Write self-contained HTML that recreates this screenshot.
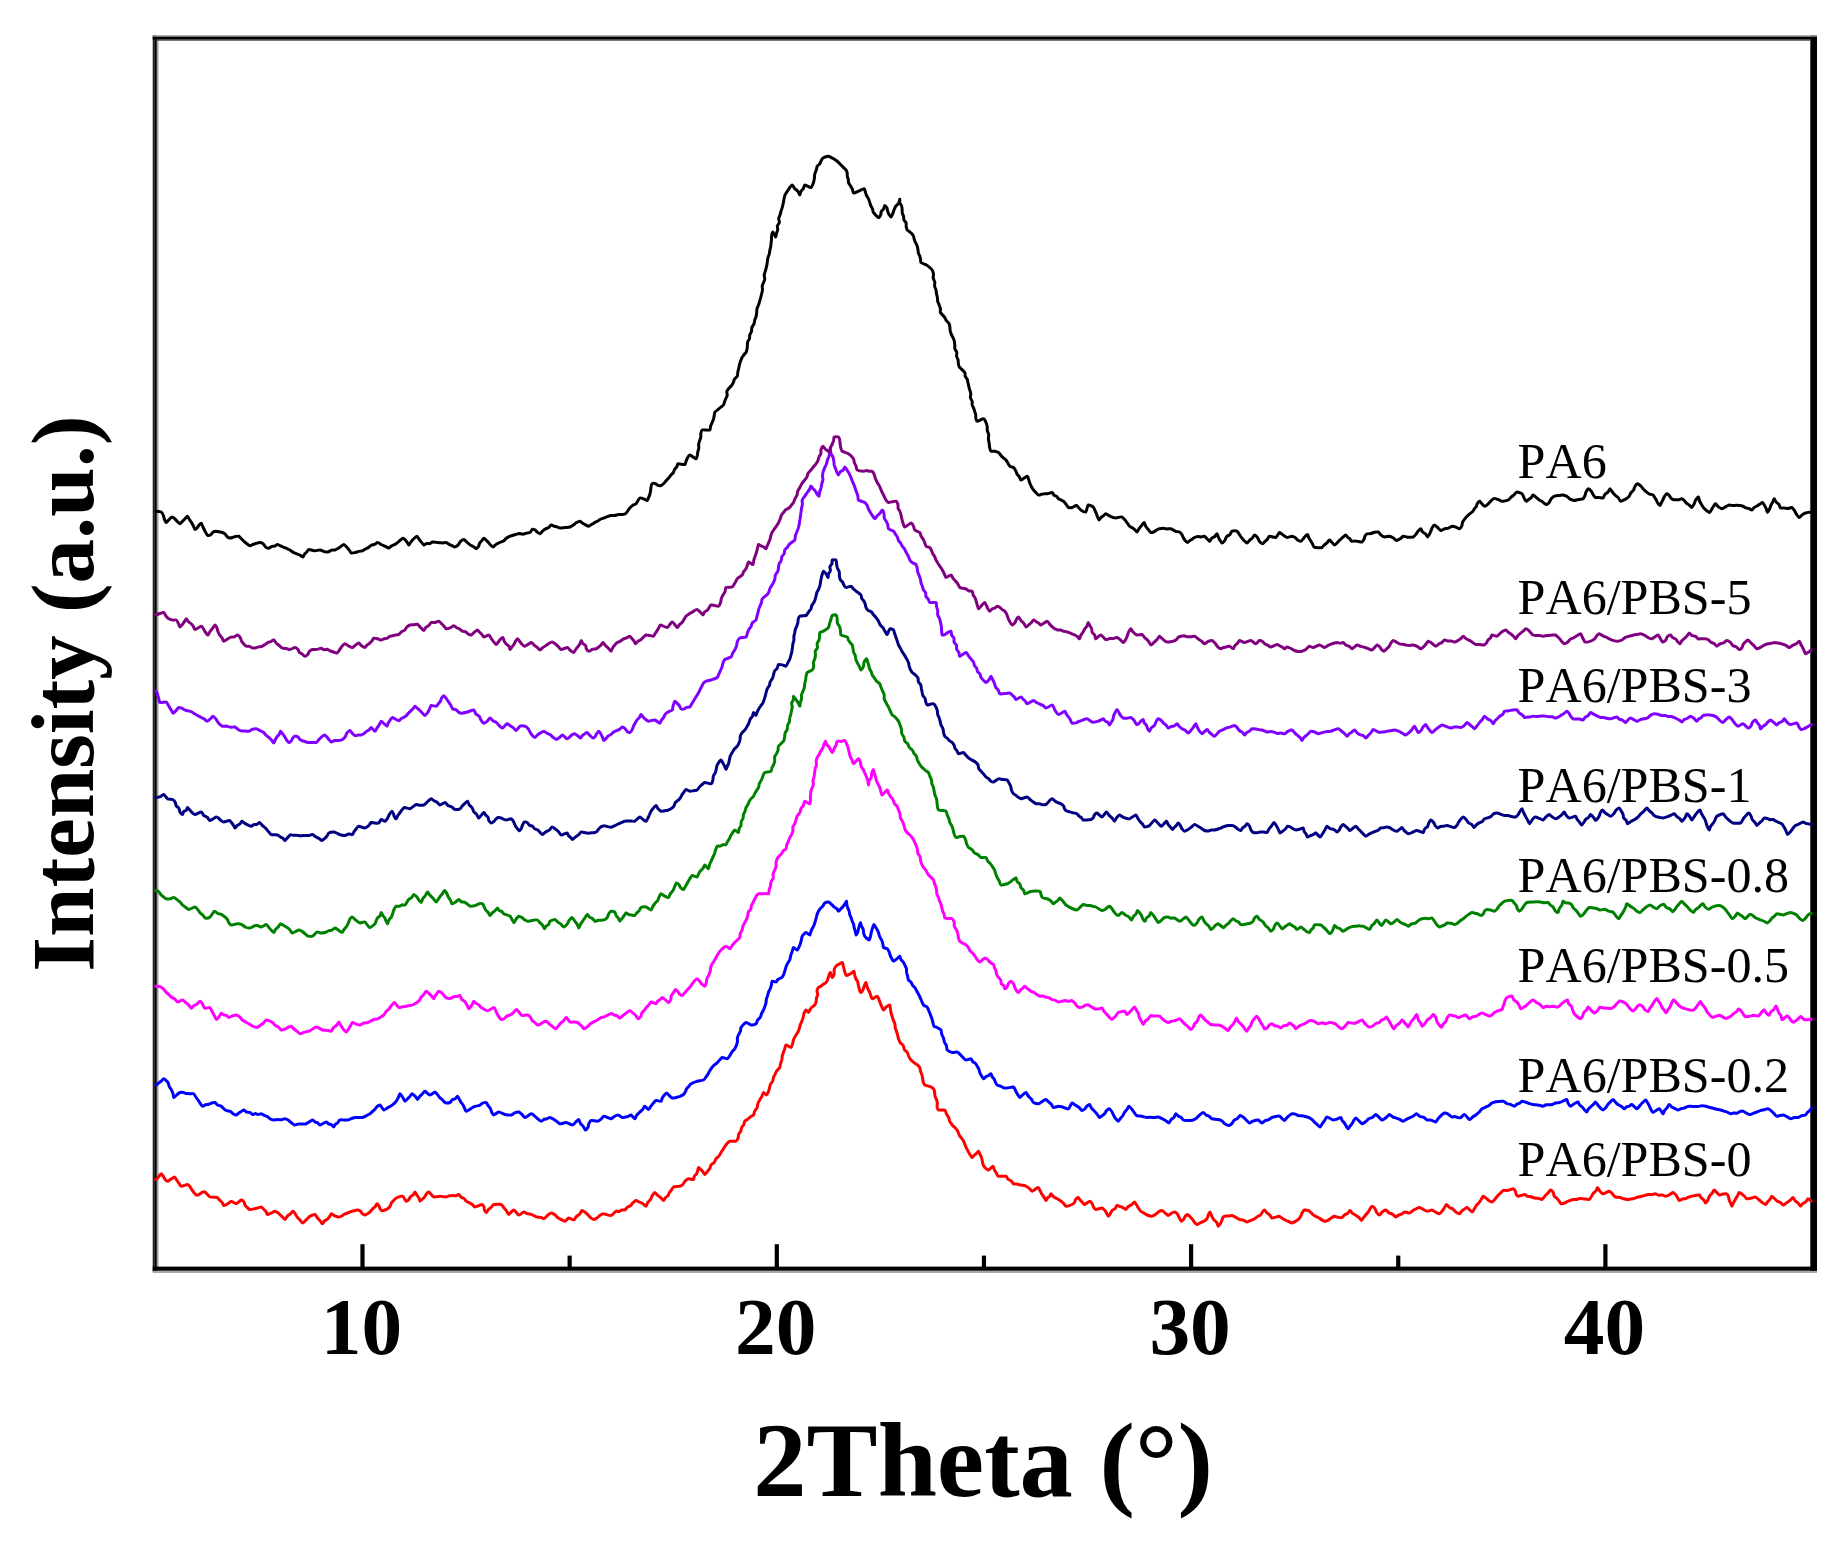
<!DOCTYPE html>
<html lang="en"><head><meta charset="utf-8"><title>XRD patterns</title>
<style>
html,body{margin:0;padding:0;background:#fff;}
body{width:1844px;height:1550px;overflow:hidden;}
svg{display:block;}
.c{fill:none;stroke-width:3;stroke-linejoin:round;stroke-linecap:butt;}
.lab{font-family:"Liberation Serif",serif;font-size:50.1px;fill:#000;font-kerning:none;font-feature-settings:"kern" 0;}
.tick{font-family:"Liberation Serif",serif;font-weight:bold;font-size:81.4px;fill:#000;text-anchor:middle;}
.xt{font-family:"Liberation Serif",serif;font-weight:bold;font-size:106.5px;fill:#000;text-anchor:middle;}
.yt{font-family:"Liberation Serif",serif;font-weight:bold;font-size:89px;fill:#000;text-anchor:middle;}
</style></head><body>
<svg width="1844" height="1550" viewBox="0 0 1844 1550">
<rect width="1844" height="1550" fill="#fff"/>

<defs><clipPath id="cp"><rect x="154.6" y="30" width="1657.6" height="1250"/></clipPath><clipPath id="cq"><rect x="1812.2" y="30" width="4.6" height="1250"/></clipPath></defs>
<g fill="#000">
<rect x="157.6" y="36.9" width="1.2" height="1233" fill="#c0c0c0"/>
<rect x="156.7" y="36.9" width="0.9" height="1233" fill="#6a6a6a"/>
<rect x="152.7" y="35.6" width="1.7" height="1236.4" fill="#222"/>
<rect x="154.3" y="35.6" width="2.4" height="1236.4"/>
<rect x="1810.3" y="35.6" width="6.7" height="1236.4"/>
<rect x="152.7" y="35.4" width="1664.3" height="1.6" fill="#808080"/>
<rect x="157" y="39.4" width="1653.3" height="1.4" fill="#5a5a5a"/>
<rect x="152.7" y="36.9" width="1664.3" height="2.6"/>
<rect x="152.7" y="1270.6" width="1664.3" height="2.4" fill="#a8a8a8"/>
<rect x="152.7" y="1266.6" width="1664.3" height="4.1"/>
<rect x="360.40" y="1244.2" width="4.2" height="24" />
<rect x="774.70" y="1244.2" width="4.2" height="24" />
<rect x="1189.00" y="1244.2" width="4.2" height="24" />
<rect x="1603.30" y="1244.2" width="4.2" height="24" />
<rect x="567.55" y="1255.6" width="4.2" height="12" />
<rect x="981.85" y="1255.6" width="4.2" height="12" />
<rect x="1396.15" y="1255.6" width="4.2" height="12" />
</g>
<g clip-path="url(#cp)"><g id="cv">
<path class="c" stroke="#ff0000" d="M153.0 1179.5C153.4 1179.5 155.6 1179.8 156.2 1179.5C156.9 1179.2 158.1 1177.2 158.7 1176.6C159.2 1175.9 160.7 1173.8 161.2 1173.8C161.8 1173.7 162.9 1175.7 163.3 1176.3C163.7 1176.9 164.5 1178.6 164.9 1179.2C165.4 1179.7 166.8 1181.3 167.5 1181.2C168.2 1181.2 170.2 1179.5 171.0 1179.1C171.7 1178.6 173.9 1176.9 174.5 1177.0C175.1 1177.1 176.3 1179.4 176.7 1180.1C177.2 1180.8 178.4 1182.6 178.9 1183.2C179.4 1183.9 180.3 1186.1 181.2 1186.2C182.2 1186.4 186.5 1184.4 187.5 1184.5C188.5 1184.6 189.6 1186.2 190.1 1186.8C190.5 1187.4 191.4 1189.1 191.9 1189.8C192.3 1190.4 193.4 1191.9 193.9 1192.5C194.4 1193.1 195.7 1194.8 196.2 1195.0C196.8 1195.2 198.7 1194.7 199.3 1194.4C199.9 1194.1 201.3 1192.7 201.9 1192.4C202.5 1192.2 204.1 1191.5 205.0 1192.0C205.9 1192.5 208.7 1196.4 210.0 1197.0C211.3 1197.6 216.0 1197.2 217.0 1197.5C218.0 1197.8 218.9 1199.4 219.5 1200.0C220.0 1200.5 221.5 1201.8 222.0 1202.4C222.4 1203.0 223.3 1205.3 223.8 1205.5C224.2 1205.7 225.9 1204.8 226.5 1204.5C227.0 1204.2 228.4 1203.3 228.9 1202.9C229.4 1202.6 230.4 1201.2 231.2 1201.2C232.1 1201.3 235.2 1203.9 236.2 1203.8C237.3 1203.6 240.4 1200.2 241.2 1200.0C242.1 1199.8 243.5 1201.3 243.9 1201.9C244.4 1202.5 244.7 1204.6 245.1 1205.2C245.5 1205.9 246.8 1207.1 247.3 1207.6C247.8 1208.1 249.3 1209.4 250.0 1209.5C250.7 1209.6 253.0 1209.1 253.8 1208.9C254.6 1208.7 256.7 1208.2 257.5 1208.0C258.4 1207.8 260.6 1206.9 261.2 1207.0C261.9 1207.1 263.2 1208.7 263.7 1209.2C264.2 1209.7 265.6 1210.9 266.0 1211.5C266.4 1212.1 266.9 1214.3 267.5 1214.5C268.1 1214.7 270.4 1213.3 271.3 1212.9C272.1 1212.6 274.3 1211.3 275.0 1211.2C275.7 1211.2 277.3 1212.4 277.9 1212.8C278.5 1213.2 279.8 1214.5 280.3 1215.0C280.8 1215.5 282.2 1216.6 282.7 1217.1C283.3 1217.6 284.5 1219.6 285.0 1219.5C285.5 1219.4 286.6 1216.9 287.2 1216.3C287.7 1215.7 289.7 1214.5 290.3 1214.0C290.9 1213.4 292.4 1211.2 293.0 1211.2C293.6 1211.3 295.0 1213.4 295.4 1214.1C295.9 1214.8 296.8 1216.8 297.4 1217.4C297.9 1218.1 299.5 1219.5 300.1 1220.1C300.7 1220.7 301.9 1222.9 302.5 1223.0C303.1 1223.1 304.6 1221.4 305.1 1220.9C305.7 1220.4 307.0 1219.0 307.5 1218.5C308.0 1218.0 309.2 1216.7 310.0 1216.2C310.8 1215.8 314.2 1214.3 315.0 1214.5C315.8 1214.7 316.8 1217.1 317.3 1217.7C317.9 1218.4 319.5 1220.0 320.0 1220.6C320.6 1221.3 322.0 1223.7 322.5 1223.8C323.0 1223.8 323.9 1221.5 324.4 1221.0C325.0 1220.5 326.9 1219.7 327.4 1219.2C328.0 1218.8 329.2 1217.3 329.6 1216.7C330.0 1216.1 330.7 1213.8 331.2 1213.8C331.8 1213.7 334.0 1215.5 334.8 1215.8C335.6 1216.2 338.0 1217.0 338.8 1217.0C339.5 1217.0 341.2 1216.3 341.8 1216.0C342.4 1215.6 343.8 1214.4 344.5 1214.1C345.1 1213.8 346.8 1213.3 347.5 1213.0C348.2 1212.7 350.0 1211.9 350.7 1211.6C351.4 1211.4 353.3 1210.9 354.1 1210.7C354.8 1210.5 356.8 1210.0 357.5 1210.0C358.2 1210.0 359.8 1210.7 360.4 1211.1C360.9 1211.5 361.8 1213.2 362.3 1213.7C362.8 1214.1 364.2 1215.2 365.0 1215.0C365.8 1214.8 369.2 1212.6 370.0 1212.0C370.8 1211.4 371.7 1209.7 372.2 1209.2C372.8 1208.6 374.5 1207.4 375.1 1206.8C375.6 1206.2 376.6 1203.8 377.0 1203.8C377.4 1203.7 378.6 1205.4 379.0 1206.0C379.3 1206.5 379.7 1208.3 380.1 1208.8C380.5 1209.4 381.7 1210.8 382.5 1210.8C383.3 1210.7 386.7 1209.2 387.5 1208.8C388.3 1208.3 389.7 1207.0 390.1 1206.4C390.5 1205.7 390.9 1203.6 391.3 1202.9C391.7 1202.2 393.2 1201.0 393.7 1200.4C394.3 1199.9 395.3 1198.5 396.2 1198.0C397.2 1197.5 401.4 1195.9 402.5 1196.2C403.6 1196.6 405.5 1200.9 406.2 1201.2C407.0 1201.6 408.4 1199.9 408.9 1199.4C409.4 1198.8 410.1 1197.1 410.6 1196.6C411.1 1196.1 412.9 1195.3 413.3 1194.8C413.8 1194.3 414.6 1192.0 415.0 1192.0C415.4 1192.0 416.4 1194.4 416.8 1195.0C417.2 1195.7 418.5 1197.2 418.9 1197.9C419.2 1198.5 419.6 1201.1 420.0 1201.2C420.4 1201.4 421.8 1199.5 422.3 1199.1C422.8 1198.6 424.2 1197.5 424.7 1196.9C425.1 1196.4 425.9 1194.6 426.3 1194.1C426.8 1193.5 427.9 1191.7 428.8 1192.0C429.6 1192.3 432.5 1196.5 433.8 1197.0C435.0 1197.5 438.6 1196.2 440.0 1196.2C441.4 1196.2 445.2 1197.1 446.2 1197.0C447.3 1196.9 448.6 1195.9 449.3 1195.8C449.9 1195.6 451.7 1195.5 452.5 1195.5C453.2 1195.5 455.1 1195.9 455.8 1195.8C456.5 1195.7 458.2 1194.4 458.8 1194.5C459.3 1194.6 460.4 1196.6 461.0 1197.0C461.6 1197.5 463.6 1198.1 464.1 1198.6C464.7 1199.0 465.7 1200.8 466.2 1201.2C466.8 1201.7 468.7 1202.5 469.4 1202.8C470.1 1203.2 471.8 1204.1 472.4 1204.6C473.0 1205.0 473.9 1207.0 475.0 1207.0C476.1 1207.0 481.0 1204.5 482.0 1204.5C483.0 1204.5 483.7 1206.2 484.0 1206.9C484.3 1207.5 484.2 1209.4 484.4 1210.0C484.7 1210.7 485.8 1212.6 486.2 1212.5C486.7 1212.4 487.8 1210.1 488.4 1209.5C489.0 1208.9 490.7 1207.8 491.3 1207.2C491.9 1206.7 492.7 1204.8 493.8 1204.5C494.8 1204.2 500.1 1204.1 501.2 1204.5C502.4 1204.9 503.2 1207.1 503.8 1207.8C504.4 1208.5 506.1 1210.1 506.6 1210.9C507.2 1211.6 508.0 1214.6 508.8 1214.5C509.5 1214.4 512.6 1209.9 513.8 1210.0C514.9 1210.1 517.6 1214.8 518.8 1215.0C519.9 1215.2 522.8 1212.1 523.8 1212.0C524.7 1211.9 526.5 1213.5 527.4 1213.7C528.2 1214.0 530.6 1214.0 531.4 1214.3C532.3 1214.6 534.3 1215.9 535.0 1216.2C535.7 1216.6 537.2 1217.2 537.9 1217.3C538.5 1217.4 540.3 1217.2 541.0 1217.4C541.6 1217.5 543.2 1218.8 543.8 1218.8C544.3 1218.7 545.7 1217.2 546.2 1216.7C546.7 1216.3 547.9 1215.0 548.5 1214.6C549.0 1214.2 550.5 1213.0 551.2 1213.0C552.0 1213.0 554.1 1214.2 554.9 1214.8C555.6 1215.3 557.1 1217.2 557.8 1217.7C558.5 1218.3 560.5 1219.2 561.3 1219.6C562.1 1220.0 564.2 1221.4 565.0 1221.2C565.8 1221.1 567.8 1218.1 568.8 1218.0C569.7 1217.9 572.9 1220.1 573.8 1220.0C574.6 1219.9 575.6 1217.3 576.3 1216.6C576.9 1216.0 579.1 1214.7 579.7 1214.0C580.3 1213.4 581.4 1210.7 582.0 1210.5C582.6 1210.3 584.5 1211.9 585.2 1212.4C585.9 1212.9 587.4 1214.3 588.0 1214.9C588.6 1215.5 589.9 1217.2 590.5 1217.7C591.1 1218.2 593.0 1219.5 593.8 1219.5C594.5 1219.5 596.5 1218.2 597.2 1217.8C597.9 1217.3 599.4 1215.6 600.1 1215.1C600.8 1214.7 602.6 1213.7 603.8 1213.8C604.9 1213.8 609.7 1215.9 611.0 1215.6C612.3 1215.3 615.1 1211.7 616.0 1211.2C616.9 1210.8 618.4 1211.7 619.0 1211.6C619.7 1211.4 621.1 1210.2 621.8 1210.0C622.4 1209.8 624.1 1210.3 624.8 1210.0C625.4 1209.7 626.7 1207.8 627.3 1207.3C628.0 1206.9 630.0 1206.1 630.6 1205.6C631.3 1205.0 632.4 1203.2 633.0 1202.7C633.6 1202.1 635.3 1200.6 636.0 1200.5C636.7 1200.4 638.7 1201.8 639.5 1202.2C640.3 1202.5 642.3 1203.3 643.0 1203.8C643.7 1204.2 645.5 1206.4 646.0 1206.2C646.5 1206.1 647.2 1203.2 647.7 1202.5C648.2 1201.7 650.0 1200.2 650.5 1199.4C651.0 1198.7 651.8 1196.5 652.2 1195.7C652.7 1195.0 654.2 1192.5 654.8 1192.5C655.3 1192.5 656.9 1194.7 657.6 1195.3C658.2 1195.8 660.1 1197.1 660.7 1197.7C661.4 1198.3 663.0 1200.5 663.5 1200.5C664.0 1200.5 664.9 1198.3 665.4 1197.8C665.9 1197.2 667.6 1196.1 668.1 1195.5C668.5 1194.9 669.1 1193.0 669.5 1192.4C669.9 1191.8 671.1 1190.4 671.6 1189.8C672.0 1189.2 672.6 1187.4 673.5 1187.0C674.4 1186.6 678.7 1186.6 679.8 1186.2C680.8 1185.9 682.4 1184.8 683.0 1184.2C683.6 1183.6 684.7 1181.5 685.3 1180.9C685.9 1180.3 687.6 1178.9 688.5 1178.8C689.4 1178.6 692.9 1179.8 693.5 1179.5C694.1 1179.2 693.9 1176.9 694.3 1176.3C694.6 1175.7 696.2 1174.4 696.6 1173.7C696.9 1173.1 697.5 1171.4 697.7 1170.7C697.9 1170.0 698.2 1167.6 698.5 1167.5C698.8 1167.4 700.4 1169.1 700.9 1169.6C701.4 1170.1 702.6 1171.3 703.0 1171.9C703.4 1172.4 704.3 1174.5 704.8 1174.5C705.2 1174.5 706.7 1172.2 707.3 1171.6C707.8 1170.9 709.4 1169.3 709.8 1168.6C710.2 1167.8 710.6 1165.5 711.1 1164.8C711.6 1164.1 713.8 1163.0 714.3 1162.3C714.8 1161.6 715.5 1159.4 716.0 1158.8C716.5 1158.1 718.2 1156.8 718.7 1156.2C719.3 1155.6 720.3 1153.7 720.7 1153.0C721.1 1152.3 722.3 1150.6 722.8 1149.9C723.2 1149.2 724.2 1147.4 724.7 1146.7C725.2 1146.0 726.4 1144.3 726.9 1143.7C727.5 1143.1 728.8 1141.5 729.8 1141.2C730.7 1141.0 735.1 1141.6 736.0 1141.2C736.9 1140.9 737.8 1138.9 738.1 1138.2C738.4 1137.4 738.3 1135.2 738.6 1134.4C738.8 1133.7 740.3 1132.1 740.7 1131.4C741.0 1130.6 741.2 1128.5 741.5 1127.8C741.8 1127.0 743.4 1125.5 743.7 1124.8C744.1 1124.1 744.3 1121.9 744.8 1121.2C745.2 1120.6 747.1 1119.8 747.8 1119.3C748.4 1118.8 749.8 1117.3 750.4 1116.8C751.0 1116.4 753.0 1115.6 753.5 1115.0C754.0 1114.4 754.3 1111.9 754.7 1111.1C755.1 1110.2 756.8 1108.5 757.1 1107.6C757.5 1106.8 757.6 1104.3 757.9 1103.5C758.2 1102.6 759.4 1100.6 759.8 1099.8C760.2 1099.0 761.5 1097.1 761.9 1096.3C762.3 1095.5 763.0 1092.6 763.5 1092.5C764.0 1092.4 766.0 1095.1 766.5 1095.0C767.0 1094.9 768.1 1092.5 768.4 1091.7C768.7 1090.9 769.2 1088.9 769.5 1088.1C769.7 1087.3 770.0 1085.1 770.4 1084.4C770.7 1083.6 772.3 1082.0 772.7 1081.2C773.0 1080.5 773.2 1078.3 773.5 1077.5C773.8 1076.7 774.8 1074.7 775.2 1073.9C775.6 1073.2 776.6 1071.2 777.1 1070.4C777.6 1069.7 779.4 1068.2 779.8 1067.5C780.1 1066.8 780.2 1064.5 780.5 1063.7C780.7 1062.8 781.6 1060.8 781.8 1060.0C782.0 1059.1 782.1 1056.9 782.2 1056.1C782.4 1055.2 783.2 1053.2 783.4 1052.4C783.7 1051.6 784.5 1049.5 784.8 1048.7C785.0 1047.9 785.3 1045.1 786.0 1045.0C786.7 1044.9 790.3 1047.6 791.0 1047.5C791.7 1047.4 792.3 1044.6 792.6 1043.8C792.9 1042.9 793.2 1040.6 793.5 1039.8C793.8 1039.0 794.9 1037.0 795.3 1036.2C795.8 1035.4 797.1 1033.5 797.5 1032.7C798.0 1031.9 798.9 1029.9 799.2 1029.0C799.5 1028.2 799.9 1025.9 800.2 1025.1C800.5 1024.2 801.4 1022.2 801.8 1021.4C802.1 1020.5 802.9 1018.4 803.1 1017.5C803.4 1016.7 803.7 1014.4 804.0 1013.5C804.3 1012.7 805.5 1010.1 806.0 1010.0C806.5 1009.9 808.1 1012.5 808.5 1012.5C808.9 1012.5 809.7 1010.2 810.0 1009.6C810.4 1009.0 811.6 1007.5 812.1 1007.0C812.6 1006.5 814.3 1005.6 814.8 1005.0C815.2 1004.4 815.9 1002.4 816.1 1001.6C816.3 1000.9 816.4 998.8 816.5 998.1C816.7 997.3 817.6 995.4 817.7 994.6C817.7 993.9 817.0 991.6 817.0 990.8C817.1 990.1 818.1 988.0 818.5 987.5C818.9 987.0 820.6 986.4 821.1 986.0C821.7 985.6 822.9 984.5 823.5 984.1C824.0 983.8 825.5 983.0 826.0 982.5C826.5 982.0 827.5 980.1 827.8 979.3C828.1 978.6 828.5 976.5 828.8 975.7C829.0 975.0 830.1 972.3 830.5 972.5C830.9 972.7 831.8 977.3 832.2 977.5C832.7 977.7 834.0 974.8 834.2 974.0C834.4 973.1 833.9 970.6 834.1 969.8C834.3 968.9 835.1 967.1 836.0 966.2C836.9 965.4 841.5 962.6 842.2 962.5C843.0 962.4 843.1 965.0 843.2 965.8C843.4 966.5 843.9 968.4 844.0 969.1C844.2 969.8 844.6 971.7 844.9 972.4C845.1 973.1 846.0 975.3 846.5 975.5C847.0 975.7 848.6 974.7 849.2 974.4C849.7 974.1 851.1 973.3 851.7 972.9C852.2 972.6 853.7 971.0 854.0 971.2C854.3 971.5 854.6 974.1 854.7 974.9C854.9 975.7 855.4 977.8 855.7 978.5C856.1 979.3 857.4 981.0 857.7 981.8C858.0 982.6 858.2 984.7 858.4 985.5C858.6 986.3 859.0 988.4 859.3 989.1C859.5 989.9 860.6 992.5 861.0 992.5C861.4 992.5 862.8 990.2 863.2 989.4C863.5 988.7 863.9 986.5 864.2 985.8C864.5 985.0 865.7 982.5 866.0 982.5C866.3 982.5 866.6 985.2 866.8 985.9C867.1 986.6 867.7 988.5 868.0 989.2C868.3 989.9 869.3 991.6 869.6 992.3C870.0 993.0 870.5 994.9 870.8 995.6C871.1 996.3 871.5 998.7 872.2 998.8C873.0 998.8 876.5 996.2 877.2 996.2C878.0 996.3 878.6 998.9 879.0 999.6C879.3 1000.4 880.0 1002.4 880.3 1003.2C880.6 1003.9 881.4 1005.9 881.8 1006.6C882.1 1007.4 883.0 1010.0 883.5 1010.0C884.0 1010.0 885.5 1007.6 886.2 1007.0C886.9 1006.5 889.3 1004.8 889.8 1005.0C890.2 1005.2 890.4 1008.0 890.5 1008.8C890.7 1009.6 890.8 1011.9 891.0 1012.7C891.2 1013.5 891.9 1015.6 892.1 1016.4C892.4 1017.2 893.0 1019.3 893.3 1020.1C893.6 1020.9 894.6 1022.9 894.8 1023.7C895.0 1024.5 895.1 1026.8 895.2 1027.6C895.4 1028.4 896.2 1030.5 896.4 1031.3C896.7 1032.1 897.4 1034.2 897.6 1035.0C897.8 1035.8 898.2 1037.9 898.5 1038.8C898.8 1039.6 899.6 1041.8 900.1 1042.5C900.7 1043.3 902.7 1044.7 903.2 1045.5C903.7 1046.3 904.0 1048.8 904.4 1049.6C904.9 1050.3 907.0 1051.8 907.4 1052.6C907.9 1053.3 908.4 1055.7 908.8 1056.5C909.2 1057.4 910.4 1059.3 911.0 1060.0C911.6 1060.7 913.3 1062.0 913.9 1062.5C914.6 1063.0 916.5 1064.1 917.1 1064.7C917.7 1065.2 919.4 1066.8 919.8 1067.5C920.1 1068.2 920.2 1070.3 920.5 1071.1C920.7 1071.9 921.5 1073.7 921.8 1074.5C922.0 1075.3 922.4 1077.3 922.6 1078.0C922.7 1078.8 922.9 1080.9 923.1 1081.7C923.4 1082.4 924.2 1084.5 924.8 1085.0C925.3 1085.5 927.1 1085.7 927.8 1085.9C928.5 1086.1 930.2 1086.5 930.9 1086.8C931.5 1087.1 933.1 1088.2 933.5 1088.8C933.9 1089.3 934.5 1091.4 934.6 1092.2C934.8 1093.0 934.7 1095.1 934.9 1095.9C935.1 1096.7 936.2 1098.5 936.4 1099.3C936.7 1100.0 937.2 1102.0 937.3 1102.8C937.4 1103.6 936.9 1105.8 937.1 1106.6C937.2 1107.4 937.7 1109.6 938.5 1110.0C939.3 1110.4 943.9 1109.6 944.8 1110.0C945.6 1110.4 946.0 1113.0 946.4 1113.9C946.8 1114.7 948.2 1116.6 948.6 1117.5C949.0 1118.3 949.4 1120.7 949.8 1121.5C950.3 1122.3 951.6 1124.2 952.2 1125.0C952.9 1125.8 955.4 1128.0 956.0 1128.8C956.6 1129.5 957.5 1130.9 957.9 1131.5C958.2 1132.2 958.8 1134.1 959.1 1134.7C959.5 1135.4 960.5 1136.9 961.0 1137.5C961.5 1138.1 962.8 1139.9 963.3 1140.6C963.7 1141.3 964.5 1143.3 964.8 1144.1C965.2 1144.9 965.9 1147.0 966.2 1147.7C966.6 1148.5 967.6 1150.4 968.0 1151.1C968.4 1151.9 969.4 1153.7 969.9 1154.4C970.3 1155.1 971.8 1157.4 972.2 1157.5C972.7 1157.6 973.7 1155.7 974.2 1155.3C974.7 1154.8 976.0 1153.9 976.5 1153.4C977.0 1153.0 978.1 1151.1 978.5 1151.2C978.9 1151.4 979.7 1153.7 980.0 1154.4C980.3 1155.1 981.3 1156.8 981.5 1157.6C981.8 1158.3 982.1 1160.2 982.3 1161.0C982.4 1161.8 982.8 1163.7 983.0 1164.4C983.3 1165.1 984.1 1166.9 984.8 1167.5C985.4 1168.1 987.6 1170.1 988.5 1170.0C989.4 1169.9 992.4 1166.3 993.0 1166.2C993.6 1166.2 994.0 1169.1 994.4 1169.8C994.7 1170.6 995.9 1172.4 996.4 1173.1C996.8 1173.8 997.4 1175.9 998.5 1176.2C999.6 1176.6 1005.0 1175.9 1006.0 1176.2C1007.0 1176.6 1007.4 1178.7 1008.0 1179.2C1008.6 1179.8 1010.6 1180.5 1011.2 1181.0C1011.8 1181.5 1012.9 1183.4 1013.5 1183.8C1014.1 1184.1 1016.0 1183.8 1016.7 1183.9C1017.4 1184.0 1019.1 1184.8 1019.8 1184.9C1020.4 1185.1 1022.3 1185.1 1022.9 1185.3C1023.6 1185.4 1025.3 1185.9 1026.0 1186.2C1026.7 1186.6 1028.7 1187.9 1029.4 1188.4C1030.1 1189.0 1031.3 1191.4 1032.2 1191.2C1033.2 1191.1 1037.1 1187.6 1038.0 1187.5C1038.9 1187.4 1039.7 1190.0 1040.1 1190.7C1040.5 1191.4 1041.4 1193.4 1041.8 1194.1C1042.3 1194.8 1043.6 1196.5 1044.0 1197.2C1044.5 1197.9 1045.6 1200.4 1046.0 1200.5C1046.4 1200.6 1047.0 1198.5 1047.4 1198.1C1047.9 1197.6 1049.4 1196.8 1049.7 1196.3C1050.1 1195.8 1050.6 1193.7 1051.0 1193.8C1051.4 1193.8 1052.9 1196.3 1053.5 1196.8C1054.2 1197.3 1056.3 1198.3 1057.0 1198.7C1057.8 1199.1 1059.7 1200.3 1060.4 1200.8C1061.1 1201.3 1062.8 1202.6 1063.4 1203.2C1064.1 1203.8 1065.1 1206.1 1066.0 1206.2C1066.9 1206.4 1071.1 1204.9 1072.0 1204.5C1072.9 1204.1 1074.1 1203.1 1074.5 1202.5C1074.9 1202.0 1075.2 1199.9 1075.7 1199.4C1076.1 1198.8 1077.8 1197.4 1078.2 1197.5C1078.7 1197.6 1079.7 1199.5 1080.1 1200.0C1080.5 1200.6 1081.9 1201.7 1082.3 1202.2C1082.8 1202.7 1083.7 1204.6 1084.5 1204.5C1085.3 1204.4 1089.2 1201.3 1090.0 1201.2C1090.8 1201.2 1091.8 1203.2 1092.2 1203.8C1092.5 1204.5 1093.1 1206.4 1093.5 1207.0C1093.9 1207.6 1094.8 1209.4 1095.8 1209.5C1096.7 1209.6 1101.0 1207.9 1102.0 1208.0C1103.0 1208.1 1104.2 1209.7 1104.7 1210.3C1105.2 1210.9 1106.2 1212.5 1106.6 1213.2C1107.0 1213.8 1107.8 1216.2 1108.2 1216.2C1108.7 1216.3 1110.0 1214.2 1110.4 1213.5C1110.8 1212.9 1111.5 1211.0 1112.1 1210.4C1112.6 1209.9 1114.7 1209.0 1115.2 1208.5C1115.7 1208.0 1116.5 1205.7 1117.0 1205.5C1117.5 1205.3 1119.4 1206.2 1120.1 1206.5C1120.7 1206.7 1122.4 1207.3 1123.1 1207.7C1123.7 1208.0 1125.2 1209.6 1125.8 1209.5C1126.3 1209.4 1127.6 1207.0 1128.2 1206.5C1128.9 1206.0 1131.0 1205.1 1131.7 1204.6C1132.4 1204.2 1134.0 1202.0 1134.5 1202.0C1135.0 1202.0 1136.2 1204.3 1136.6 1205.0C1137.1 1205.7 1138.1 1207.6 1138.5 1208.3C1139.0 1209.0 1140.1 1210.7 1140.8 1211.2C1141.4 1211.8 1143.3 1212.7 1144.0 1213.1C1144.7 1213.5 1146.5 1214.7 1147.2 1215.0C1148.0 1215.3 1150.0 1216.2 1150.8 1216.2C1151.5 1216.3 1153.2 1215.7 1153.9 1215.4C1154.5 1215.1 1155.9 1214.0 1156.5 1213.6C1157.1 1213.2 1158.4 1211.9 1159.0 1211.5C1159.6 1211.2 1161.3 1210.3 1162.0 1210.5C1162.7 1210.7 1164.5 1212.4 1165.1 1213.0C1165.8 1213.5 1167.6 1215.5 1168.2 1215.5C1168.9 1215.5 1170.7 1213.7 1171.4 1213.3C1172.1 1212.9 1174.3 1211.9 1175.0 1212.0C1175.7 1212.1 1177.3 1214.0 1177.8 1214.7C1178.2 1215.3 1179.0 1217.4 1179.4 1218.1C1179.8 1218.9 1181.0 1221.1 1181.5 1221.2C1182.0 1221.4 1183.3 1219.7 1183.7 1219.2C1184.1 1218.7 1184.7 1216.9 1185.1 1216.4C1185.6 1215.9 1187.0 1214.5 1187.5 1214.5C1188.0 1214.5 1189.6 1216.2 1190.1 1216.8C1190.7 1217.3 1191.9 1218.7 1192.4 1219.3C1192.9 1219.9 1193.9 1221.6 1194.4 1222.2C1194.9 1222.8 1196.4 1224.4 1197.0 1224.5C1197.6 1224.6 1199.3 1223.3 1199.9 1223.0C1200.6 1222.7 1202.3 1222.0 1202.9 1221.7C1203.6 1221.3 1205.2 1220.5 1205.8 1220.0C1206.3 1219.5 1207.2 1218.1 1207.5 1217.5C1207.8 1216.9 1208.2 1215.2 1208.4 1214.6C1208.7 1214.0 1209.6 1211.9 1210.0 1212.0C1210.4 1212.1 1211.3 1215.0 1211.7 1215.8C1212.1 1216.6 1213.0 1218.7 1213.6 1219.4C1214.2 1220.2 1216.2 1221.6 1216.7 1222.4C1217.2 1223.1 1217.8 1226.1 1218.2 1226.2C1218.7 1226.4 1220.1 1224.1 1220.5 1223.5C1220.9 1222.8 1221.6 1221.0 1221.9 1220.2C1222.2 1219.5 1222.8 1217.5 1223.2 1217.0C1223.7 1216.5 1225.4 1216.1 1226.1 1216.0C1226.7 1215.8 1228.4 1216.0 1229.1 1215.9C1229.7 1215.9 1231.3 1215.3 1232.0 1215.5C1232.7 1215.7 1234.9 1216.9 1235.7 1217.3C1236.5 1217.7 1238.4 1219.0 1239.3 1219.3C1240.1 1219.6 1242.5 1219.9 1243.3 1220.2C1244.2 1220.5 1246.3 1222.0 1247.0 1222.0C1247.7 1222.0 1249.2 1220.9 1249.9 1220.7C1250.5 1220.4 1252.2 1219.9 1252.9 1219.6C1253.5 1219.3 1255.0 1218.5 1255.6 1218.1C1256.2 1217.7 1257.7 1216.6 1258.2 1216.2C1258.8 1215.9 1260.4 1215.1 1260.8 1214.6C1261.3 1214.2 1262.0 1212.6 1262.4 1212.0C1262.8 1211.5 1264.0 1209.9 1264.5 1210.0C1265.0 1210.1 1266.2 1212.3 1266.8 1212.8C1267.4 1213.4 1269.3 1214.5 1269.8 1215.0C1270.4 1215.6 1271.0 1217.9 1272.0 1218.0C1273.0 1218.1 1277.9 1216.2 1279.0 1216.2C1280.1 1216.3 1281.4 1217.8 1282.1 1218.2C1282.8 1218.7 1284.6 1219.7 1285.3 1220.0C1286.0 1220.4 1287.9 1221.2 1288.7 1221.5C1289.4 1221.8 1290.9 1223.2 1292.0 1223.0C1293.1 1222.8 1297.3 1220.2 1298.2 1219.5C1299.2 1218.8 1300.2 1217.2 1300.6 1216.5C1301.0 1215.8 1301.6 1213.6 1302.1 1212.9C1302.5 1212.2 1303.7 1210.2 1304.5 1210.0C1305.3 1209.8 1308.7 1210.8 1309.5 1211.2C1310.3 1211.7 1311.5 1213.3 1312.1 1213.8C1312.7 1214.3 1314.2 1215.6 1314.9 1216.0C1315.6 1216.4 1317.2 1216.9 1318.2 1217.5C1319.3 1218.1 1323.4 1221.0 1324.5 1221.2C1325.6 1221.5 1327.4 1220.6 1328.2 1220.2C1328.9 1219.9 1330.5 1218.4 1331.2 1218.0C1331.9 1217.5 1333.7 1216.3 1334.5 1216.2C1335.3 1216.2 1337.4 1217.2 1338.2 1217.3C1339.0 1217.4 1341.3 1217.8 1342.0 1217.5C1342.7 1217.2 1343.9 1215.4 1344.5 1215.0C1345.1 1214.5 1347.1 1213.8 1347.7 1213.3C1348.3 1212.8 1349.5 1210.5 1350.0 1210.5C1350.5 1210.5 1351.9 1212.9 1352.5 1213.4C1353.2 1213.9 1355.2 1214.9 1355.9 1215.3C1356.6 1215.8 1358.4 1217.0 1359.0 1217.5C1359.7 1218.1 1361.0 1220.5 1361.5 1220.5C1362.0 1220.5 1363.1 1218.2 1363.5 1217.6C1364.0 1217.0 1365.3 1215.4 1365.8 1214.8C1366.3 1214.2 1367.7 1212.8 1368.1 1212.2C1368.6 1211.6 1369.5 1209.7 1369.9 1209.1C1370.3 1208.4 1371.4 1206.3 1372.0 1206.2C1372.6 1206.2 1374.5 1208.0 1375.0 1208.7C1375.5 1209.4 1376.2 1211.7 1376.6 1212.4C1377.1 1213.1 1378.9 1215.0 1379.5 1215.0C1380.1 1215.0 1381.5 1212.5 1382.2 1212.0C1382.9 1211.4 1385.0 1209.9 1385.8 1210.0C1386.5 1210.1 1388.1 1212.2 1388.8 1212.7C1389.6 1213.2 1391.9 1213.8 1392.7 1214.3C1393.5 1214.7 1395.1 1216.9 1395.8 1217.0C1396.4 1217.1 1397.9 1215.4 1398.5 1215.1C1399.2 1214.8 1401.1 1214.4 1401.8 1214.0C1402.5 1213.7 1403.7 1212.1 1404.5 1212.0C1405.3 1211.9 1408.6 1213.1 1409.5 1213.0C1410.4 1212.9 1411.9 1211.1 1412.6 1210.7C1413.3 1210.2 1415.2 1209.2 1415.9 1208.9C1416.7 1208.5 1418.7 1207.4 1419.5 1207.5C1420.3 1207.6 1422.4 1209.0 1423.2 1209.4C1424.1 1209.8 1426.0 1211.2 1427.0 1211.2C1428.0 1211.3 1431.1 1209.9 1432.0 1210.0C1432.9 1210.1 1434.8 1211.8 1435.6 1212.2C1436.4 1212.6 1438.8 1213.9 1439.5 1213.8C1440.2 1213.6 1441.7 1211.6 1442.2 1211.0C1442.8 1210.3 1443.9 1208.5 1444.4 1207.8C1444.9 1207.0 1446.0 1204.5 1446.5 1204.5C1447.0 1204.5 1448.6 1206.8 1449.4 1207.4C1450.1 1207.9 1452.3 1208.6 1453.0 1209.1C1453.7 1209.6 1455.1 1211.5 1455.9 1212.0C1456.6 1212.5 1458.9 1213.8 1459.5 1213.8C1460.1 1213.7 1461.1 1211.7 1461.6 1211.2C1462.1 1210.7 1463.6 1209.7 1464.2 1209.3C1464.8 1208.9 1466.1 1207.2 1467.0 1207.5C1467.9 1207.8 1471.2 1211.8 1472.0 1212.0C1472.8 1212.2 1473.8 1209.6 1474.3 1208.9C1474.7 1208.2 1475.7 1206.2 1476.2 1205.5C1476.8 1204.8 1478.5 1203.4 1479.0 1202.7C1479.6 1202.1 1480.7 1200.2 1481.2 1199.5C1481.6 1198.8 1482.7 1196.4 1483.2 1196.2C1483.8 1196.1 1485.5 1197.7 1486.1 1198.2C1486.8 1198.7 1488.2 1200.1 1488.8 1200.5C1489.4 1200.9 1491.3 1202.1 1492.0 1202.0C1492.7 1201.9 1494.3 1199.8 1494.9 1199.2C1495.5 1198.5 1496.8 1196.7 1497.4 1196.1C1498.0 1195.4 1499.7 1193.9 1500.3 1193.3C1501.0 1192.6 1502.6 1190.8 1503.2 1190.5C1503.9 1190.2 1505.9 1190.5 1506.7 1190.4C1507.4 1190.4 1509.3 1190.1 1510.0 1189.9C1510.7 1189.7 1512.7 1188.6 1513.2 1188.8C1513.8 1188.9 1515.0 1190.4 1515.3 1191.0C1515.6 1191.6 1515.8 1193.5 1516.1 1194.0C1516.5 1194.6 1517.3 1196.2 1518.2 1196.2C1519.2 1196.3 1523.5 1194.5 1524.5 1194.5C1525.5 1194.5 1526.5 1195.9 1527.1 1196.2C1527.7 1196.4 1529.5 1196.4 1530.2 1196.5C1530.8 1196.7 1532.4 1197.3 1533.0 1197.5C1533.6 1197.7 1535.2 1198.2 1535.9 1198.3C1536.5 1198.4 1538.3 1198.3 1538.9 1198.4C1539.6 1198.5 1541.2 1199.6 1541.8 1199.5C1542.3 1199.4 1543.5 1197.7 1544.0 1197.2C1544.5 1196.6 1545.6 1195.3 1546.1 1194.8C1546.6 1194.2 1547.9 1193.0 1548.4 1192.5C1548.9 1192.0 1550.0 1190.0 1550.5 1190.0C1551.0 1190.0 1552.8 1191.7 1553.2 1192.3C1553.6 1193.0 1553.7 1195.3 1554.1 1195.9C1554.5 1196.6 1556.2 1197.7 1556.8 1198.3C1557.3 1198.8 1558.6 1200.3 1559.0 1200.9C1559.5 1201.5 1560.4 1203.5 1561.0 1203.8C1561.6 1204.0 1563.5 1203.3 1564.2 1203.1C1564.8 1202.9 1566.4 1202.0 1567.0 1201.7C1567.7 1201.4 1569.3 1200.8 1570.0 1200.5C1570.7 1200.3 1572.3 1199.6 1573.0 1199.5C1573.7 1199.4 1575.6 1199.7 1576.4 1199.5C1577.1 1199.4 1578.9 1198.4 1579.6 1198.4C1580.3 1198.3 1581.9 1198.6 1583.0 1198.8C1584.1 1198.9 1588.3 1199.7 1589.2 1199.5C1590.2 1199.3 1590.9 1197.2 1591.4 1196.5C1591.8 1195.9 1592.8 1194.0 1593.3 1193.4C1593.8 1192.8 1595.5 1191.5 1596.0 1190.9C1596.5 1190.2 1597.1 1187.5 1597.5 1187.5C1597.9 1187.5 1599.2 1190.4 1599.8 1191.0C1600.4 1191.7 1602.0 1193.7 1603.0 1193.8C1604.0 1193.8 1608.3 1191.3 1609.2 1191.2C1610.2 1191.2 1611.1 1192.5 1611.6 1192.9C1612.0 1193.3 1613.0 1194.6 1613.4 1195.1C1613.9 1195.5 1614.8 1196.8 1615.5 1197.0C1616.2 1197.2 1618.5 1197.1 1619.4 1197.3C1620.2 1197.5 1622.2 1198.3 1623.0 1198.6C1623.8 1198.8 1625.9 1199.4 1626.8 1199.5C1627.6 1199.6 1629.8 1199.2 1630.6 1199.1C1631.4 1199.0 1633.6 1198.7 1634.4 1198.4C1635.2 1198.2 1637.2 1197.2 1638.0 1197.0C1638.8 1196.8 1640.7 1196.5 1641.5 1196.3C1642.3 1196.1 1644.2 1195.6 1644.9 1195.4C1645.7 1195.2 1647.6 1194.7 1648.4 1194.6C1649.2 1194.5 1651.3 1194.7 1652.0 1194.6C1652.8 1194.5 1654.8 1193.7 1655.5 1193.8C1656.2 1193.8 1657.9 1195.1 1658.7 1195.2C1659.4 1195.3 1661.6 1194.8 1662.3 1194.9C1663.1 1195.0 1664.7 1196.3 1665.5 1196.2C1666.3 1196.2 1668.6 1195.2 1669.4 1194.7C1670.3 1194.3 1672.3 1192.5 1673.0 1192.5C1673.7 1192.5 1675.1 1194.2 1675.6 1194.7C1676.1 1195.3 1677.1 1196.9 1677.5 1197.6C1677.9 1198.2 1678.7 1200.3 1679.2 1200.5C1679.8 1200.7 1681.5 1199.3 1682.2 1199.1C1682.9 1198.8 1684.9 1198.9 1685.6 1198.6C1686.3 1198.4 1687.9 1197.3 1688.5 1197.1C1689.2 1196.8 1691.0 1196.4 1691.8 1196.2C1692.5 1196.1 1694.6 1195.5 1695.5 1195.4C1696.3 1195.3 1698.6 1194.7 1699.2 1195.0C1699.9 1195.3 1700.7 1197.2 1701.2 1197.8C1701.7 1198.3 1703.4 1199.4 1703.9 1200.0C1704.4 1200.5 1705.0 1203.0 1705.5 1203.0C1706.0 1203.0 1707.5 1200.7 1708.0 1199.9C1708.4 1199.2 1709.0 1196.9 1709.4 1196.2C1709.9 1195.4 1711.5 1193.9 1712.1 1193.3C1712.6 1192.6 1713.5 1189.8 1714.2 1190.0C1715.0 1190.2 1718.3 1194.6 1719.2 1195.0C1720.2 1195.4 1722.1 1194.1 1722.9 1194.0C1723.8 1193.9 1726.1 1193.5 1726.8 1193.8C1727.4 1194.0 1728.2 1196.0 1728.4 1196.7C1728.7 1197.4 1729.0 1199.3 1729.2 1200.0C1729.4 1200.7 1730.3 1202.4 1730.6 1203.1C1730.9 1203.8 1731.4 1206.3 1731.8 1206.2C1732.1 1206.2 1733.1 1203.5 1733.5 1202.7C1733.9 1202.0 1735.0 1200.1 1735.4 1199.3C1735.8 1198.6 1737.0 1196.7 1737.4 1196.0C1737.8 1195.2 1738.7 1192.7 1739.2 1192.5C1739.8 1192.3 1741.5 1193.8 1742.1 1194.2C1742.7 1194.6 1744.0 1195.8 1744.5 1196.3C1745.0 1196.8 1746.2 1198.5 1746.8 1198.8C1747.3 1199.0 1749.1 1198.5 1749.7 1198.4C1750.4 1198.3 1752.0 1197.9 1752.6 1197.8C1753.3 1197.6 1754.6 1196.6 1755.5 1197.0C1756.4 1197.4 1759.4 1200.4 1760.5 1201.2C1761.6 1202.1 1764.7 1204.4 1765.5 1204.5C1766.3 1204.6 1767.1 1202.3 1767.6 1201.8C1768.1 1201.2 1769.6 1199.9 1770.1 1199.3C1770.5 1198.7 1771.3 1196.3 1771.8 1196.2C1772.2 1196.2 1773.9 1198.0 1774.5 1198.6C1775.0 1199.1 1776.4 1200.6 1777.0 1201.0C1777.7 1201.5 1779.8 1202.1 1780.4 1202.5C1781.1 1202.9 1782.3 1205.0 1783.0 1205.0C1783.7 1205.0 1785.8 1203.3 1786.6 1202.8C1787.3 1202.3 1789.2 1201.0 1789.9 1200.4C1790.7 1199.8 1792.4 1197.5 1793.0 1197.5C1793.6 1197.5 1794.5 1200.2 1795.0 1200.8C1795.6 1201.4 1797.6 1202.6 1798.2 1203.2C1798.8 1203.8 1800.0 1206.2 1800.5 1206.2C1801.0 1206.3 1802.2 1204.1 1802.8 1203.6C1803.4 1203.1 1805.4 1202.2 1805.9 1201.7C1806.5 1201.2 1807.4 1198.8 1808.0 1198.8C1808.6 1198.7 1810.7 1201.0 1811.8 1201.2C1812.8 1201.5 1817.3 1201.2 1818.0 1201.2"/>
<path class="c" stroke="#0000ff" d="M153.0 1085.0C153.4 1085.0 155.6 1085.2 156.2 1085.0C156.9 1084.8 158.2 1083.3 158.7 1082.9C159.3 1082.4 160.8 1081.5 161.4 1081.0C162.0 1080.6 163.0 1078.6 163.8 1078.8C164.5 1078.9 167.4 1081.7 168.0 1082.5C168.6 1083.3 168.8 1085.5 169.2 1086.3C169.6 1087.1 171.0 1089.0 171.4 1089.8C171.8 1090.6 172.7 1092.6 173.0 1093.5C173.3 1094.3 173.3 1097.3 173.8 1097.5C174.2 1097.7 176.1 1095.4 176.8 1094.9C177.4 1094.3 179.3 1092.8 180.0 1092.5C180.7 1092.2 182.7 1092.4 183.5 1092.5C184.2 1092.6 186.1 1093.5 186.8 1093.6C187.6 1093.7 189.5 1093.7 190.3 1093.7C191.0 1093.7 193.1 1093.4 193.8 1093.8C194.4 1094.1 195.3 1096.3 195.8 1097.0C196.3 1097.7 197.6 1099.4 198.1 1100.1C198.5 1100.7 199.6 1102.6 200.1 1103.3C200.6 1103.9 201.9 1106.1 202.5 1106.2C203.1 1106.4 204.8 1105.0 205.5 1104.8C206.2 1104.6 208.0 1104.5 208.7 1104.3C209.4 1104.1 211.0 1103.1 211.7 1103.0C212.4 1102.8 214.4 1102.3 215.0 1102.5C215.6 1102.7 216.9 1104.7 217.6 1105.1C218.2 1105.5 220.5 1105.7 221.2 1106.1C221.9 1106.5 223.2 1108.2 223.8 1108.8C224.3 1109.3 225.9 1110.5 226.7 1110.7C227.4 1111.0 229.6 1111.0 230.3 1111.3C231.0 1111.6 232.3 1113.3 233.0 1113.7C233.7 1114.1 235.6 1115.1 236.2 1115.0C236.9 1114.9 238.1 1113.5 238.6 1113.1C239.2 1112.8 240.6 1111.9 241.2 1111.5C241.7 1111.2 243.2 1110.0 243.8 1110.0C244.3 1110.0 245.8 1111.7 246.4 1112.0C247.1 1112.2 249.2 1112.1 249.9 1112.4C250.6 1112.6 251.9 1114.4 252.5 1114.5C253.1 1114.6 254.7 1113.6 255.4 1113.6C256.0 1113.6 257.7 1114.6 258.4 1114.6C259.0 1114.6 260.6 1113.7 261.2 1113.8C261.9 1113.8 263.5 1115.1 264.2 1115.4C264.8 1115.7 266.7 1116.2 267.4 1116.6C268.0 1116.9 269.3 1118.4 270.0 1118.8C270.7 1119.1 272.9 1119.8 273.7 1119.9C274.5 1119.9 276.7 1119.5 277.5 1119.5C278.3 1119.5 280.5 1119.9 281.3 1119.8C282.1 1119.7 284.2 1118.7 285.0 1118.8C285.8 1118.8 287.8 1119.9 288.5 1120.3C289.2 1120.8 290.7 1122.3 291.4 1122.8C292.1 1123.3 293.7 1124.9 294.5 1125.0C295.3 1125.1 297.5 1124.2 298.4 1124.0C299.2 1123.9 301.4 1123.9 302.3 1123.9C303.2 1123.9 305.1 1124.2 306.2 1123.8C307.4 1123.3 311.5 1120.2 312.5 1120.0C313.5 1119.8 314.3 1121.5 314.9 1121.8C315.5 1122.1 317.2 1122.6 317.8 1122.9C318.3 1123.3 319.1 1125.1 320.0 1125.0C320.9 1124.9 325.3 1122.1 326.2 1122.0C327.2 1121.9 328.0 1123.6 328.6 1123.9C329.2 1124.2 331.1 1124.4 331.6 1124.8C332.2 1125.1 333.3 1127.0 333.8 1127.0C334.2 1127.0 334.8 1124.8 335.3 1124.4C335.7 1123.9 337.5 1123.1 337.9 1122.6C338.4 1122.2 338.9 1120.3 339.5 1120.0C340.1 1119.7 342.6 1119.9 343.5 1119.9C344.4 1119.9 346.7 1120.1 347.5 1120.0C348.3 1119.9 350.4 1118.9 351.2 1118.6C352.0 1118.4 353.8 1117.6 355.0 1117.5C356.2 1117.4 361.3 1117.7 362.5 1117.5C363.7 1117.3 365.5 1116.2 366.3 1115.8C367.1 1115.3 369.3 1114.2 370.0 1113.8C370.7 1113.3 371.9 1112.0 372.5 1111.5C373.0 1111.0 374.4 1109.8 374.9 1109.2C375.4 1108.7 376.5 1107.1 377.0 1106.7C377.6 1106.2 379.3 1104.6 380.0 1105.0C380.7 1105.4 383.0 1109.7 383.8 1110.0C384.5 1110.3 386.3 1108.5 387.1 1108.1C387.8 1107.7 389.7 1106.6 390.4 1106.2C391.1 1105.8 392.9 1104.6 393.5 1104.0C394.2 1103.5 395.7 1102.0 396.2 1101.2C396.8 1100.5 397.9 1098.4 398.3 1097.6C398.8 1096.8 399.6 1093.9 400.0 1093.8C400.4 1093.6 401.5 1095.6 401.8 1096.1C402.2 1096.7 403.2 1098.1 403.5 1098.6C403.9 1099.2 404.6 1101.2 405.0 1101.2C405.4 1101.3 407.0 1099.5 407.5 1098.9C408.1 1098.4 409.4 1097.0 409.9 1096.4C410.3 1095.9 411.4 1093.8 412.0 1093.8C412.6 1093.7 414.6 1095.6 415.2 1096.2C415.8 1096.9 417.0 1099.5 417.5 1099.5C418.0 1099.5 419.2 1097.1 419.7 1096.5C420.2 1095.9 421.8 1094.4 422.3 1093.9C422.9 1093.3 424.2 1091.1 425.0 1091.2C425.8 1091.4 428.9 1094.9 430.0 1095.0C431.1 1095.1 434.2 1092.0 435.0 1092.0C435.8 1092.0 437.0 1094.0 437.5 1094.6C438.0 1095.2 439.1 1097.0 439.7 1097.6C440.2 1098.1 441.9 1099.3 442.5 1099.9C443.1 1100.4 444.2 1102.2 445.0 1102.5C445.8 1102.8 449.2 1102.8 450.0 1102.5C450.8 1102.2 451.5 1100.3 452.0 1099.9C452.6 1099.5 454.7 1099.1 455.3 1098.7C455.9 1098.3 457.1 1096.2 457.5 1096.2C457.9 1096.3 459.0 1098.5 459.3 1099.2C459.7 1099.9 460.6 1101.6 461.0 1102.3C461.4 1102.9 462.7 1104.4 463.1 1105.0C463.5 1105.7 464.2 1107.5 464.6 1108.2C464.9 1108.9 465.4 1111.3 466.2 1111.2C467.1 1111.2 471.4 1108.1 472.5 1107.5C473.6 1106.9 475.1 1106.3 475.9 1106.1C476.7 1105.9 478.8 1105.7 479.5 1105.4C480.3 1105.1 481.9 1103.5 482.6 1103.2C483.3 1102.9 485.7 1102.2 486.2 1102.5C486.8 1102.8 487.6 1105.0 488.1 1105.7C488.5 1106.3 490.0 1107.8 490.4 1108.5C490.8 1109.2 491.3 1111.3 491.6 1112.0C492.0 1112.7 493.0 1115.0 493.8 1115.0C494.5 1115.0 497.5 1112.1 498.8 1112.0C500.0 1111.9 503.6 1114.2 505.0 1114.5C506.4 1114.8 510.2 1115.2 511.2 1115.0C512.3 1114.8 513.9 1113.2 514.7 1112.9C515.6 1112.5 517.9 1111.8 518.8 1112.0C519.6 1112.2 521.4 1113.9 522.1 1114.5C522.8 1115.1 524.0 1117.6 525.0 1117.5C526.0 1117.4 530.2 1113.9 531.2 1113.8C532.3 1113.6 534.0 1115.5 534.7 1116.1C535.4 1116.6 537.1 1118.3 537.8 1118.9C538.5 1119.5 540.6 1121.2 541.2 1121.2C541.9 1121.3 543.3 1119.7 543.9 1119.4C544.5 1119.1 546.4 1118.9 547.1 1118.7C547.7 1118.5 549.3 1117.4 550.0 1117.5C550.7 1117.6 552.8 1118.8 553.6 1119.2C554.3 1119.6 556.1 1120.9 556.8 1121.4C557.5 1121.9 559.0 1123.6 560.0 1123.8C561.0 1123.9 564.9 1122.4 566.2 1122.5C567.6 1122.6 571.5 1125.0 572.5 1125.0C573.5 1125.0 574.9 1122.8 575.6 1122.2C576.3 1121.6 578.2 1119.4 578.8 1119.5C579.3 1119.6 579.9 1122.6 580.4 1123.4C580.9 1124.1 582.7 1125.8 583.3 1126.5C583.8 1127.2 585.0 1129.9 585.5 1130.0C586.0 1130.1 587.6 1127.9 588.0 1127.2C588.4 1126.5 588.5 1124.1 588.9 1123.4C589.3 1122.7 590.3 1120.7 591.2 1120.5C592.2 1120.3 596.4 1121.4 597.5 1121.2C598.6 1121.1 600.3 1119.8 601.0 1119.2C601.7 1118.7 603.0 1116.5 603.8 1116.2C604.5 1116.0 606.6 1117.0 607.4 1117.3C608.2 1117.6 610.2 1118.8 611.0 1118.8C611.8 1118.7 613.5 1116.9 614.3 1116.5C615.0 1116.1 617.1 1114.9 618.0 1115.0C618.9 1115.1 621.5 1117.3 622.2 1117.5C623.0 1117.7 624.6 1117.1 625.3 1117.0C625.9 1116.9 627.6 1116.7 628.3 1116.4C628.9 1116.2 630.3 1114.7 631.0 1115.0C631.7 1115.3 634.1 1118.7 634.8 1118.8C635.4 1118.8 636.2 1115.9 636.7 1115.2C637.2 1114.5 638.8 1112.9 639.5 1112.3C640.1 1111.7 642.0 1110.3 642.6 1109.6C643.1 1109.0 644.1 1106.3 644.8 1106.2C645.4 1106.2 647.8 1109.5 648.5 1109.5C649.2 1109.5 650.3 1107.0 650.8 1106.3C651.3 1105.7 652.6 1103.9 653.2 1103.3C653.8 1102.6 655.1 1100.7 656.0 1100.5C656.9 1100.3 660.3 1101.5 661.0 1101.2C661.7 1101.0 661.9 1098.7 662.2 1098.1C662.6 1097.4 663.6 1095.9 664.1 1095.4C664.6 1094.8 665.9 1093.0 666.5 1093.0C667.1 1093.0 668.6 1095.1 669.3 1095.6C669.9 1096.2 671.5 1097.8 672.2 1098.0C673.0 1098.2 675.4 1097.7 676.2 1097.5C677.1 1097.3 679.2 1096.7 680.0 1096.4C680.8 1096.0 682.9 1095.0 683.5 1094.5C684.1 1094.0 685.0 1092.5 685.4 1091.8C685.7 1091.2 686.3 1089.3 686.7 1088.7C687.1 1088.1 688.4 1086.8 688.9 1086.3C689.4 1085.7 690.1 1084.3 691.0 1083.8C691.9 1083.2 695.9 1081.7 697.2 1081.2C698.6 1080.8 702.6 1080.4 703.5 1080.0C704.4 1079.6 705.3 1078.0 705.7 1077.4C706.2 1076.8 707.3 1075.3 707.7 1074.7C708.1 1074.0 708.9 1072.3 709.3 1071.7C709.7 1071.0 710.5 1069.4 711.0 1068.8C711.5 1068.1 712.9 1066.3 713.5 1065.7C714.1 1065.0 716.0 1063.7 716.7 1063.2C717.3 1062.6 718.8 1060.9 719.4 1060.3C720.0 1059.7 721.4 1057.7 722.2 1057.5C723.1 1057.3 726.4 1059.0 727.2 1058.8C728.1 1058.5 729.4 1056.3 729.9 1055.5C730.4 1054.8 731.4 1052.6 732.0 1051.9C732.5 1051.1 734.3 1049.5 734.8 1048.8C735.2 1048.0 736.1 1046.2 736.4 1045.4C736.7 1044.6 737.3 1042.6 737.4 1041.8C737.5 1041.0 737.3 1038.8 737.4 1038.0C737.5 1037.2 738.3 1035.2 738.6 1034.5C739.0 1033.7 740.2 1032.0 740.5 1031.2C740.8 1030.4 740.4 1028.5 741.0 1027.5C741.6 1026.5 744.9 1022.8 746.0 1022.5C747.1 1022.2 749.9 1024.9 751.0 1025.0C752.1 1025.1 755.3 1024.3 756.0 1023.8C756.7 1023.2 757.1 1020.9 757.6 1020.2C758.1 1019.4 759.9 1017.9 760.3 1017.2C760.8 1016.5 761.3 1014.2 761.6 1013.4C762.0 1012.7 763.1 1010.8 763.5 1010.0C763.9 1009.2 764.6 1007.3 764.9 1006.5C765.1 1005.7 765.8 1003.7 766.0 1002.9C766.1 1002.1 766.2 999.9 766.4 999.1C766.5 998.3 767.3 996.3 767.6 995.5C767.8 994.7 768.3 992.7 768.6 991.9C768.9 991.2 770.0 989.3 770.3 988.5C770.6 987.7 771.2 985.7 771.4 984.9C771.6 984.1 771.7 981.6 772.2 981.2C772.8 980.9 775.4 982.2 776.0 982.0C776.6 981.8 777.5 979.7 778.1 979.3C778.7 978.8 780.8 978.2 781.4 977.8C782.0 977.3 783.1 975.7 783.5 975.0C783.9 974.3 784.5 971.9 784.8 971.0C785.1 970.2 785.7 967.9 786.0 967.0C786.3 966.1 787.3 964.0 787.7 963.2C788.1 962.4 789.6 960.4 789.9 959.5C790.2 958.7 790.5 956.3 790.7 955.4C791.0 954.5 791.9 952.4 792.2 951.5C792.6 950.6 792.9 947.7 793.5 947.5C794.1 947.3 796.6 950.1 797.2 950.0C797.9 949.9 798.7 947.5 799.1 946.8C799.4 946.0 800.2 944.1 800.4 943.4C800.7 942.6 801.2 940.6 801.4 939.8C801.6 939.0 801.7 937.1 802.2 936.2C802.8 935.4 805.2 932.6 806.0 932.5C806.8 932.4 809.2 935.1 809.8 935.0C810.3 934.9 810.6 932.3 810.9 931.6C811.2 930.8 812.0 929.0 812.4 928.3C812.7 927.5 813.8 925.8 814.1 925.0C814.4 924.3 814.9 922.3 815.2 921.6C815.4 920.8 815.9 918.8 816.1 918.1C816.3 917.3 816.8 915.3 817.0 914.6C817.3 913.8 818.1 911.9 818.5 911.2C818.9 910.6 819.9 909.0 820.4 908.4C820.9 907.8 822.5 906.6 822.9 906.0C823.4 905.4 824.1 903.4 824.8 903.0C825.4 902.6 827.7 901.8 828.5 902.0C829.3 902.2 831.6 904.4 832.2 905.0C832.9 905.6 833.8 906.7 834.3 907.2C834.8 907.6 836.5 908.2 836.9 908.7C837.4 909.1 838.1 911.2 838.5 911.2C838.9 911.3 840.3 909.5 840.7 908.9C841.2 908.4 842.5 907.2 843.0 906.6C843.4 906.1 844.5 904.6 844.8 904.0C845.2 903.4 846.3 901.2 846.5 901.2C846.7 901.3 846.7 903.9 846.8 904.7C847.0 905.4 847.5 907.2 847.7 907.9C848.0 908.6 848.9 910.3 849.1 911.0C849.4 911.7 849.5 913.7 849.7 914.4C849.9 915.1 850.7 916.8 851.0 917.5C851.3 918.2 851.9 920.2 852.2 921.0C852.5 921.7 853.4 923.6 853.6 924.3C853.8 925.1 854.0 927.2 854.2 927.9C854.4 928.7 855.1 930.6 855.3 931.4C855.5 932.2 855.7 934.9 856.0 935.0C856.3 935.1 857.5 932.8 857.7 932.1C858.0 931.4 858.3 929.6 858.5 928.8C858.7 928.1 859.2 926.3 859.4 925.6C859.7 924.9 860.3 922.5 860.5 922.5C860.7 922.5 861.1 925.3 861.4 926.0C861.7 926.7 862.9 928.5 863.2 929.2C863.4 930.0 863.5 932.1 863.6 932.8C863.8 933.6 864.2 935.5 864.8 936.2C865.3 937.0 868.4 940.0 869.0 940.0C869.6 940.0 870.3 937.1 870.5 936.2C870.8 935.4 871.1 933.1 871.3 932.2C871.6 931.3 872.1 929.1 872.4 928.3C872.7 927.4 873.6 924.6 874.0 924.5C874.4 924.4 875.3 926.5 875.6 927.1C876.0 927.7 876.9 929.1 877.2 929.7C877.5 930.3 878.3 931.8 878.5 932.5C878.7 933.2 879.2 935.5 879.5 936.3C879.8 937.1 881.1 939.0 881.5 939.8C881.9 940.6 882.6 942.7 882.8 943.6C883.1 944.4 883.0 946.9 883.5 947.5C884.0 948.1 886.6 948.3 887.2 948.8C887.9 949.2 888.7 951.0 889.1 951.7C889.4 952.5 889.8 954.4 890.1 955.1C890.4 955.9 891.2 957.6 891.6 958.3C892.0 959.0 892.9 961.2 893.5 961.2C894.1 961.3 896.1 959.5 896.8 958.9C897.5 958.4 899.3 956.2 899.8 956.2C900.2 956.3 900.5 958.9 900.9 959.5C901.2 960.1 902.8 961.4 903.3 962.0C903.7 962.6 904.4 964.3 904.8 965.0C905.1 965.7 906.2 967.8 906.4 968.6C906.6 969.4 906.5 971.7 906.6 972.5C906.8 973.3 907.4 975.4 907.6 976.2C907.8 977.1 908.1 979.3 908.5 980.0C908.9 980.7 910.5 981.6 911.0 982.2C911.4 982.8 912.1 984.6 912.5 985.2C912.9 985.7 914.3 986.8 914.8 987.5C915.2 988.2 916.4 990.3 916.8 991.1C917.3 991.9 918.4 994.0 918.9 994.8C919.3 995.6 920.2 997.8 920.6 998.6C921.0 999.5 921.9 1001.8 922.2 1002.5C922.6 1003.2 923.3 1004.9 923.8 1005.4C924.3 1005.9 926.5 1006.5 927.0 1007.0C927.5 1007.5 928.2 1009.3 928.5 1010.0C928.8 1010.7 929.5 1012.5 929.8 1013.2C930.1 1013.9 930.7 1015.7 931.0 1016.4C931.3 1017.1 932.0 1018.9 932.2 1019.6C932.4 1020.3 932.8 1022.2 933.0 1023.0C933.2 1023.7 933.5 1025.7 934.0 1026.2C934.5 1026.8 936.9 1027.3 937.7 1027.8C938.5 1028.2 940.6 1029.3 941.0 1030.0C941.4 1030.7 941.4 1033.3 941.7 1034.2C941.9 1035.1 943.2 1037.1 943.5 1038.0C943.8 1038.9 944.1 1041.2 944.5 1042.1C944.8 1043.0 946.2 1045.0 946.5 1045.8C946.8 1046.7 946.6 1049.3 947.2 1050.0C947.9 1050.7 951.1 1052.3 952.2 1052.5C953.4 1052.7 956.4 1051.8 957.2 1052.0C958.1 1052.2 959.6 1054.0 960.2 1054.6C960.8 1055.2 962.3 1056.9 963.0 1057.5C963.6 1058.0 965.1 1059.9 966.0 1060.0C966.9 1060.1 970.3 1058.6 971.0 1058.8C971.7 1058.9 972.2 1061.1 972.7 1061.6C973.2 1062.1 975.0 1063.0 975.5 1063.5C976.0 1064.0 976.9 1065.6 977.2 1066.2C977.6 1066.9 978.6 1068.6 978.9 1069.3C979.2 1070.1 979.6 1072.0 979.9 1072.7C980.2 1073.5 981.1 1075.2 981.5 1075.8C981.9 1076.5 983.0 1078.7 983.5 1078.8C984.0 1078.8 985.2 1077.1 985.8 1076.7C986.3 1076.4 988.0 1075.8 988.5 1075.5C989.1 1075.1 990.6 1073.6 991.0 1073.8C991.4 1073.9 991.9 1076.1 992.2 1076.8C992.6 1077.4 993.9 1078.7 994.3 1079.3C994.6 1079.9 995.1 1081.7 995.5 1082.3C995.8 1082.9 996.7 1084.6 997.2 1085.0C997.8 1085.4 999.8 1085.9 1000.5 1086.2C1001.2 1086.5 1003.0 1087.5 1003.7 1087.7C1004.5 1087.9 1006.2 1088.1 1007.2 1088.0C1008.3 1087.9 1012.6 1086.7 1013.5 1087.0C1014.4 1087.3 1015.1 1089.8 1015.5 1090.5C1015.9 1091.3 1017.0 1093.4 1017.4 1094.1C1017.9 1094.9 1019.2 1097.4 1019.8 1097.5C1020.3 1097.6 1022.0 1095.4 1022.7 1094.8C1023.4 1094.3 1025.4 1092.4 1026.0 1092.5C1026.6 1092.6 1027.6 1095.3 1028.2 1096.0C1028.8 1096.8 1030.6 1098.3 1031.2 1099.0C1031.8 1099.7 1032.7 1102.0 1033.5 1102.5C1034.3 1103.0 1037.7 1103.8 1038.5 1103.8C1039.3 1103.7 1040.5 1102.7 1041.0 1102.3C1041.5 1102.0 1042.8 1101.0 1043.4 1100.7C1043.9 1100.4 1045.4 1099.4 1046.0 1099.5C1046.6 1099.6 1048.1 1101.4 1048.7 1102.0C1049.3 1102.5 1050.9 1103.9 1051.4 1104.5C1051.9 1105.1 1052.7 1107.3 1053.5 1107.5C1054.3 1107.7 1057.6 1106.3 1058.5 1106.2C1059.4 1106.2 1061.2 1106.5 1061.9 1106.7C1062.7 1106.9 1064.4 1107.8 1065.2 1108.0C1065.9 1108.2 1067.7 1109.3 1068.5 1108.8C1069.3 1108.2 1071.2 1103.5 1072.0 1103.1C1072.8 1102.7 1074.8 1104.8 1075.6 1105.3C1076.3 1105.8 1078.4 1106.9 1079.1 1107.5C1079.8 1108.1 1081.4 1110.4 1082.0 1110.5C1082.6 1110.6 1084.3 1109.3 1084.8 1108.9C1085.3 1108.4 1086.3 1106.7 1086.8 1106.2C1087.3 1105.8 1089.0 1104.3 1089.5 1104.5C1090.0 1104.7 1090.9 1107.4 1091.5 1108.1C1092.0 1108.9 1093.8 1110.4 1094.4 1111.1C1095.0 1111.8 1096.6 1113.4 1097.1 1114.1C1097.7 1114.9 1098.9 1117.3 1099.5 1117.5C1100.1 1117.7 1101.7 1116.2 1102.3 1115.7C1102.8 1115.3 1104.2 1114.1 1104.7 1113.6C1105.1 1113.0 1106.0 1111.3 1106.4 1110.7C1106.9 1110.2 1108.4 1108.7 1109.0 1108.8C1109.6 1108.8 1111.3 1110.8 1111.8 1111.5C1112.3 1112.2 1113.0 1114.4 1113.5 1115.1C1113.9 1115.9 1115.0 1117.8 1115.5 1118.4C1116.1 1119.1 1117.7 1121.3 1118.2 1121.2C1118.8 1121.2 1120.0 1119.0 1120.5 1118.3C1121.0 1117.7 1122.4 1116.2 1122.9 1115.5C1123.3 1114.8 1124.1 1112.8 1124.6 1112.2C1125.0 1111.5 1126.5 1110.0 1127.0 1109.4C1127.5 1108.7 1128.5 1106.3 1129.0 1106.2C1129.5 1106.2 1131.2 1108.4 1131.8 1109.1C1132.3 1109.8 1133.6 1111.6 1134.1 1112.3C1134.6 1113.0 1135.8 1115.1 1136.5 1115.5C1137.2 1115.9 1139.3 1115.9 1140.0 1116.0C1140.8 1116.1 1142.8 1116.5 1143.5 1116.7C1144.3 1116.8 1146.2 1117.4 1147.0 1117.5C1147.8 1117.6 1149.9 1117.2 1150.7 1117.2C1151.6 1117.2 1153.7 1117.6 1154.5 1117.6C1155.3 1117.6 1157.4 1116.9 1158.2 1117.0C1159.1 1117.1 1161.3 1118.2 1162.1 1118.6C1162.9 1119.0 1164.9 1120.1 1165.6 1120.6C1166.4 1121.1 1168.4 1123.1 1169.0 1123.0C1169.6 1122.9 1170.4 1120.3 1171.0 1119.7C1171.5 1119.1 1173.5 1117.9 1174.1 1117.2C1174.6 1116.6 1175.3 1113.9 1175.8 1113.8C1176.2 1113.6 1177.6 1115.5 1178.2 1115.9C1178.8 1116.3 1180.6 1116.9 1181.2 1117.4C1181.7 1117.9 1182.7 1119.7 1183.2 1120.0C1183.8 1120.3 1185.8 1120.4 1186.6 1120.5C1187.3 1120.6 1189.2 1120.6 1189.9 1120.6C1190.7 1120.5 1192.5 1120.3 1193.2 1120.0C1194.0 1119.7 1196.2 1118.5 1196.9 1117.9C1197.6 1117.3 1199.1 1115.4 1199.8 1114.8C1200.5 1114.2 1202.6 1112.5 1203.2 1112.5C1203.9 1112.5 1205.3 1114.4 1206.0 1114.9C1206.6 1115.3 1208.6 1116.0 1209.3 1116.4C1209.9 1116.9 1211.0 1118.4 1212.0 1118.8C1213.0 1119.1 1217.1 1119.2 1218.2 1119.5C1219.4 1119.8 1221.3 1120.5 1222.1 1121.0C1222.9 1121.5 1224.4 1123.5 1225.1 1124.0C1225.9 1124.5 1228.2 1125.6 1229.0 1125.5C1229.8 1125.4 1231.5 1124.0 1232.1 1123.4C1232.7 1122.8 1233.6 1120.7 1234.2 1120.2C1234.8 1119.6 1237.0 1118.9 1237.6 1118.4C1238.3 1117.9 1239.3 1115.6 1240.0 1115.5C1240.7 1115.4 1242.9 1116.9 1243.6 1117.4C1244.3 1118.0 1245.9 1119.7 1246.5 1120.3C1247.2 1120.9 1248.9 1122.9 1249.5 1123.0C1250.1 1123.1 1251.6 1121.6 1252.2 1121.3C1252.8 1121.0 1254.5 1120.7 1255.2 1120.5C1255.8 1120.4 1257.5 1119.7 1258.2 1120.0C1259.0 1120.3 1261.2 1122.9 1262.0 1123.0C1262.8 1123.1 1264.3 1121.1 1265.1 1120.7C1265.8 1120.4 1268.1 1120.0 1268.8 1119.6C1269.6 1119.3 1271.2 1117.8 1272.0 1117.5C1272.8 1117.2 1274.9 1116.7 1275.7 1116.6C1276.5 1116.4 1278.5 1115.8 1279.5 1116.2C1280.5 1116.7 1283.7 1120.3 1284.5 1120.5C1285.3 1120.7 1286.2 1118.4 1286.7 1117.9C1287.2 1117.4 1288.6 1116.1 1289.2 1115.6C1289.8 1115.2 1291.3 1113.9 1292.0 1113.8C1292.7 1113.6 1294.5 1113.9 1295.2 1114.1C1295.9 1114.3 1297.5 1115.3 1298.1 1115.5C1298.8 1115.7 1300.6 1115.7 1301.3 1115.8C1302.0 1115.9 1303.7 1116.1 1304.5 1116.2C1305.3 1116.4 1307.7 1117.0 1308.5 1117.3C1309.3 1117.7 1311.3 1119.0 1312.0 1119.5C1312.7 1120.0 1313.9 1121.6 1314.5 1122.2C1315.1 1122.8 1316.7 1124.0 1317.3 1124.5C1317.9 1125.1 1319.5 1127.1 1320.0 1127.0C1320.5 1126.9 1321.8 1124.4 1322.3 1123.6C1322.8 1122.9 1324.2 1121.1 1324.7 1120.4C1325.2 1119.6 1326.1 1117.0 1327.0 1117.0C1327.9 1117.0 1332.1 1119.8 1333.2 1120.0C1334.4 1120.2 1336.2 1119.2 1337.1 1119.0C1337.9 1118.7 1340.2 1117.3 1340.8 1117.5C1341.3 1117.7 1341.8 1119.9 1342.2 1120.6C1342.7 1121.2 1344.1 1122.5 1344.5 1123.1C1344.9 1123.7 1345.8 1125.4 1346.2 1126.1C1346.6 1126.7 1347.8 1128.8 1348.2 1128.8C1348.7 1128.7 1349.7 1126.6 1350.1 1126.0C1350.5 1125.5 1351.8 1124.1 1352.2 1123.5C1352.6 1122.9 1353.3 1121.2 1353.7 1120.6C1354.1 1120.0 1355.3 1118.1 1355.8 1118.0C1356.2 1117.9 1357.5 1119.4 1357.9 1119.8C1358.4 1120.2 1359.5 1121.4 1359.9 1121.9C1360.3 1122.3 1361.4 1123.8 1362.0 1123.8C1362.6 1123.7 1364.9 1122.2 1365.6 1121.7C1366.4 1121.2 1367.9 1119.3 1368.7 1118.8C1369.5 1118.4 1371.9 1117.8 1372.7 1117.3C1373.4 1116.9 1375.1 1114.5 1375.8 1114.5C1376.4 1114.5 1378.2 1116.6 1378.9 1117.2C1379.6 1117.8 1381.3 1119.9 1382.0 1120.0C1382.7 1120.1 1384.2 1119.0 1384.8 1118.6C1385.4 1118.2 1386.7 1117.0 1387.2 1116.6C1387.7 1116.1 1388.9 1114.5 1389.5 1114.5C1390.1 1114.5 1391.9 1116.4 1392.6 1116.8C1393.4 1117.2 1395.5 1117.8 1396.3 1118.1C1397.0 1118.4 1399.1 1119.1 1399.9 1119.5C1400.6 1119.8 1402.5 1121.3 1403.2 1121.2C1404.0 1121.2 1405.8 1119.6 1406.5 1119.3C1407.2 1118.9 1409.2 1118.0 1410.0 1117.6C1410.7 1117.3 1412.7 1116.4 1413.4 1116.0C1414.1 1115.5 1415.8 1113.7 1416.5 1113.8C1417.2 1113.8 1418.9 1115.9 1419.7 1116.3C1420.5 1116.7 1423.0 1117.0 1423.8 1117.4C1424.6 1117.8 1426.3 1119.7 1427.0 1120.0C1427.7 1120.3 1429.4 1119.9 1430.1 1120.0C1430.7 1120.1 1432.3 1120.5 1433.0 1120.8C1433.6 1121.0 1435.2 1122.2 1435.8 1122.0C1436.3 1121.8 1437.6 1119.3 1438.2 1118.6C1438.8 1117.9 1440.4 1116.1 1441.1 1115.5C1441.8 1114.9 1443.8 1113.2 1444.5 1113.0C1445.2 1112.8 1446.8 1113.4 1447.3 1113.7C1447.9 1113.9 1449.2 1115.0 1449.7 1115.3C1450.2 1115.7 1451.4 1116.9 1452.0 1117.0C1452.6 1117.1 1454.3 1116.5 1454.9 1116.6C1455.6 1116.7 1457.2 1117.5 1457.8 1117.6C1458.5 1117.7 1460.0 1117.8 1460.8 1117.5C1461.5 1117.2 1463.5 1114.3 1464.5 1114.5C1465.5 1114.7 1468.6 1119.2 1469.5 1119.5C1470.4 1119.8 1472.0 1117.5 1472.7 1116.9C1473.5 1116.4 1475.5 1115.2 1476.2 1114.7C1476.9 1114.1 1478.7 1112.6 1479.3 1112.0C1480.0 1111.3 1481.3 1109.3 1482.0 1108.8C1482.7 1108.2 1484.7 1107.5 1485.5 1107.2C1486.3 1106.8 1488.3 1106.0 1489.0 1105.5C1489.7 1105.0 1491.3 1103.4 1492.0 1103.0C1492.7 1102.6 1494.8 1101.9 1495.6 1101.7C1496.5 1101.5 1498.6 1101.5 1499.4 1101.4C1500.3 1101.4 1502.4 1101.0 1503.2 1101.2C1504.1 1101.5 1505.9 1103.1 1506.7 1103.5C1507.6 1103.9 1509.9 1104.2 1510.8 1104.5C1511.6 1104.9 1513.8 1106.3 1514.5 1106.2C1515.2 1106.2 1516.2 1104.5 1516.8 1104.2C1517.3 1103.9 1519.1 1103.6 1519.7 1103.2C1520.3 1102.9 1521.3 1101.4 1522.0 1101.2C1522.7 1101.1 1524.9 1102.0 1525.7 1102.2C1526.5 1102.5 1528.5 1103.2 1529.3 1103.5C1530.1 1103.7 1532.2 1104.4 1533.0 1104.5C1533.8 1104.6 1535.6 1104.7 1536.4 1104.8C1537.1 1104.9 1539.0 1105.1 1539.7 1105.3C1540.5 1105.4 1542.3 1106.3 1543.0 1106.2C1543.7 1106.2 1545.3 1105.0 1546.0 1104.8C1546.7 1104.7 1548.6 1104.8 1549.3 1104.8C1550.0 1104.7 1551.9 1104.7 1552.5 1104.5C1553.2 1104.3 1554.7 1103.2 1555.5 1103.0C1556.3 1102.8 1558.6 1102.7 1559.5 1102.5C1560.3 1102.3 1562.3 1101.4 1563.1 1101.0C1563.9 1100.7 1566.2 1099.3 1566.8 1099.5C1567.3 1099.7 1567.6 1102.4 1568.1 1103.2C1568.5 1103.9 1570.0 1106.1 1570.5 1106.2C1571.0 1106.4 1572.4 1105.0 1572.9 1104.7C1573.4 1104.3 1574.8 1103.4 1575.4 1103.2C1575.9 1102.9 1577.5 1101.8 1578.0 1102.0C1578.5 1102.2 1579.2 1104.4 1579.7 1104.9C1580.2 1105.5 1581.7 1106.6 1582.3 1107.1C1582.8 1107.6 1583.9 1109.1 1584.4 1109.7C1584.9 1110.2 1586.3 1112.1 1586.8 1112.0C1587.2 1111.9 1587.9 1109.6 1588.4 1109.0C1588.8 1108.4 1590.3 1107.2 1590.8 1106.7C1591.4 1106.2 1592.8 1105.0 1593.3 1104.5C1593.8 1104.0 1595.0 1102.0 1595.5 1102.0C1596.0 1102.0 1597.2 1104.3 1597.7 1104.9C1598.3 1105.5 1599.6 1107.1 1600.1 1107.7C1600.7 1108.2 1602.4 1110.0 1603.0 1110.0C1603.6 1110.0 1605.2 1108.2 1605.8 1107.6C1606.3 1107.0 1607.3 1105.2 1607.8 1104.6C1608.3 1104.0 1609.8 1102.6 1610.4 1102.0C1610.9 1101.4 1612.4 1099.5 1613.0 1099.5C1613.6 1099.5 1614.9 1101.7 1615.5 1102.2C1616.0 1102.8 1617.5 1104.2 1618.2 1104.7C1618.8 1105.2 1620.8 1106.0 1621.5 1106.4C1622.1 1106.9 1623.7 1108.7 1624.2 1108.8C1624.8 1108.8 1626.0 1107.2 1626.5 1106.9C1627.1 1106.6 1628.8 1106.3 1629.3 1106.1C1629.9 1105.8 1630.9 1104.2 1631.8 1104.5C1632.6 1104.8 1635.9 1108.6 1636.8 1108.8C1637.6 1108.9 1639.1 1106.5 1639.7 1105.9C1640.3 1105.2 1641.8 1103.4 1642.4 1102.8C1643.1 1102.1 1644.9 1100.0 1645.5 1100.0C1646.1 1100.0 1647.3 1102.2 1647.7 1102.9C1648.2 1103.6 1649.0 1105.4 1649.4 1106.2C1649.8 1106.9 1650.6 1108.8 1651.0 1109.5C1651.4 1110.2 1652.1 1112.6 1653.0 1112.5C1653.9 1112.4 1658.2 1108.6 1659.2 1108.8C1660.3 1108.9 1662.4 1113.6 1663.0 1113.8C1663.6 1113.9 1664.2 1111.0 1664.6 1110.4C1665.1 1109.7 1666.7 1108.3 1667.2 1107.6C1667.7 1107.0 1668.7 1104.6 1669.2 1104.5C1669.8 1104.4 1671.2 1106.5 1671.8 1106.9C1672.4 1107.3 1674.2 1108.1 1674.9 1108.5C1675.6 1108.8 1677.3 1110.0 1678.0 1110.0C1678.7 1110.0 1680.3 1108.9 1681.0 1108.7C1681.7 1108.5 1683.5 1108.2 1684.2 1108.0C1684.9 1107.8 1686.5 1106.8 1687.2 1106.6C1687.9 1106.4 1689.7 1106.3 1690.5 1106.2C1691.3 1106.2 1693.4 1106.6 1694.2 1106.6C1695.1 1106.6 1697.2 1106.5 1698.0 1106.4C1698.8 1106.4 1700.9 1105.8 1701.8 1105.8C1702.6 1105.7 1704.7 1106.1 1705.5 1106.2C1706.3 1106.4 1708.4 1107.0 1709.2 1107.3C1710.1 1107.5 1712.1 1108.1 1713.0 1108.3C1713.8 1108.5 1715.9 1109.0 1716.7 1109.2C1717.6 1109.4 1719.7 1109.8 1720.5 1110.0C1721.3 1110.2 1723.2 1110.8 1723.9 1111.1C1724.6 1111.3 1726.5 1111.9 1727.3 1112.2C1728.0 1112.5 1729.8 1113.7 1730.5 1113.8C1731.2 1113.8 1732.9 1113.0 1733.6 1112.9C1734.3 1112.9 1736.2 1113.4 1736.9 1113.2C1737.6 1113.1 1739.2 1111.8 1739.8 1111.6C1740.5 1111.4 1742.0 1110.9 1743.0 1111.2C1744.0 1111.6 1748.1 1114.3 1749.2 1114.5C1750.4 1114.7 1752.2 1113.6 1753.0 1113.4C1753.8 1113.1 1755.9 1112.4 1756.7 1112.1C1757.5 1111.8 1759.5 1110.8 1760.4 1110.6C1761.2 1110.3 1763.4 1110.0 1764.2 1109.8C1765.0 1109.6 1767.2 1108.6 1768.0 1108.8C1768.8 1108.9 1770.5 1110.4 1771.2 1110.9C1771.9 1111.4 1773.4 1113.0 1774.0 1113.5C1774.6 1114.1 1775.8 1116.1 1776.8 1116.2C1777.7 1116.4 1781.9 1115.0 1783.0 1115.0C1784.1 1115.0 1786.0 1116.3 1786.8 1116.7C1787.7 1117.1 1789.7 1118.7 1790.5 1118.8C1791.3 1118.8 1793.4 1117.7 1794.2 1117.6C1795.0 1117.5 1797.3 1117.7 1798.2 1117.5C1799.0 1117.3 1800.9 1115.9 1801.7 1115.6C1802.5 1115.4 1804.9 1115.3 1805.5 1115.0C1806.1 1114.7 1806.9 1113.0 1807.4 1112.5C1807.9 1112.0 1809.4 1111.0 1809.8 1110.5C1810.3 1110.0 1810.9 1108.3 1811.8 1108.0C1812.6 1107.7 1817.3 1108.0 1818.0 1108.0"/>
<path class="c" stroke="#ff00ff" d="M153.0 986.2C153.4 986.2 155.4 986.2 156.2 986.2C157.1 986.3 159.7 986.5 160.5 986.9C161.3 987.2 163.0 988.5 163.6 989.1C164.2 989.7 165.4 991.5 166.0 992.1C166.6 992.7 168.2 994.1 168.8 994.6C169.4 995.2 170.8 996.8 171.5 997.3C172.2 997.8 174.3 998.6 175.0 999.1C175.6 999.6 176.7 1001.9 177.5 1002.0C178.3 1002.1 181.6 999.9 182.5 1000.0C183.4 1000.1 185.0 1001.9 185.7 1002.5C186.4 1003.0 188.1 1004.5 188.7 1005.1C189.3 1005.8 190.7 1008.2 191.2 1008.2C191.8 1008.3 193.2 1006.1 193.9 1005.6C194.6 1005.1 196.6 1004.3 197.3 1003.9C198.0 1003.4 199.5 1001.3 200.0 1001.2C200.5 1001.2 201.8 1002.7 202.1 1003.3C202.5 1003.8 203.0 1005.4 203.3 1005.9C203.6 1006.5 204.3 1008.1 205.0 1008.2C205.7 1008.4 208.8 1007.3 209.5 1007.5C210.2 1007.7 211.2 1009.6 211.6 1010.3C212.0 1010.9 212.8 1012.7 213.1 1013.3C213.5 1014.0 214.3 1015.8 214.7 1016.4C215.0 1017.1 215.8 1019.5 216.2 1019.5C216.7 1019.5 218.6 1017.4 219.1 1016.7C219.7 1016.0 220.8 1013.5 221.2 1013.2C221.7 1013.0 223.1 1014.6 223.7 1014.8C224.3 1015.1 226.1 1015.2 226.6 1015.4C227.2 1015.7 228.1 1017.4 228.8 1017.5C229.4 1017.6 231.6 1016.2 232.4 1015.9C233.2 1015.7 235.4 1014.9 236.2 1015.0C237.1 1015.1 239.0 1016.2 239.7 1016.8C240.3 1017.3 241.6 1019.3 242.2 1019.8C242.8 1020.4 244.6 1021.5 245.4 1021.9C246.1 1022.4 248.1 1023.4 248.8 1023.8C249.4 1024.1 250.7 1025.1 251.3 1025.4C251.9 1025.7 253.4 1026.5 254.0 1026.7C254.7 1026.9 256.3 1027.7 257.0 1027.5C257.7 1027.3 259.6 1025.8 260.3 1025.3C261.0 1024.8 262.9 1023.6 263.6 1023.0C264.2 1022.4 265.3 1020.1 266.2 1020.0C267.2 1019.9 271.5 1021.9 272.5 1022.5C273.5 1023.1 274.5 1024.8 275.1 1025.3C275.8 1025.9 277.9 1026.7 278.6 1027.2C279.2 1027.7 280.6 1029.8 281.2 1030.0C281.9 1030.2 284.0 1029.5 284.8 1029.2C285.5 1029.0 287.2 1027.8 287.9 1027.5C288.6 1027.2 290.6 1026.1 291.2 1026.2C291.9 1026.4 293.3 1028.5 293.9 1029.0C294.6 1029.6 296.4 1030.8 297.0 1031.3C297.7 1031.8 299.3 1033.6 300.0 1033.8C300.7 1033.9 302.6 1032.9 303.3 1032.6C304.0 1032.4 305.9 1031.8 306.6 1031.6C307.3 1031.3 308.9 1031.3 310.0 1030.8C311.1 1030.2 314.9 1027.1 316.2 1027.0C317.6 1026.9 321.5 1029.6 322.5 1030.0C323.5 1030.4 324.8 1030.3 325.4 1030.3C326.1 1030.4 327.7 1030.5 328.4 1030.6C329.0 1030.7 330.7 1031.6 331.2 1031.2C331.8 1030.9 332.7 1028.5 333.3 1027.8C333.9 1027.2 336.0 1026.0 336.6 1025.4C337.2 1024.7 338.3 1022.0 338.8 1022.0C339.2 1022.0 340.4 1024.8 340.9 1025.6C341.4 1026.4 342.6 1028.4 343.2 1029.1C343.8 1029.8 345.7 1032.0 346.2 1032.0C346.8 1032.0 348.1 1029.7 348.6 1029.0C349.0 1028.3 350.1 1026.4 350.5 1025.7C350.9 1025.0 351.9 1022.7 352.5 1022.5C353.1 1022.3 355.3 1023.8 356.1 1024.1C357.0 1024.4 359.2 1025.1 360.0 1025.0C360.8 1024.9 362.5 1023.5 363.3 1023.2C364.1 1023.0 366.3 1023.0 367.1 1022.7C367.9 1022.5 369.7 1021.5 370.5 1021.2C371.2 1020.8 373.1 1019.8 373.8 1019.5C374.6 1019.3 376.4 1019.2 377.5 1018.8C378.6 1018.3 382.8 1015.8 383.8 1015.0C384.7 1014.2 385.5 1012.3 386.1 1011.6C386.7 1010.9 388.6 1009.5 389.2 1008.8C389.7 1008.1 390.9 1006.1 391.5 1005.4C392.1 1004.7 393.7 1002.3 394.5 1002.5C395.3 1002.7 397.9 1007.0 398.8 1007.5C399.6 1008.0 401.4 1006.9 402.2 1006.8C402.9 1006.7 404.9 1006.6 405.7 1006.4C406.4 1006.3 408.3 1005.6 409.0 1005.5C409.8 1005.3 411.4 1005.5 412.5 1005.0C413.6 1004.5 417.8 1002.1 418.8 1001.2C419.7 1000.4 420.3 998.3 420.8 997.6C421.4 996.9 423.1 995.3 423.7 994.6C424.3 993.9 425.7 991.4 426.2 991.2C426.8 991.1 428.4 993.0 429.0 993.5C429.6 994.0 431.0 995.4 431.5 996.0C432.0 996.6 433.4 998.7 433.8 998.8C434.1 998.8 434.7 996.6 435.0 996.0C435.4 995.4 436.5 994.2 436.9 993.6C437.3 993.1 438.2 991.3 438.8 991.2C439.3 991.2 441.4 992.6 442.1 993.1C442.7 993.6 443.8 995.5 444.4 996.1C445.0 996.7 446.8 998.0 447.5 998.2C448.2 998.5 450.1 998.4 450.8 998.2C451.5 998.1 453.0 996.9 453.7 996.7C454.4 996.5 456.3 996.6 456.9 996.5C457.6 996.4 459.5 995.2 460.0 995.5C460.5 995.8 461.1 998.5 461.6 999.2C462.2 999.9 464.4 1001.1 464.9 1001.7C465.5 1002.4 466.6 1004.4 467.0 1005.1C467.4 1005.9 468.3 1008.6 468.8 1008.8C469.2 1008.9 470.4 1007.0 470.8 1006.5C471.2 1006.0 472.2 1004.6 472.5 1004.0C472.8 1003.5 473.4 1001.3 473.8 1001.2C474.1 1001.2 475.5 1003.1 476.1 1003.5C476.7 1003.9 478.5 1004.6 479.1 1005.0C479.6 1005.5 480.3 1006.9 481.2 1007.5C482.2 1008.1 486.1 1010.8 487.5 1010.8C488.9 1010.8 492.8 1007.5 493.8 1007.5C494.7 1007.5 495.4 1009.7 495.7 1010.4C496.1 1011.1 496.7 1013.1 497.0 1013.8C497.4 1014.5 498.4 1016.2 498.9 1016.8C499.3 1017.4 500.6 1019.3 501.2 1019.5C501.9 1019.7 503.8 1018.8 504.4 1018.4C505.0 1018.0 506.3 1016.5 506.9 1016.1C507.5 1015.7 509.3 1015.4 510.0 1015.0C510.7 1014.6 512.8 1013.3 513.5 1012.6C514.2 1012.0 515.7 1009.6 516.2 1009.5C516.8 1009.4 518.0 1010.9 518.5 1011.4C518.9 1011.8 519.7 1013.3 520.2 1013.7C520.6 1014.2 521.7 1015.4 522.5 1015.5C523.3 1015.6 526.6 1014.8 527.5 1015.0C528.4 1015.2 529.9 1016.5 530.4 1017.1C530.9 1017.7 531.5 1019.9 532.0 1020.5C532.5 1021.1 534.3 1022.1 534.9 1022.6C535.5 1023.1 536.9 1024.8 537.5 1025.0C538.1 1025.2 539.9 1024.4 540.5 1024.1C541.2 1023.7 542.5 1022.4 543.2 1022.1C543.8 1021.8 545.6 1021.1 546.2 1021.2C546.9 1021.4 548.6 1023.3 549.2 1023.9C549.9 1024.4 551.6 1025.8 552.3 1026.3C553.0 1026.9 554.8 1028.8 555.5 1028.8C556.2 1028.7 557.7 1026.7 558.3 1026.0C558.9 1025.4 560.1 1023.6 560.7 1023.0C561.3 1022.4 563.2 1021.2 563.8 1020.5C564.4 1019.9 565.6 1017.3 566.2 1017.5C566.9 1017.7 569.2 1021.5 570.0 1022.0C570.8 1022.5 572.9 1022.0 573.8 1022.0C574.6 1022.1 576.8 1022.2 577.5 1022.5C578.2 1022.8 579.3 1023.9 579.8 1024.4C580.3 1024.8 581.6 1025.8 582.0 1026.3C582.5 1026.8 583.2 1028.7 583.8 1028.8C584.3 1028.8 586.6 1027.3 587.3 1026.8C588.1 1026.3 589.6 1024.4 590.3 1023.9C591.0 1023.3 593.1 1022.3 593.8 1021.8C594.6 1021.4 596.8 1020.4 597.5 1020.0C598.2 1019.6 599.8 1018.1 600.6 1017.8C601.3 1017.4 603.6 1017.2 604.3 1016.9C605.1 1016.6 606.9 1015.5 607.7 1015.1C608.4 1014.7 610.3 1013.4 611.0 1013.4C611.7 1013.4 613.2 1014.7 613.9 1015.0C614.6 1015.2 616.5 1015.5 617.2 1015.8C617.8 1016.2 619.1 1018.0 619.8 1018.0C620.4 1018.0 622.3 1016.1 623.0 1015.5C623.7 1015.0 625.5 1013.5 626.3 1013.0C627.0 1012.5 629.0 1010.7 629.8 1010.8C630.5 1010.8 632.3 1012.5 632.9 1013.0C633.6 1013.5 635.2 1014.9 635.8 1015.5C636.3 1016.2 637.5 1018.7 638.0 1018.8C638.5 1018.8 640.3 1017.1 640.8 1016.4C641.2 1015.8 641.5 1013.5 641.9 1012.8C642.3 1012.1 643.8 1010.8 644.3 1010.2C644.8 1009.6 645.9 1008.0 646.4 1007.4C646.9 1006.8 648.4 1005.5 648.9 1004.9C649.5 1004.3 650.2 1002.1 651.0 1002.0C651.8 1001.9 655.3 1003.8 656.0 1003.8C656.7 1003.7 657.2 1001.7 657.6 1001.2C658.1 1000.8 659.6 1000.0 660.1 999.6C660.6 999.1 661.7 997.5 662.2 997.5C662.8 997.5 664.8 999.3 665.5 999.8C666.2 1000.4 667.9 1002.5 668.5 1002.5C669.1 1002.5 670.4 1000.2 670.7 999.5C671.0 998.7 671.0 996.4 671.3 995.6C671.7 994.9 673.1 993.3 673.5 992.6C674.0 992.0 675.0 989.6 675.5 989.5C676.0 989.4 677.3 991.0 677.8 991.5C678.2 992.0 679.0 993.6 679.5 994.0C680.0 994.5 681.7 995.6 682.2 995.5C682.8 995.4 684.2 993.3 684.8 992.7C685.3 992.1 686.7 990.5 687.2 989.9C687.8 989.3 689.4 987.9 689.9 987.3C690.5 986.7 691.6 984.8 692.0 984.1C692.5 983.4 693.7 981.7 694.2 981.1C694.8 980.5 696.6 978.7 697.2 978.8C697.9 978.8 699.2 980.7 699.7 981.3C700.3 981.8 701.3 983.6 701.8 984.2C702.4 984.7 704.3 986.4 704.8 986.2C705.2 986.1 706.1 983.5 706.3 982.6C706.6 981.8 706.6 979.5 706.9 978.6C707.2 977.8 708.4 975.9 708.8 975.1C709.1 974.3 710.0 972.3 710.2 971.4C710.5 970.6 710.4 968.2 710.7 967.4C710.9 966.5 711.8 964.5 712.2 963.8C712.7 963.0 714.1 961.2 714.5 960.4C715.0 959.6 716.0 957.5 716.4 956.8C716.9 956.0 718.0 954.0 718.5 953.2C719.0 952.5 720.2 950.8 721.0 950.0C721.8 949.2 725.0 946.4 726.0 946.2C727.0 946.1 729.1 948.8 729.8 948.8C730.4 948.7 731.5 946.4 732.0 945.7C732.5 945.1 733.9 943.4 734.4 942.8C735.0 942.2 736.5 940.8 737.1 940.2C737.7 939.6 739.4 938.2 739.8 937.5C740.1 936.8 740.1 934.4 740.3 933.5C740.6 932.7 741.8 930.8 742.1 930.0C742.4 929.1 742.6 926.9 742.9 926.1C743.2 925.2 744.4 923.2 744.8 922.5C745.1 921.8 746.2 920.0 746.5 919.3C746.9 918.5 747.5 916.6 747.7 915.8C747.9 915.0 748.0 912.8 748.4 912.0C748.7 911.3 750.5 909.8 750.8 909.1C751.2 908.4 751.2 906.1 751.5 905.4C751.7 904.6 752.9 902.9 753.3 902.1C753.7 901.4 754.2 899.7 754.8 898.8C755.3 897.8 757.7 894.3 758.5 893.8C759.3 893.2 761.1 893.9 761.8 893.8C762.6 893.8 764.4 893.5 765.2 893.5C765.9 893.5 768.1 894.2 768.5 893.8C768.9 893.3 769.0 890.6 769.2 889.7C769.5 888.8 770.3 886.7 770.5 885.8C770.7 884.9 770.8 882.6 771.1 881.7C771.4 880.9 773.0 878.9 773.2 878.1C773.4 877.2 773.0 874.7 773.1 873.8C773.3 872.9 774.4 870.8 774.8 870.0C775.1 869.2 775.9 867.2 776.1 866.4C776.2 865.5 775.9 863.2 776.0 862.4C776.1 861.6 776.9 859.4 777.2 858.8C777.6 858.1 778.7 856.6 779.2 856.1C779.7 855.5 781.1 854.2 781.5 853.6C781.9 853.1 782.8 851.3 783.3 850.8C783.8 850.3 785.6 849.4 786.0 848.8C786.4 848.1 786.5 845.8 786.7 845.0C787.0 844.2 788.0 842.3 788.3 841.5C788.6 840.7 789.3 838.7 789.7 837.9C790.0 837.2 791.2 835.3 791.5 834.6C791.9 833.8 792.8 831.9 792.9 831.0C793.1 830.2 792.6 827.8 792.9 827.0C793.1 826.1 794.5 824.4 794.8 823.6C795.1 822.8 795.7 820.8 796.0 820.0C796.3 819.2 796.8 816.8 797.2 816.0C797.7 815.2 799.5 813.5 799.9 812.7C800.3 811.9 800.6 809.5 801.0 808.6C801.4 807.8 803.1 806.1 803.5 805.2C803.9 804.4 804.1 801.4 804.8 801.2C805.4 801.1 809.1 803.9 809.8 803.8C810.4 803.6 810.4 800.8 810.4 799.9C810.5 799.0 810.4 796.8 810.4 796.0C810.5 795.1 810.7 792.9 810.9 792.1C811.0 791.2 811.6 789.1 811.9 788.3C812.2 787.4 813.3 785.4 813.4 784.6C813.5 783.7 812.9 781.4 813.0 780.5C813.1 779.7 813.9 777.6 814.1 776.8C814.3 775.9 814.4 773.7 814.6 772.9C814.7 772.0 814.9 769.9 815.1 769.0C815.4 768.2 816.3 766.1 816.4 765.3C816.6 764.4 816.1 762.1 816.2 761.3C816.3 760.4 816.9 758.3 817.2 757.5C817.6 756.7 818.8 755.1 819.2 754.4C819.6 753.7 820.4 751.8 820.8 751.1C821.2 750.4 822.4 748.8 822.8 748.0C823.1 747.3 823.6 745.3 823.9 744.5C824.2 743.8 825.2 741.3 825.5 741.2C825.8 741.2 826.3 743.8 826.6 744.4C827.0 745.0 828.5 746.2 829.0 746.8C829.4 747.4 830.1 749.1 830.5 749.7C830.8 750.4 831.9 752.6 832.2 752.5C832.6 752.4 833.7 749.6 834.1 748.8C834.5 748.0 835.7 746.0 836.0 745.2C836.4 744.4 836.7 741.7 837.2 741.2C837.8 740.8 840.2 741.6 841.1 741.5C841.9 741.4 844.1 740.2 844.8 740.5C845.4 740.8 846.4 743.3 846.7 744.2C847.1 745.0 847.9 747.2 848.2 748.1C848.4 748.9 848.9 751.3 849.1 752.1C849.3 753.0 849.8 755.3 850.1 756.2C850.5 757.0 851.6 759.1 852.0 759.9C852.4 760.7 852.8 763.9 853.5 763.8C854.2 763.6 857.7 758.9 858.5 758.8C859.3 758.6 860.1 761.5 860.4 762.4C860.7 763.2 860.9 765.7 861.2 766.5C861.5 767.4 863.1 769.2 863.5 770.0C863.9 770.8 864.7 772.9 865.0 773.7C865.4 774.5 866.3 776.5 866.6 777.3C866.9 778.1 867.7 780.2 867.9 781.0C868.1 781.9 868.4 785.0 868.5 785.0C868.6 785.0 868.8 781.7 869.1 780.9C869.4 780.1 871.0 778.2 871.3 777.4C871.6 776.5 871.4 774.1 871.7 773.2C871.9 772.3 873.2 769.5 873.5 769.5C873.8 769.5 874.2 772.4 874.4 773.2C874.7 774.1 875.2 776.1 875.5 777.0C875.7 777.8 876.3 779.9 876.5 780.7C876.8 781.5 877.7 783.5 878.1 784.2C878.4 785.0 879.6 786.9 879.9 787.7C880.2 788.5 880.6 790.6 880.8 791.4C881.1 792.2 881.5 795.2 882.2 795.0C883.0 794.8 886.5 790.2 887.2 790.0C888.0 789.8 888.3 792.8 888.7 793.6C889.1 794.3 890.2 796.1 890.7 796.8C891.2 797.5 892.7 799.1 893.1 799.8C893.6 800.6 894.0 802.8 894.4 803.5C894.8 804.2 896.7 805.7 897.1 806.4C897.6 807.1 898.2 809.2 898.5 810.0C898.8 810.8 899.8 812.8 900.0 813.7C900.2 814.5 900.0 816.9 900.3 817.7C900.5 818.6 901.9 820.4 902.3 821.2C902.7 822.0 903.6 824.1 903.8 824.9C904.1 825.7 904.5 828.0 904.8 828.8C905.0 829.5 906.0 831.2 906.4 831.8C906.9 832.4 908.3 833.7 908.8 834.2C909.4 834.7 910.9 836.0 911.4 836.6C911.8 837.1 912.9 838.7 913.3 839.3C913.7 840.0 914.4 841.8 914.8 842.5C915.1 843.2 916.0 845.2 916.3 846.0C916.6 846.7 917.3 848.7 917.5 849.6C917.7 850.4 917.6 852.6 917.9 853.4C918.2 854.2 919.8 855.9 920.1 856.7C920.4 857.4 920.3 859.7 920.5 860.5C920.7 861.3 921.4 863.3 921.7 864.1C922.1 864.9 923.0 866.8 923.5 867.5C924.0 868.2 925.6 869.8 926.1 870.5C926.6 871.3 927.4 873.5 927.9 874.2C928.4 874.9 930.1 876.5 930.7 877.1C931.3 877.8 933.1 879.3 933.5 880.0C933.9 880.7 934.3 882.7 934.5 883.5C934.8 884.3 935.6 886.1 935.8 886.9C936.1 887.7 936.4 889.7 936.6 890.5C936.7 891.3 936.7 893.4 936.9 894.2C937.1 894.9 938.2 896.8 938.5 897.5C938.8 898.2 939.2 900.2 939.5 900.9C939.8 901.7 940.8 903.5 941.0 904.2C941.3 904.9 941.6 906.9 941.8 907.7C942.0 908.5 942.4 910.4 942.7 911.2C943.0 911.9 943.9 913.7 944.2 914.4C944.4 915.2 944.3 917.6 944.8 918.0C945.2 918.4 947.7 918.4 948.5 918.5C949.3 918.6 951.6 918.3 952.2 918.8C952.9 919.2 953.9 921.4 954.2 922.3C954.4 923.1 954.0 925.6 954.3 926.4C954.5 927.2 956.1 929.1 956.5 929.8C956.8 930.6 957.6 932.7 957.8 933.6C958.0 934.4 958.2 936.7 958.4 937.5C958.6 938.4 958.9 940.4 959.8 941.2C960.6 942.1 965.0 944.3 966.0 945.0C967.0 945.7 968.1 947.0 968.5 947.7C969.0 948.3 969.7 950.4 970.1 951.0C970.6 951.7 972.3 952.9 972.9 953.5C973.4 954.1 974.7 955.7 975.1 956.4C975.6 957.0 976.6 958.9 977.1 959.5C977.6 960.1 978.9 962.2 979.8 962.0C980.6 961.8 983.9 958.2 984.8 958.0C985.6 957.8 987.3 959.3 987.9 959.8C988.5 960.3 989.8 962.1 990.4 962.6C991.0 963.1 993.0 963.9 993.5 964.5C994.0 965.1 994.3 967.1 994.5 967.8C994.8 968.5 995.9 970.2 996.1 971.0C996.3 971.7 996.3 973.8 996.6 974.5C996.9 975.2 998.1 976.9 998.5 977.5C998.9 978.1 1000.4 979.3 1000.7 980.0C1001.0 980.6 1000.8 982.8 1001.1 983.4C1001.5 984.0 1003.3 985.1 1003.7 985.7C1004.1 986.3 1004.4 988.7 1004.8 988.8C1005.1 988.8 1006.8 987.2 1007.2 986.6C1007.6 986.0 1008.1 984.0 1008.5 983.4C1008.9 982.8 1010.5 981.2 1011.0 981.2C1011.5 981.3 1013.0 983.1 1013.4 983.7C1013.8 984.3 1014.5 986.2 1014.7 986.9C1015.0 987.6 1015.7 989.4 1016.1 990.0C1016.5 990.7 1018.0 992.5 1018.5 992.5C1019.0 992.5 1019.9 990.6 1020.3 990.2C1020.8 989.7 1022.2 988.7 1022.7 988.3C1023.1 987.9 1024.2 986.2 1024.8 986.2C1025.3 986.3 1027.1 988.3 1027.8 988.9C1028.5 989.4 1030.3 990.8 1031.0 991.2C1031.7 991.7 1033.5 992.2 1034.1 992.6C1034.7 993.0 1036.2 994.2 1036.8 994.6C1037.4 995.0 1039.1 996.1 1039.8 996.2C1040.4 996.4 1042.1 995.9 1042.8 995.9C1043.4 996.0 1045.0 996.8 1045.6 997.0C1046.2 997.2 1047.8 997.2 1048.5 997.5C1049.2 997.8 1050.9 999.0 1051.7 999.4C1052.4 999.7 1054.5 1000.0 1055.3 1000.3C1056.0 1000.6 1057.8 1001.9 1058.5 1002.0C1059.2 1002.1 1061.1 1001.4 1061.8 1001.2C1062.6 1001.1 1064.4 1000.6 1065.2 1000.6C1065.9 1000.6 1067.9 1001.3 1068.7 1001.3C1069.4 1001.3 1071.3 1000.5 1072.0 1000.6C1072.7 1000.8 1074.1 1002.3 1074.6 1002.8C1075.1 1003.4 1076.0 1005.2 1076.6 1005.7C1077.1 1006.2 1078.8 1007.4 1079.5 1007.5C1080.2 1007.6 1081.9 1007.3 1082.5 1007.0C1083.1 1006.8 1084.5 1005.5 1085.2 1005.3C1085.8 1005.0 1087.2 1004.6 1088.2 1005.0C1089.3 1005.4 1093.4 1008.3 1094.5 1008.8C1095.6 1009.2 1097.5 1009.1 1098.3 1009.0C1099.1 1008.9 1101.4 1007.7 1102.0 1008.0C1102.6 1008.3 1103.5 1010.6 1104.0 1011.3C1104.5 1012.0 1106.1 1013.4 1106.6 1014.1C1107.2 1014.7 1108.5 1016.4 1109.1 1017.0C1109.7 1017.5 1111.4 1019.5 1112.0 1019.5C1112.6 1019.5 1113.8 1017.8 1114.3 1017.3C1114.8 1016.9 1116.0 1015.6 1116.4 1015.1C1116.8 1014.5 1117.4 1012.9 1118.2 1012.5C1119.1 1012.1 1123.5 1011.0 1124.5 1011.2C1125.5 1011.5 1126.4 1014.4 1127.0 1014.5C1127.6 1014.6 1129.1 1012.7 1129.7 1012.2C1130.2 1011.6 1131.6 1010.2 1132.1 1009.6C1132.6 1009.0 1134.0 1006.9 1134.5 1007.0C1135.0 1007.1 1136.1 1009.6 1136.6 1010.3C1137.0 1011.1 1138.2 1012.9 1138.5 1013.8C1138.8 1014.6 1139.1 1016.8 1139.4 1017.7C1139.8 1018.5 1141.0 1020.3 1141.4 1021.1C1141.8 1021.8 1142.8 1024.5 1143.2 1024.5C1143.7 1024.5 1144.7 1021.7 1145.2 1021.1C1145.8 1020.4 1147.8 1019.2 1148.4 1018.6C1149.0 1018.0 1150.2 1015.8 1150.8 1015.5C1151.3 1015.2 1153.0 1015.9 1153.7 1015.9C1154.3 1016.0 1155.9 1016.0 1156.6 1016.0C1157.2 1016.1 1158.9 1016.0 1159.5 1016.2C1160.1 1016.5 1161.6 1018.2 1162.2 1018.7C1162.8 1019.2 1164.3 1020.5 1165.0 1020.9C1165.7 1021.3 1167.5 1022.5 1168.2 1022.5C1169.0 1022.5 1171.1 1021.3 1171.9 1021.1C1172.8 1020.9 1175.1 1020.7 1175.9 1020.4C1176.7 1020.2 1178.8 1018.6 1179.5 1018.8C1180.2 1018.9 1181.7 1020.8 1182.3 1021.4C1182.9 1022.0 1184.4 1023.6 1185.1 1024.2C1185.7 1024.8 1187.4 1026.1 1188.0 1026.7C1188.7 1027.3 1190.2 1029.5 1190.8 1029.5C1191.3 1029.5 1192.9 1027.6 1193.3 1027.0C1193.7 1026.3 1194.2 1024.3 1194.7 1023.7C1195.1 1023.0 1196.9 1021.8 1197.3 1021.2C1197.7 1020.5 1198.2 1018.4 1198.6 1017.8C1198.9 1017.1 1200.3 1015.0 1200.8 1015.0C1201.2 1015.0 1202.6 1017.0 1203.1 1017.6C1203.6 1018.1 1204.8 1019.7 1205.3 1020.2C1205.9 1020.7 1207.5 1021.9 1208.1 1022.3C1208.7 1022.8 1210.0 1024.2 1210.8 1024.5C1211.5 1024.8 1213.7 1024.8 1214.5 1024.9C1215.4 1025.0 1217.5 1024.9 1218.3 1025.0C1219.2 1025.2 1221.3 1025.9 1222.0 1026.2C1222.7 1026.6 1224.5 1027.9 1225.1 1028.3C1225.8 1028.8 1227.7 1030.6 1228.2 1030.5C1228.8 1030.4 1229.7 1028.0 1230.2 1027.3C1230.7 1026.6 1232.3 1025.2 1232.8 1024.5C1233.3 1023.9 1234.4 1022.1 1234.8 1021.4C1235.2 1020.6 1236.1 1018.0 1236.5 1018.0C1236.9 1018.0 1237.9 1021.0 1238.4 1021.8C1239.0 1022.5 1240.9 1023.9 1241.6 1024.6C1242.2 1025.2 1243.6 1027.1 1244.1 1027.9C1244.7 1028.6 1246.0 1031.2 1246.5 1031.2C1247.0 1031.3 1248.1 1028.9 1248.6 1028.3C1249.1 1027.7 1250.4 1026.2 1250.8 1025.5C1251.2 1024.8 1251.6 1022.6 1252.0 1021.9C1252.3 1021.2 1253.6 1019.6 1254.1 1019.0C1254.6 1018.4 1256.0 1016.2 1256.5 1016.2C1257.0 1016.3 1258.5 1018.4 1258.9 1019.1C1259.4 1019.8 1260.3 1021.7 1260.7 1022.4C1261.1 1023.1 1262.3 1024.8 1262.8 1025.5C1263.2 1026.2 1264.0 1028.5 1264.5 1028.8C1265.0 1029.0 1266.9 1028.1 1267.4 1027.7C1267.9 1027.3 1268.7 1025.5 1269.3 1025.1C1269.8 1024.6 1271.4 1023.7 1272.0 1023.8C1272.6 1023.8 1274.0 1025.5 1274.6 1025.8C1275.3 1026.0 1277.3 1026.1 1278.0 1026.3C1278.6 1026.6 1280.1 1028.0 1280.8 1028.0C1281.4 1028.0 1282.8 1026.2 1283.4 1025.9C1284.1 1025.6 1286.3 1025.6 1286.9 1025.3C1287.6 1025.0 1288.9 1023.1 1289.5 1023.0C1290.1 1022.9 1291.5 1024.1 1292.0 1024.5C1292.5 1024.8 1293.6 1025.9 1294.1 1026.4C1294.5 1026.9 1295.3 1028.7 1295.8 1028.8C1296.2 1028.8 1297.9 1027.0 1298.5 1026.6C1299.1 1026.2 1300.8 1025.2 1301.4 1024.9C1302.1 1024.6 1304.0 1024.0 1304.7 1023.7C1305.3 1023.3 1306.9 1022.1 1307.5 1021.8C1308.2 1021.4 1310.0 1020.5 1310.8 1020.5C1311.5 1020.5 1313.9 1021.3 1314.7 1021.7C1315.5 1022.0 1317.5 1023.6 1318.2 1023.8C1319.0 1023.9 1321.1 1022.8 1322.0 1022.8C1322.8 1022.8 1324.9 1023.7 1325.8 1023.7C1326.6 1023.6 1328.6 1022.6 1329.5 1022.5C1330.3 1022.4 1332.5 1022.8 1333.2 1023.0C1334.0 1023.2 1335.6 1024.2 1336.2 1024.6C1336.8 1025.0 1338.1 1026.5 1338.7 1026.9C1339.3 1027.4 1340.9 1028.7 1341.5 1028.8C1342.1 1028.8 1343.6 1027.5 1344.1 1027.1C1344.7 1026.6 1345.7 1025.3 1346.2 1024.8C1346.6 1024.3 1347.6 1022.7 1348.2 1022.5C1348.9 1022.3 1351.2 1023.0 1352.0 1023.1C1352.8 1023.1 1354.6 1023.3 1355.8 1023.0C1356.9 1022.7 1361.1 1020.0 1362.0 1020.0C1362.9 1020.0 1363.6 1022.0 1364.1 1022.5C1364.6 1023.1 1365.8 1024.5 1366.4 1025.0C1366.9 1025.5 1368.3 1026.9 1369.0 1027.0C1369.7 1027.1 1372.0 1026.4 1372.7 1026.0C1373.5 1025.6 1375.0 1023.9 1375.8 1023.5C1376.5 1023.1 1378.9 1022.9 1379.5 1022.5C1380.1 1022.1 1380.9 1020.5 1381.4 1020.1C1381.9 1019.8 1383.7 1019.3 1384.3 1019.0C1384.8 1018.6 1386.1 1016.9 1386.5 1017.0C1386.9 1017.1 1387.9 1019.3 1388.4 1020.0C1388.8 1020.6 1389.8 1022.2 1390.2 1022.9C1390.6 1023.6 1391.4 1025.4 1391.8 1026.0C1392.2 1026.7 1393.5 1028.8 1394.0 1028.8C1394.5 1028.7 1395.7 1026.1 1396.3 1025.5C1396.9 1024.9 1398.9 1023.7 1399.6 1023.1C1400.2 1022.5 1401.5 1020.1 1402.0 1020.0C1402.5 1019.9 1403.7 1021.8 1404.2 1022.3C1404.6 1022.8 1405.8 1024.1 1406.3 1024.6C1406.7 1025.1 1407.8 1027.1 1408.2 1027.0C1408.7 1026.9 1409.6 1024.4 1410.0 1023.7C1410.4 1023.0 1411.6 1021.2 1412.1 1020.6C1412.6 1019.9 1414.1 1018.4 1414.5 1017.7C1415.0 1017.0 1416.1 1014.5 1416.5 1014.5C1416.9 1014.5 1417.6 1016.8 1417.8 1017.5C1418.0 1018.1 1418.4 1020.0 1418.7 1020.6C1419.0 1021.3 1420.6 1022.6 1420.9 1023.2C1421.3 1023.8 1421.5 1026.2 1422.0 1026.2C1422.5 1026.3 1424.5 1024.2 1425.0 1023.5C1425.6 1022.8 1426.6 1020.6 1427.2 1020.0C1427.8 1019.3 1429.9 1018.2 1430.6 1017.6C1431.3 1017.0 1432.7 1014.5 1433.2 1014.5C1433.8 1014.5 1435.3 1016.7 1435.7 1017.5C1436.1 1018.2 1436.6 1020.5 1436.9 1021.3C1437.3 1022.1 1438.3 1023.9 1438.8 1024.6C1439.4 1025.3 1441.0 1027.5 1441.5 1027.5C1442.0 1027.5 1442.7 1024.8 1443.2 1024.2C1443.7 1023.5 1445.5 1022.2 1445.9 1021.5C1446.3 1020.8 1446.7 1018.6 1447.1 1017.9C1447.5 1017.2 1448.9 1015.3 1449.5 1015.0C1450.1 1014.7 1451.8 1015.4 1452.5 1015.6C1453.2 1015.7 1454.9 1015.9 1455.5 1016.1C1456.1 1016.3 1457.5 1017.5 1458.2 1017.5C1459.0 1017.5 1461.1 1016.4 1462.0 1016.2C1462.8 1015.9 1464.9 1014.7 1465.8 1015.0C1466.6 1015.3 1468.8 1018.6 1469.5 1018.8C1470.2 1018.9 1471.7 1017.1 1472.4 1016.8C1473.1 1016.5 1475.2 1016.4 1475.9 1016.2C1476.6 1015.9 1478.2 1014.9 1478.9 1014.5C1479.6 1014.2 1481.2 1013.0 1482.0 1013.0C1482.8 1013.0 1485.0 1014.2 1485.8 1014.5C1486.6 1014.9 1488.8 1016.2 1489.5 1016.2C1490.2 1016.3 1491.6 1015.2 1492.2 1014.8C1492.7 1014.4 1493.7 1013.0 1494.3 1012.6C1494.8 1012.2 1496.2 1011.6 1497.0 1011.2C1497.8 1010.9 1501.3 1010.0 1502.0 1009.5C1502.7 1009.0 1502.8 1007.1 1503.0 1006.4C1503.3 1005.7 1504.1 1004.1 1504.3 1003.4C1504.5 1002.7 1504.8 1000.9 1505.1 1000.2C1505.4 999.6 1506.2 997.9 1507.0 997.5C1507.8 997.1 1511.3 996.0 1512.0 996.2C1512.7 996.5 1513.2 999.1 1513.7 999.7C1514.2 1000.4 1516.3 1001.5 1516.9 1002.1C1517.5 1002.8 1518.6 1004.6 1519.1 1005.3C1519.5 1006.0 1520.2 1008.6 1520.8 1008.8C1521.3 1008.9 1523.4 1007.4 1524.1 1006.9C1524.8 1006.5 1526.5 1005.3 1527.2 1004.8C1527.8 1004.2 1529.2 1002.6 1529.9 1002.1C1530.5 1001.6 1532.3 1000.0 1533.0 1000.0C1533.7 1000.0 1535.6 1001.9 1536.4 1002.4C1537.2 1002.9 1539.3 1004.0 1540.0 1004.6C1540.7 1005.1 1542.3 1007.3 1543.0 1007.5C1543.7 1007.7 1545.5 1006.4 1546.2 1006.3C1547.0 1006.3 1548.9 1006.7 1549.7 1006.7C1550.4 1006.7 1552.1 1006.2 1553.0 1006.2C1553.9 1006.3 1557.1 1007.2 1558.0 1007.0C1558.9 1006.8 1560.3 1004.9 1560.9 1004.4C1561.6 1003.8 1563.3 1002.4 1564.0 1001.9C1564.7 1001.4 1567.0 999.8 1567.5 1000.0C1568.0 1000.2 1568.2 1003.0 1568.6 1003.7C1569.1 1004.4 1571.1 1005.8 1571.5 1006.6C1572.0 1007.3 1572.4 1009.4 1572.7 1010.2C1573.0 1011.0 1573.8 1013.1 1574.2 1013.8C1574.7 1014.4 1576.5 1016.0 1577.1 1016.5C1577.8 1017.1 1579.9 1018.8 1580.5 1018.8C1581.1 1018.7 1582.3 1016.7 1582.7 1016.0C1583.0 1015.3 1583.3 1013.2 1583.8 1012.6C1584.2 1011.9 1586.0 1010.7 1586.4 1010.1C1586.9 1009.5 1587.6 1007.1 1588.0 1007.0C1588.4 1006.9 1589.6 1008.6 1590.0 1009.1C1590.5 1009.5 1591.6 1010.7 1592.0 1011.1C1592.5 1011.6 1593.6 1013.1 1594.2 1013.0C1594.9 1012.9 1597.0 1011.2 1597.6 1010.6C1598.2 1009.9 1599.3 1007.5 1600.0 1007.2C1600.7 1007.0 1602.9 1008.0 1603.7 1008.1C1604.5 1008.2 1606.6 1008.2 1607.5 1008.2C1608.3 1008.3 1610.5 1008.7 1611.2 1008.5C1612.0 1008.3 1613.8 1006.8 1614.4 1006.3C1615.0 1005.7 1616.4 1004.1 1617.0 1003.5C1617.7 1002.9 1619.1 1001.1 1620.0 1001.0C1620.8 1000.9 1624.1 1002.4 1624.9 1002.9C1625.8 1003.4 1627.0 1005.0 1627.6 1005.6C1628.2 1006.3 1629.4 1008.0 1630.0 1008.6C1630.6 1009.2 1632.5 1010.9 1633.1 1011.0C1633.6 1011.0 1634.8 1009.5 1635.3 1009.0C1635.7 1008.5 1636.6 1007.2 1637.1 1006.7C1637.5 1006.2 1638.7 1004.8 1639.3 1004.7C1639.9 1004.7 1642.0 1005.9 1642.6 1006.5C1643.3 1007.0 1644.3 1009.1 1644.8 1009.7C1645.4 1010.2 1647.5 1011.8 1648.0 1011.6C1648.6 1011.4 1649.5 1008.9 1650.0 1008.2C1650.5 1007.5 1651.8 1005.7 1652.3 1005.0C1652.8 1004.3 1653.8 1002.3 1654.3 1001.6C1654.8 1000.9 1656.3 998.5 1656.8 998.5C1657.2 998.5 1658.1 1000.8 1658.6 1001.4C1659.0 1002.0 1660.2 1003.5 1660.6 1004.2C1661.0 1004.8 1661.6 1006.7 1661.9 1007.4C1662.3 1008.0 1663.7 1009.4 1664.1 1010.1C1664.6 1010.7 1665.7 1012.9 1666.1 1012.8C1666.5 1012.8 1667.6 1010.3 1668.1 1009.6C1668.5 1008.9 1669.8 1007.2 1670.2 1006.5C1670.6 1005.8 1671.3 1003.7 1671.6 1003.0C1672.0 1002.2 1673.1 999.8 1673.6 999.7C1674.1 999.7 1675.5 1001.7 1676.0 1002.3C1676.6 1002.9 1677.8 1004.5 1678.3 1005.0C1678.9 1005.5 1680.3 1006.8 1681.1 1007.2C1681.8 1007.6 1684.1 1008.3 1684.9 1008.6C1685.8 1008.9 1688.0 1009.5 1688.9 1009.7C1689.8 1009.9 1692.2 1010.6 1692.9 1010.3C1693.7 1010.1 1695.3 1008.5 1695.9 1007.8C1696.4 1007.2 1697.5 1005.3 1698.0 1004.6C1698.5 1003.9 1700.0 1001.6 1700.4 1001.6C1700.9 1001.6 1701.6 1003.8 1702.1 1004.3C1702.5 1004.9 1703.8 1006.1 1704.2 1006.7C1704.7 1007.2 1705.5 1008.7 1705.9 1009.4C1706.2 1010.0 1706.6 1011.4 1707.3 1012.2C1708.0 1013.1 1711.3 1016.8 1712.3 1017.2C1713.2 1017.6 1715.2 1016.4 1716.0 1016.2C1716.8 1016.0 1718.6 1015.1 1719.7 1015.3C1720.8 1015.6 1724.7 1018.4 1726.0 1018.5C1727.2 1018.5 1730.1 1016.5 1731.0 1016.0C1731.8 1015.4 1732.9 1014.1 1733.5 1013.7C1734.1 1013.2 1735.8 1012.3 1736.4 1011.8C1736.9 1011.3 1737.9 1009.2 1738.5 1009.1C1739.0 1009.0 1740.7 1010.6 1741.2 1011.1C1741.8 1011.7 1742.7 1013.3 1743.2 1013.9C1743.6 1014.5 1744.6 1016.3 1745.3 1016.6C1746.0 1016.8 1748.5 1016.5 1749.4 1016.3C1750.3 1016.2 1752.4 1015.4 1753.4 1015.3C1754.4 1015.3 1757.6 1016.2 1758.4 1016.0C1759.3 1015.7 1760.6 1013.5 1761.2 1012.8C1761.8 1012.1 1763.5 1009.7 1764.0 1009.7C1764.6 1009.7 1765.6 1012.3 1766.1 1012.9C1766.7 1013.5 1768.5 1015.4 1769.0 1015.3C1769.5 1015.2 1770.4 1012.6 1770.9 1011.9C1771.4 1011.3 1773.4 1010.0 1773.9 1009.3C1774.5 1008.7 1775.5 1006.0 1775.9 1006.0C1776.3 1006.0 1777.2 1008.6 1777.5 1009.4C1777.9 1010.1 1778.5 1012.2 1778.9 1012.9C1779.3 1013.6 1780.8 1015.2 1781.2 1016.0C1781.5 1016.7 1781.5 1019.7 1782.1 1019.7C1782.8 1019.7 1786.3 1016.2 1787.1 1016.0C1787.9 1015.8 1788.9 1017.4 1789.3 1017.9C1789.7 1018.4 1790.5 1020.0 1790.9 1020.4C1791.4 1020.9 1792.8 1022.2 1793.3 1022.2C1793.9 1022.2 1795.5 1021.0 1796.0 1020.6C1796.6 1020.2 1797.9 1019.0 1798.4 1018.5C1798.9 1018.1 1800.1 1016.5 1800.8 1016.6C1801.5 1016.7 1803.4 1019.4 1804.6 1019.7C1805.8 1020.0 1810.2 1019.4 1811.7 1019.3C1813.2 1019.3 1817.3 1019.3 1818.0 1019.3"/>
<path class="c" stroke="#008000" d="M153.0 890.5C153.4 890.5 155.6 890.3 156.2 890.5C156.9 890.7 158.6 891.6 159.1 892.1C159.7 892.6 160.6 894.3 161.1 894.9C161.5 895.4 163.0 896.4 163.6 896.9C164.2 897.3 165.5 898.5 166.2 898.8C167.0 899.0 169.3 898.9 170.1 898.8C170.9 898.6 173.0 897.4 173.8 897.5C174.5 897.6 176.3 899.1 177.0 899.6C177.6 900.1 179.4 901.4 180.0 902.0C180.6 902.6 181.9 904.4 182.5 905.0C183.1 905.6 184.9 906.8 185.6 907.3C186.3 907.8 187.7 909.5 188.8 909.5C189.8 909.5 194.0 907.0 195.0 907.0C196.0 907.0 197.3 909.0 197.8 909.6C198.4 910.3 199.5 912.2 200.0 912.8C200.6 913.4 202.4 914.7 203.0 915.3C203.6 915.9 204.7 918.1 205.5 918.2C206.3 918.4 209.0 917.8 210.0 917.0C211.0 916.2 213.6 911.6 214.5 911.2C215.4 910.9 217.0 913.2 217.8 913.5C218.6 913.9 221.0 914.2 221.8 914.6C222.6 915.0 224.4 916.5 225.0 917.0C225.6 917.5 227.0 918.8 227.4 919.4C227.8 920.0 228.3 922.1 228.7 922.7C229.1 923.3 230.6 924.8 231.2 925.0C231.9 925.2 234.1 924.3 235.0 924.2C235.8 924.0 238.0 923.7 238.8 923.8C239.5 923.8 241.5 924.5 242.2 924.8C242.9 925.2 244.5 926.7 245.2 927.0C246.0 927.4 248.0 928.0 248.8 928.0C249.5 928.0 251.1 927.6 251.7 927.4C252.3 927.1 253.8 926.0 254.4 925.8C255.1 925.6 256.8 925.4 257.5 925.5C258.2 925.6 260.3 927.1 261.2 927.0C262.2 926.9 265.4 924.5 266.2 924.5C267.1 924.5 268.2 926.6 268.7 927.2C269.2 927.8 270.5 929.4 271.1 930.0C271.6 930.6 273.3 932.6 273.8 932.5C274.2 932.4 275.1 929.9 275.6 929.3C276.1 928.6 277.9 927.4 278.4 926.8C279.0 926.2 279.6 923.7 280.5 923.8C281.4 923.8 285.3 926.5 286.2 927.0C287.2 927.5 288.2 928.2 288.7 928.6C289.2 929.0 290.2 930.3 290.6 930.8C291.0 931.3 291.6 933.1 292.5 933.0C293.4 932.9 297.7 930.2 298.8 930.0C299.8 929.8 301.3 931.0 302.0 931.4C302.7 931.8 304.2 933.0 304.8 933.5C305.4 933.9 306.7 935.4 307.5 935.8C308.3 936.1 311.5 936.7 312.5 936.2C313.5 935.8 316.1 932.4 317.0 932.0C317.9 931.6 320.1 932.9 321.0 933.0C321.8 933.0 324.2 932.7 325.0 932.5C325.8 932.3 327.5 931.1 328.3 930.9C329.0 930.6 331.2 930.5 332.0 930.2C332.7 929.9 334.3 928.0 335.0 928.0C335.7 928.0 337.8 929.7 338.5 930.2C339.3 930.7 341.4 932.6 342.0 932.5C342.6 932.4 343.6 930.1 344.1 929.5C344.6 928.8 346.0 927.3 346.5 926.6C346.9 925.9 347.9 924.1 348.2 923.4C348.6 922.6 349.1 920.5 349.5 919.8C349.9 919.1 351.4 917.1 352.0 917.0C352.6 916.9 354.0 918.6 354.6 919.1C355.2 919.6 356.6 920.7 357.2 921.2C357.8 921.6 359.1 922.9 360.0 923.0C360.9 923.1 364.0 921.5 365.0 922.0C366.0 922.5 368.4 927.3 369.5 927.5C370.6 927.7 374.3 924.5 375.0 923.8C375.7 923.0 375.9 921.4 376.1 920.7C376.4 920.1 377.1 918.4 377.6 917.8C378.0 917.3 379.8 916.2 380.2 915.6C380.6 915.0 381.0 912.5 381.2 912.5C381.5 912.5 382.4 914.7 382.8 915.3C383.2 915.9 384.4 917.3 384.8 917.9C385.1 918.5 385.7 920.3 386.0 920.9C386.3 921.5 387.2 923.8 387.5 923.8C387.8 923.7 388.4 920.8 388.9 920.1C389.3 919.3 391.0 917.7 391.4 917.0C391.8 916.2 392.5 914.1 392.8 913.3C393.0 912.4 393.6 910.3 394.0 909.5C394.4 908.7 395.7 906.6 396.2 906.2C396.8 905.9 398.6 906.5 399.2 906.3C399.9 906.1 401.4 905.0 402.0 904.8C402.6 904.7 404.5 905.3 405.0 905.0C405.5 904.7 406.5 902.8 406.9 902.2C407.4 901.5 408.3 899.8 408.8 899.3C409.4 898.8 411.3 897.9 411.8 897.4C412.4 896.8 413.2 894.6 413.8 894.5C414.3 894.4 416.1 896.2 416.7 896.8C417.2 897.4 418.2 899.2 418.7 899.9C419.2 900.5 420.8 902.6 421.2 902.5C421.7 902.4 422.4 899.5 422.8 898.7C423.3 897.9 424.9 896.2 425.4 895.5C425.9 894.7 427.1 892.1 427.5 892.0C427.9 891.9 429.0 894.1 429.5 894.7C430.0 895.2 431.3 896.5 431.8 897.0C432.3 897.6 433.6 898.9 434.1 899.5C434.6 900.0 435.8 902.0 436.2 902.0C436.7 902.0 437.8 899.8 438.3 899.1C438.7 898.5 439.8 896.8 440.3 896.2C440.8 895.6 442.1 894.1 442.6 893.5C443.0 892.8 444.0 890.5 444.5 890.5C445.0 890.5 446.5 892.8 446.9 893.5C447.3 894.2 447.9 896.4 448.3 897.1C448.7 897.8 450.1 899.5 450.5 900.2C450.9 901.0 451.4 903.5 452.0 903.8C452.6 904.0 454.9 902.6 455.7 902.1C456.4 901.6 458.1 899.5 458.8 899.5C459.4 899.5 460.6 901.4 461.2 901.8C461.9 902.1 464.0 902.1 464.7 902.3C465.4 902.6 466.9 903.7 467.5 904.1C468.0 904.5 469.4 906.0 470.0 906.2C470.6 906.5 472.5 906.1 473.2 905.9C473.9 905.8 475.6 905.4 476.3 905.1C476.9 904.9 478.5 903.8 479.2 903.7C479.9 903.5 482.0 903.4 482.5 903.8C483.0 904.1 483.8 906.2 484.1 906.9C484.5 907.5 485.2 909.4 485.7 910.0C486.1 910.6 487.7 911.9 488.2 912.5C488.7 913.1 489.5 915.5 490.0 915.5C490.5 915.5 491.8 913.4 492.3 912.8C492.9 912.3 494.5 911.1 495.1 910.6C495.6 910.0 497.1 908.0 497.5 908.0C497.9 908.0 498.7 910.0 499.1 910.4C499.6 910.8 501.4 911.2 501.9 911.6C502.4 911.9 502.9 913.2 503.8 913.8C504.6 914.3 508.9 915.3 510.0 916.2C511.1 917.2 513.1 922.2 513.8 922.5C514.4 922.8 515.5 919.9 516.0 919.2C516.6 918.5 518.1 916.4 518.8 916.2C519.4 916.1 521.3 917.1 521.9 917.5C522.5 917.9 523.9 919.3 524.5 919.8C525.1 920.2 526.8 921.1 527.5 921.2C528.2 921.4 530.1 920.9 530.8 920.8C531.6 920.7 533.4 920.1 534.1 920.1C534.9 920.0 536.9 919.7 537.5 920.0C538.1 920.3 539.4 922.2 540.0 922.8C540.5 923.4 542.2 924.7 542.7 925.4C543.2 926.1 544.1 928.7 544.5 928.8C544.9 928.8 545.6 926.6 546.1 926.1C546.6 925.6 548.3 924.7 548.8 924.2C549.2 923.6 549.3 921.8 550.0 921.2C550.7 920.7 554.1 919.4 555.0 919.5C555.9 919.6 557.2 921.6 557.8 922.1C558.5 922.6 560.4 923.7 561.0 924.3C561.7 924.8 563.1 927.0 563.8 927.0C564.4 927.0 566.4 925.0 567.0 924.3C567.6 923.6 568.5 921.3 569.1 920.5C569.6 919.8 571.4 917.5 572.0 917.5C572.6 917.5 574.0 920.1 574.6 920.8C575.1 921.5 576.6 923.3 577.1 924.1C577.5 924.9 578.4 928.0 578.8 928.0C579.1 928.0 580.1 925.1 580.5 924.3C580.9 923.6 582.3 921.7 582.7 921.0C583.2 920.3 584.4 918.4 585.0 917.7C585.5 916.9 587.0 914.6 587.5 914.5C588.0 914.4 589.0 916.7 589.6 917.2C590.2 917.6 592.1 918.3 592.7 918.7C593.3 919.2 594.4 921.1 595.0 921.2C595.6 921.4 597.5 920.4 598.3 920.3C599.0 920.2 601.0 920.3 601.7 920.2C602.4 920.1 604.4 919.8 605.0 919.5C605.6 919.2 607.1 917.7 607.5 917.1C607.9 916.5 608.4 914.5 608.7 913.8C609.1 913.2 610.3 911.4 611.0 911.2C611.7 911.1 614.2 911.6 614.8 912.0C615.3 912.4 615.7 914.6 616.1 915.3C616.5 915.9 617.9 917.4 618.3 918.1C618.7 918.7 619.3 921.2 619.8 921.2C620.2 921.3 621.4 919.2 621.9 918.6C622.4 918.0 623.6 916.4 624.0 915.8C624.5 915.2 625.5 913.2 626.0 913.0C626.5 912.8 628.1 914.2 628.7 914.5C629.4 914.7 631.1 914.9 631.7 915.0C632.4 915.2 634.2 915.7 634.8 915.5C635.3 915.3 636.3 913.4 636.8 912.8C637.3 912.3 638.9 911.1 639.3 910.5C639.8 909.9 640.3 907.9 641.0 907.5C641.7 907.1 644.9 906.7 646.0 907.0C647.1 907.3 650.2 910.0 651.0 910.0C651.8 910.0 652.4 907.4 652.8 906.6C653.3 905.9 654.3 904.1 654.9 903.4C655.4 902.7 657.1 901.3 657.6 900.6C658.1 899.9 658.7 897.8 659.1 897.0C659.4 896.3 660.4 893.9 661.0 893.8C661.6 893.6 663.7 895.6 664.6 896.0C665.4 896.4 667.9 897.7 668.5 897.5C669.1 897.3 669.8 894.5 670.3 893.7C670.8 893.0 672.6 891.3 673.0 890.6C673.5 889.8 674.3 887.5 674.6 886.7C675.0 885.9 676.0 883.2 676.5 883.0C677.0 882.8 678.6 884.4 679.1 884.9C679.6 885.4 680.2 887.3 680.7 887.8C681.2 888.3 683.0 889.7 683.5 889.5C684.0 889.3 685.2 886.8 685.6 886.0C686.1 885.2 687.2 883.2 687.7 882.4C688.1 881.6 689.3 879.6 689.8 878.8C690.3 878.1 691.4 875.7 692.2 875.5C693.1 875.3 696.5 877.2 697.2 877.0C698.0 876.8 698.2 874.4 698.6 873.7C699.0 873.0 700.1 871.4 700.6 870.8C701.1 870.2 702.7 868.8 703.1 868.2C703.6 867.5 704.2 864.9 704.8 865.0C705.3 865.1 708.0 868.8 708.5 868.8C709.0 868.7 709.2 865.6 709.5 864.8C709.7 864.0 710.7 861.9 711.1 861.1C711.4 860.3 712.4 858.3 712.8 857.5C713.2 856.7 714.1 854.6 714.4 853.8C714.7 852.9 715.3 850.8 715.6 849.9C715.9 849.1 716.7 846.7 717.2 846.2C717.8 845.8 719.6 846.3 720.3 846.1C720.9 845.9 722.4 844.9 723.0 844.7C723.6 844.6 725.5 844.9 726.0 844.5C726.5 844.1 727.2 842.1 727.6 841.5C728.0 840.9 729.1 839.3 729.4 838.6C729.8 838.0 730.4 836.2 730.8 835.5C731.1 834.9 732.2 833.3 732.6 832.7C733.1 832.1 734.1 830.0 734.8 830.0C735.4 830.0 738.0 832.6 738.5 832.5C739.0 832.4 738.8 829.6 739.1 828.8C739.3 828.0 740.7 826.2 741.0 825.5C741.2 824.7 741.0 822.4 741.2 821.6C741.4 820.8 742.8 819.1 743.0 818.3C743.3 817.5 743.2 815.3 743.5 814.5C743.7 813.7 744.9 811.9 745.1 811.1C745.4 810.4 745.7 808.2 746.0 807.5C746.3 806.8 747.5 805.4 747.9 804.7C748.2 804.0 748.8 802.2 749.1 801.6C749.5 800.9 750.5 799.3 751.0 798.8C751.5 798.2 753.0 796.9 753.4 796.3C753.8 795.7 754.6 793.9 754.9 793.3C755.3 792.6 756.3 791.0 756.7 790.4C757.1 789.7 758.2 788.3 758.5 787.5C758.8 786.7 759.1 784.3 759.4 783.5C759.8 782.7 761.1 780.8 761.5 779.9C761.9 779.1 762.5 776.9 762.9 776.1C763.2 775.3 763.9 773.0 764.8 772.5C765.6 772.0 770.2 771.8 771.0 771.2C771.8 770.7 771.7 768.4 772.0 767.7C772.3 766.9 773.5 765.1 773.8 764.3C774.1 763.5 774.6 761.5 774.7 760.7C774.8 759.9 774.4 757.6 774.7 756.8C774.9 756.0 776.2 754.2 776.6 753.5C777.0 752.7 777.8 750.8 778.1 750.0C778.3 749.2 777.9 747.2 778.5 746.2C779.1 745.3 782.8 742.2 783.5 741.2C784.2 740.3 784.4 738.2 784.6 737.3C784.8 736.4 784.7 734.0 785.0 733.2C785.3 732.3 786.9 730.4 787.2 729.5C787.4 728.7 787.3 726.3 787.6 725.4C787.8 724.5 789.2 722.5 789.4 721.6C789.6 720.8 789.6 718.3 789.8 717.5C789.9 716.7 790.7 714.8 790.9 714.1C791.1 713.3 791.3 711.3 791.5 710.5C791.6 709.7 792.2 707.8 792.3 707.0C792.3 706.2 791.5 704.0 791.6 703.2C791.7 702.4 793.1 700.6 793.3 699.9C793.5 699.1 793.2 696.3 793.5 696.2C793.8 696.2 795.3 698.7 795.8 699.4C796.3 700.1 797.7 701.9 798.1 702.6C798.6 703.4 799.5 706.3 799.8 706.2C800.0 706.2 800.2 703.3 800.4 702.5C800.6 701.6 801.4 699.6 801.5 698.8C801.7 697.9 801.4 695.7 801.5 694.8C801.7 694.0 802.7 692.0 803.0 691.2C803.3 690.4 804.1 688.4 804.3 687.6C804.5 686.8 804.6 684.6 804.7 683.7C804.9 682.9 805.5 680.8 805.6 680.0C805.8 679.2 805.9 677.0 806.1 676.2C806.3 675.4 806.6 673.2 807.2 672.5C807.9 671.8 811.5 670.7 812.2 670.0C813.0 669.3 813.6 667.2 813.7 666.4C813.8 665.6 813.3 663.3 813.4 662.4C813.5 661.6 814.5 659.6 814.8 658.8C815.0 658.0 815.4 655.9 815.5 655.0C815.5 654.2 815.0 651.9 815.3 651.1C815.5 650.3 817.3 648.5 817.5 647.6C817.7 646.8 816.9 644.5 817.1 643.7C817.3 642.8 818.7 640.9 819.0 640.1C819.2 639.3 819.5 637.2 819.6 636.4C819.7 635.5 819.4 633.1 819.8 632.5C820.1 631.9 822.3 631.7 823.0 631.4C823.6 631.0 825.2 630.1 825.8 629.6C826.5 629.2 828.1 628.2 828.5 627.5C828.9 626.8 829.3 624.3 829.6 623.5C829.9 622.6 830.6 620.4 830.9 619.5C831.2 618.6 831.7 616.0 832.2 615.5C832.8 615.0 835.5 614.6 836.0 615.0C836.5 615.4 837.1 618.0 837.2 618.9C837.4 619.8 837.1 622.3 837.4 623.2C837.6 624.0 839.3 626.0 839.7 626.8C840.0 627.7 840.4 630.0 840.5 630.9C840.7 631.8 840.3 634.3 841.0 635.0C841.7 635.7 846.4 636.4 847.2 637.0C848.1 637.6 848.0 639.4 848.3 640.0C848.7 640.6 849.8 642.0 850.2 642.6C850.6 643.1 851.9 644.3 852.2 645.0C852.6 645.7 852.8 647.8 853.0 648.6C853.1 649.4 853.3 651.4 853.6 652.2C853.8 653.0 855.0 654.7 855.2 655.5C855.5 656.3 855.5 658.4 855.8 659.1C856.0 659.9 856.9 661.7 857.2 662.5C857.6 663.3 858.8 665.4 859.2 666.2C859.6 667.0 860.5 670.0 861.0 670.0C861.5 670.0 863.0 667.4 863.4 666.5C863.7 665.7 863.7 663.1 864.1 662.2C864.4 661.4 866.1 658.8 866.5 658.8C866.9 658.7 867.5 661.2 867.7 662.0C868.0 662.7 868.5 664.6 868.7 665.3C868.9 666.0 869.3 667.9 869.5 668.6C869.8 669.4 870.9 671.0 871.2 671.7C871.5 672.4 871.9 674.3 872.2 675.0C872.6 675.7 874.1 677.4 874.5 678.1C875.0 678.8 876.1 680.7 876.7 681.3C877.3 681.9 879.3 683.1 879.8 683.8C880.2 684.4 880.8 686.7 881.1 687.5C881.4 688.3 882.3 690.3 882.7 691.1C883.0 691.9 884.0 693.9 884.2 694.8C884.3 695.6 884.0 698.1 884.2 698.9C884.4 699.8 885.6 701.8 886.0 702.5C886.4 703.2 887.2 704.9 887.6 705.6C888.0 706.3 888.9 708.0 889.3 708.7C889.6 709.4 890.3 711.2 890.7 711.9C891.0 712.6 891.8 714.5 892.2 715.0C892.7 715.5 894.2 716.3 894.7 716.7C895.2 717.1 896.3 718.4 896.7 718.9C897.1 719.4 898.1 720.6 898.5 721.2C898.9 721.9 899.8 724.3 900.1 725.1C900.4 726.0 901.2 728.2 901.4 729.1C901.5 730.1 901.5 732.5 901.7 733.4C902.0 734.3 903.5 736.3 903.9 737.1C904.2 738.0 904.3 740.5 904.8 741.2C905.2 742.0 907.2 743.1 907.7 743.8C908.2 744.4 908.8 746.8 909.3 747.4C909.8 748.1 911.7 749.4 912.2 750.0C912.8 750.6 913.5 752.6 913.9 753.3C914.4 754.0 916.0 755.4 916.4 756.2C916.7 756.9 917.0 759.1 917.3 759.9C917.6 760.6 918.6 762.4 919.0 763.1C919.4 763.8 920.5 765.7 921.0 766.2C921.5 766.8 922.8 768.0 923.4 768.5C923.9 769.0 925.2 770.3 925.7 770.7C926.3 771.2 928.0 771.9 928.5 772.5C929.0 773.1 929.5 775.4 929.9 776.2C930.2 777.0 931.2 779.0 931.4 779.9C931.6 780.7 931.7 783.0 931.9 783.9C932.1 784.7 933.3 786.7 933.5 787.5C933.7 788.3 934.0 790.5 934.2 791.3C934.3 792.1 934.6 794.3 934.9 795.1C935.1 795.9 936.2 797.8 936.5 798.6C936.7 799.5 936.9 801.6 937.0 802.5C937.1 803.3 937.2 805.5 937.4 806.3C937.5 807.1 938.0 809.5 938.5 810.0C939.0 810.5 941.5 810.3 942.3 810.5C943.1 810.6 945.4 810.7 946.0 811.2C946.6 811.8 947.0 814.2 947.3 815.1C947.6 815.9 948.6 817.9 948.9 818.7C949.2 819.6 949.6 821.8 949.9 822.6C950.3 823.5 951.6 825.4 951.9 826.2C952.3 827.0 952.9 829.1 953.1 830.0C953.4 830.9 953.8 833.1 954.1 833.9C954.4 834.8 955.4 837.2 956.0 837.5C956.6 837.8 958.9 836.7 959.7 836.6C960.5 836.5 962.9 835.9 963.5 836.2C964.1 836.6 965.3 839.0 965.6 839.8C966.0 840.6 966.3 843.0 966.6 843.8C967.0 844.7 967.9 846.9 968.5 847.5C969.1 848.1 971.3 849.0 972.0 849.6C972.6 850.2 973.7 852.3 974.4 852.9C975.1 853.5 977.4 854.2 978.1 854.7C978.8 855.2 980.1 857.2 981.0 857.5C981.9 857.8 985.3 857.1 986.0 857.5C986.7 857.9 987.1 860.1 987.6 860.8C988.0 861.4 989.6 862.8 990.1 863.4C990.6 864.0 991.8 865.5 992.2 866.2C992.7 867.0 994.1 869.0 994.5 869.8C994.9 870.6 995.4 872.9 995.7 873.8C996.0 874.6 996.9 876.8 997.3 877.6C997.6 878.4 998.9 880.4 999.3 881.2C999.7 882.1 1000.1 884.7 1001.0 885.0C1001.9 885.3 1006.2 884.1 1007.2 883.8C1008.3 883.4 1009.6 882.4 1010.3 882.0C1010.9 881.6 1012.3 880.2 1013.0 879.8C1013.6 879.3 1015.5 877.8 1016.0 878.0C1016.5 878.2 1016.7 880.8 1017.1 881.5C1017.6 882.2 1019.5 883.4 1019.9 884.1C1020.3 884.7 1020.5 887.0 1020.9 887.7C1021.3 888.3 1023.2 889.6 1023.6 890.3C1024.1 890.9 1024.3 893.5 1024.8 893.8C1025.2 894.0 1027.0 893.2 1027.7 892.9C1028.3 892.7 1029.8 891.6 1030.4 891.5C1031.0 891.3 1032.5 891.3 1033.5 891.2C1034.5 891.2 1038.8 890.6 1039.8 891.2C1040.7 891.9 1041.4 896.7 1042.2 897.5C1043.1 898.3 1046.3 898.4 1047.2 898.8C1048.2 899.1 1050.0 900.3 1050.7 900.8C1051.4 901.4 1053.0 903.6 1053.5 903.8C1054.0 903.9 1055.2 902.3 1055.7 901.9C1056.2 901.6 1057.6 900.8 1058.1 900.4C1058.5 899.9 1059.3 898.0 1059.8 898.0C1060.2 898.0 1061.6 899.6 1062.0 900.1C1062.5 900.6 1063.6 902.0 1064.0 902.6C1064.5 903.1 1065.1 904.3 1066.0 905.0C1066.9 905.7 1070.8 908.0 1072.0 908.5C1073.2 909.0 1076.1 910.1 1077.0 910.0C1077.9 909.9 1079.4 907.8 1080.1 907.2C1080.8 906.6 1082.6 904.7 1083.2 904.5C1083.9 904.3 1085.7 905.2 1086.3 905.3C1087.0 905.4 1088.8 905.4 1089.5 905.5C1090.2 905.6 1092.0 906.0 1092.7 906.2C1093.4 906.3 1094.7 906.5 1095.8 907.0C1096.8 907.5 1101.0 910.2 1102.0 910.5C1103.0 910.8 1104.2 909.8 1104.8 909.5C1105.3 909.2 1106.5 908.1 1107.0 907.7C1107.6 907.4 1109.0 906.2 1109.5 906.2C1110.0 906.3 1111.4 907.9 1111.8 908.4C1112.3 909.0 1113.1 910.6 1113.5 911.2C1113.9 911.8 1115.0 913.2 1115.5 913.7C1116.0 914.2 1117.5 915.6 1118.2 915.5C1119.0 915.4 1121.2 912.6 1122.0 912.5C1122.8 912.4 1124.5 914.4 1125.2 914.9C1126.0 915.4 1128.1 916.4 1128.8 916.9C1129.5 917.5 1131.0 920.0 1131.5 920.0C1132.0 920.0 1132.8 917.3 1133.3 916.7C1133.7 916.0 1135.5 914.7 1136.0 914.0C1136.5 913.3 1137.1 910.6 1137.5 910.5C1137.9 910.4 1139.3 912.3 1139.8 912.9C1140.2 913.5 1141.3 915.0 1141.6 915.6C1141.9 916.3 1142.4 918.2 1142.8 918.8C1143.1 919.4 1144.6 921.3 1145.0 921.2C1145.4 921.2 1146.0 918.6 1146.4 918.0C1146.9 917.4 1148.8 916.3 1149.3 915.7C1149.7 915.1 1150.3 912.5 1150.8 912.5C1151.2 912.5 1153.0 914.9 1153.6 915.6C1154.1 916.3 1155.4 918.3 1155.9 919.1C1156.4 919.8 1157.6 922.4 1158.2 922.5C1158.9 922.6 1160.8 920.7 1161.5 920.1C1162.2 919.6 1163.8 917.8 1164.5 917.5C1165.2 917.2 1167.1 917.0 1167.9 917.1C1168.6 917.2 1170.4 918.1 1171.1 918.2C1171.9 918.3 1173.5 917.7 1174.5 918.0C1175.5 918.3 1178.8 921.4 1180.0 921.2C1181.2 921.1 1184.8 917.2 1185.8 917.0C1186.7 916.8 1188.0 919.1 1188.6 919.8C1189.1 920.4 1190.4 922.3 1191.0 922.9C1191.6 923.6 1193.3 925.5 1194.0 925.5C1194.7 925.5 1196.4 923.6 1197.0 922.9C1197.5 922.3 1198.3 920.1 1198.9 919.4C1199.4 918.7 1201.5 916.9 1202.0 917.0C1202.5 917.1 1203.4 919.7 1203.8 920.4C1204.2 921.1 1205.4 922.9 1206.0 923.5C1206.5 924.2 1208.4 925.5 1208.9 926.2C1209.4 926.8 1210.3 929.3 1210.8 929.5C1211.2 929.7 1212.8 928.2 1213.3 927.7C1213.9 927.2 1214.9 925.7 1215.5 925.3C1216.0 924.9 1217.4 923.5 1218.2 923.8C1219.1 924.0 1222.4 927.3 1223.2 927.5C1224.1 927.7 1225.2 925.8 1225.8 925.4C1226.4 924.9 1228.0 923.9 1228.5 923.4C1229.0 922.9 1230.1 921.3 1230.6 920.8C1231.2 920.3 1232.7 918.8 1233.2 918.8C1233.8 918.7 1235.1 920.3 1235.7 920.7C1236.3 921.1 1238.0 921.7 1238.6 922.1C1239.1 922.6 1240.1 924.2 1240.8 924.5C1241.4 924.8 1243.4 924.6 1244.2 924.5C1244.9 924.4 1246.7 923.9 1247.4 923.7C1248.2 923.5 1250.1 923.3 1250.8 923.0C1251.4 922.7 1252.8 921.6 1253.2 921.1C1253.6 920.5 1254.0 918.6 1254.5 918.1C1254.9 917.5 1256.4 916.1 1257.0 916.2C1257.6 916.4 1258.8 918.9 1259.5 919.5C1260.1 920.1 1262.3 921.2 1263.0 921.8C1263.6 922.5 1264.6 924.6 1265.2 925.3C1265.8 926.0 1267.7 927.3 1268.3 928.0C1268.9 928.6 1270.2 931.2 1270.8 931.2C1271.3 931.3 1273.0 929.5 1273.5 928.9C1273.9 928.2 1274.3 926.0 1274.8 925.4C1275.2 924.7 1276.7 922.6 1277.5 923.0C1278.3 923.4 1281.2 928.3 1282.0 928.8C1282.8 929.2 1283.9 927.4 1284.5 927.0C1285.0 926.7 1286.4 925.7 1287.0 925.4C1287.5 925.0 1288.9 923.7 1289.5 923.8C1290.1 923.8 1291.5 925.2 1292.1 925.5C1292.7 925.9 1294.4 926.6 1294.9 927.1C1295.4 927.5 1296.4 929.5 1297.0 929.5C1297.6 929.5 1300.0 927.1 1300.8 927.0C1301.5 926.9 1302.9 928.6 1303.5 929.0C1304.1 929.5 1305.6 930.9 1306.2 931.3C1306.9 931.6 1309.0 932.7 1309.5 932.5C1310.0 932.3 1310.6 930.4 1311.0 929.9C1311.4 929.4 1312.9 928.4 1313.3 927.8C1313.7 927.3 1313.7 925.3 1314.5 925.0C1315.3 924.7 1319.8 924.8 1320.8 925.0C1321.7 925.2 1322.7 926.6 1323.2 927.0C1323.8 927.5 1325.1 928.6 1325.6 929.1C1326.1 929.6 1327.3 931.0 1327.7 931.5C1328.2 932.0 1329.5 933.8 1330.0 933.8C1330.5 933.7 1331.8 931.9 1332.1 931.3C1332.5 930.8 1333.1 929.1 1333.4 928.5C1333.6 927.8 1334.1 925.6 1334.5 925.5C1334.9 925.4 1336.4 927.2 1337.1 927.6C1337.7 927.9 1339.6 928.4 1340.2 928.8C1340.8 929.2 1341.9 931.1 1342.5 931.2C1343.1 931.4 1344.8 930.3 1345.5 929.9C1346.1 929.6 1347.6 928.4 1348.2 928.1C1348.9 927.7 1350.6 927.1 1351.2 926.9C1351.9 926.7 1353.8 926.3 1354.5 926.2C1355.2 926.2 1356.8 926.1 1357.4 926.1C1358.1 926.0 1359.7 925.8 1360.3 925.9C1361.0 925.9 1362.2 925.9 1363.2 926.2C1364.3 926.6 1368.6 929.5 1369.5 929.5C1370.4 929.5 1371.0 926.7 1371.5 926.0C1372.1 925.3 1373.9 923.8 1374.5 923.2C1375.1 922.5 1376.2 919.7 1377.0 920.0C1377.8 920.3 1380.5 925.5 1381.5 925.5C1382.5 925.5 1384.7 920.2 1385.8 920.0C1386.8 919.8 1389.8 923.5 1390.8 923.8C1391.7 924.0 1393.4 922.4 1394.1 922.0C1394.8 921.5 1396.4 919.5 1397.0 919.5C1397.6 919.5 1398.9 921.3 1399.5 921.7C1400.1 922.2 1401.6 923.1 1402.3 923.4C1403.0 923.7 1404.8 924.2 1405.5 924.5C1406.1 924.8 1407.6 926.3 1408.2 926.2C1408.9 926.2 1410.7 924.3 1411.5 924.0C1412.2 923.6 1414.7 923.5 1415.5 923.1C1416.2 922.7 1417.8 921.0 1418.5 920.5C1419.2 920.0 1421.3 919.0 1422.0 918.8C1422.7 918.5 1424.6 918.3 1425.3 918.3C1426.1 918.3 1428.0 918.8 1428.7 918.7C1429.4 918.7 1431.4 917.7 1432.0 918.0C1432.6 918.3 1433.9 920.3 1434.4 921.1C1434.9 921.8 1435.9 923.8 1436.5 924.4C1437.0 925.1 1438.9 926.8 1439.5 927.0C1440.1 927.2 1441.6 926.2 1442.1 925.9C1442.7 925.7 1444.3 925.2 1444.8 924.9C1445.3 924.6 1446.3 923.2 1447.0 923.0C1447.7 922.8 1450.0 923.1 1450.9 923.2C1451.7 923.4 1453.7 924.5 1454.5 924.5C1455.3 924.5 1457.1 923.5 1457.8 923.0C1458.4 922.6 1459.7 921.0 1460.4 920.6C1461.0 920.1 1462.8 919.2 1463.4 918.7C1464.0 918.3 1465.4 916.8 1466.0 916.3C1466.6 915.8 1468.2 914.6 1468.9 914.2C1469.5 913.8 1471.3 912.6 1472.0 912.5C1472.7 912.4 1474.4 913.0 1475.0 913.2C1475.7 913.4 1477.4 913.8 1478.0 914.0C1478.6 914.3 1480.2 915.5 1480.8 915.5C1481.3 915.5 1482.9 914.5 1483.3 914.0C1483.7 913.5 1484.1 911.6 1484.5 911.1C1484.9 910.6 1486.3 909.6 1487.0 909.5C1487.7 909.4 1490.0 909.8 1490.8 910.0C1491.7 910.2 1493.8 911.4 1494.5 911.2C1495.2 911.1 1496.6 909.5 1497.1 908.9C1497.7 908.3 1498.7 906.5 1499.2 905.9C1499.7 905.3 1501.1 904.0 1501.7 903.4C1502.3 902.9 1503.8 901.6 1504.5 901.2C1505.2 900.9 1507.4 900.6 1508.2 900.5C1509.0 900.4 1511.3 900.2 1512.0 900.5C1512.7 900.8 1513.7 902.4 1514.2 903.0C1514.7 903.5 1516.0 904.8 1516.4 905.5C1516.7 906.1 1517.0 908.1 1517.3 908.8C1517.7 909.4 1519.0 911.3 1519.5 911.2C1520.0 911.2 1521.7 909.2 1522.2 908.5C1522.7 907.8 1523.8 905.9 1524.3 905.2C1524.8 904.6 1526.0 902.9 1527.0 902.5C1528.0 902.1 1531.5 902.1 1533.0 902.0C1534.5 901.9 1539.3 901.9 1540.5 902.0C1541.7 902.1 1543.4 902.8 1544.2 902.8C1545.0 902.9 1547.3 902.3 1548.0 902.5C1548.7 902.7 1549.9 904.5 1550.4 905.1C1551.0 905.6 1552.8 906.6 1553.3 907.2C1553.8 907.8 1554.5 909.9 1555.0 910.5C1555.5 911.1 1557.5 912.7 1558.0 912.5C1558.5 912.3 1558.9 909.4 1559.3 908.6C1559.7 907.8 1561.4 906.0 1561.8 905.2C1562.2 904.4 1562.6 901.5 1563.0 901.2C1563.4 901.0 1565.1 902.7 1565.7 902.9C1566.4 903.1 1568.5 902.8 1569.1 903.1C1569.8 903.3 1571.3 904.4 1571.8 905.0C1572.2 905.6 1573.0 907.5 1573.5 908.1C1574.0 908.7 1575.7 910.0 1576.2 910.6C1576.7 911.1 1577.8 912.8 1578.3 913.4C1578.8 914.1 1579.9 916.2 1580.5 916.2C1581.1 916.3 1583.3 914.5 1583.9 913.8C1584.5 913.2 1585.7 911.1 1586.3 910.4C1586.9 909.7 1588.5 907.8 1589.2 907.5C1590.0 907.2 1592.1 907.8 1592.9 907.9C1593.7 908.0 1595.8 908.2 1596.6 908.5C1597.3 908.7 1599.1 909.8 1600.0 909.9C1600.9 910.0 1604.0 909.2 1605.0 909.3C1605.9 909.4 1607.7 910.8 1608.5 911.1C1609.4 911.4 1611.8 911.5 1612.5 911.8C1613.1 912.1 1614.2 913.5 1614.6 914.0C1615.0 914.6 1615.9 916.1 1616.4 916.6C1616.8 917.1 1618.3 918.8 1618.7 918.7C1619.2 918.6 1620.1 916.4 1620.5 915.8C1620.9 915.2 1622.2 913.7 1622.6 913.0C1623.0 912.4 1623.8 910.7 1624.2 910.0C1624.5 909.3 1625.5 907.7 1625.8 907.0C1626.1 906.3 1626.2 903.7 1626.8 903.7C1627.4 903.7 1630.4 906.3 1631.2 906.8C1632.0 907.4 1633.5 908.2 1634.1 908.7C1634.7 909.2 1636.0 910.7 1636.7 911.1C1637.3 911.5 1639.2 912.6 1639.9 912.4C1640.6 912.3 1642.4 910.3 1643.1 909.7C1643.8 909.1 1645.5 907.5 1646.2 907.0C1647.0 906.5 1649.1 904.9 1649.9 904.9C1650.7 904.9 1652.5 906.6 1653.2 907.0C1654.0 907.4 1656.0 908.8 1656.8 908.7C1657.5 908.6 1659.1 906.4 1659.8 905.9C1660.6 905.4 1662.9 904.2 1663.6 904.3C1664.3 904.5 1665.6 906.8 1666.3 907.4C1667.0 907.9 1669.3 908.6 1670.0 909.1C1670.8 909.6 1672.4 911.8 1673.0 911.8C1673.5 911.8 1674.6 909.7 1675.1 909.1C1675.5 908.5 1676.6 906.9 1677.1 906.3C1677.6 905.7 1678.8 904.2 1679.3 903.7C1679.8 903.1 1681.1 901.2 1681.7 901.2C1682.3 901.2 1683.9 903.4 1684.5 904.1C1685.1 904.7 1686.7 906.2 1687.3 906.8C1687.9 907.5 1689.4 909.3 1690.1 910.0C1690.8 910.6 1693.0 912.5 1693.6 912.4C1694.1 912.4 1694.9 910.2 1695.4 909.7C1695.9 909.2 1697.5 908.3 1698.1 907.9C1698.6 907.4 1699.8 906.1 1700.3 905.6C1700.8 905.1 1702.4 903.5 1702.9 903.7C1703.4 903.9 1704.6 906.4 1705.2 907.0C1705.8 907.6 1707.7 909.3 1708.5 909.3C1709.4 909.3 1711.7 907.2 1712.9 906.8C1714.1 906.4 1718.4 905.4 1719.7 905.6C1721.0 905.8 1723.9 908.0 1724.7 908.7C1725.6 909.4 1726.7 911.2 1727.3 912.0C1727.9 912.7 1729.3 914.6 1729.8 915.3C1730.3 916.0 1731.6 918.6 1732.2 918.7C1732.8 918.8 1734.7 916.9 1735.2 916.3C1735.8 915.7 1736.7 913.2 1737.2 913.1C1737.7 912.9 1739.4 914.4 1740.0 914.8C1740.6 915.2 1742.1 916.2 1742.7 916.7C1743.3 917.1 1744.5 918.9 1745.3 918.7C1746.2 918.4 1749.1 914.4 1750.3 914.3C1751.5 914.2 1754.9 917.5 1755.9 918.0C1757.0 918.6 1758.9 919.2 1759.7 919.6C1760.6 919.9 1762.7 920.6 1763.6 921.0C1764.4 921.4 1766.5 923.0 1767.1 923.0C1767.8 923.0 1769.3 921.5 1769.8 920.9C1770.4 920.4 1771.4 918.7 1771.9 918.1C1772.4 917.6 1774.1 916.5 1774.6 916.0C1775.2 915.5 1776.2 913.8 1777.1 913.7C1778.1 913.6 1781.9 915.1 1783.4 914.9C1784.8 914.8 1788.8 912.5 1790.2 912.4C1791.6 912.4 1795.0 913.9 1795.8 914.3C1796.7 914.7 1797.6 916.0 1798.0 916.5C1798.5 917.0 1799.6 918.3 1800.1 918.8C1800.6 919.2 1802.1 920.6 1802.7 920.5C1803.3 920.5 1804.7 919.0 1805.2 918.5C1805.7 918.0 1806.8 916.5 1807.2 915.9C1807.7 915.4 1809.1 914.0 1809.6 913.7C1810.0 913.4 1810.7 913.5 1811.7 913.4C1812.6 913.4 1817.3 913.4 1818.0 913.4"/>
<path class="c" stroke="#000080" d="M153.0 797.5C153.4 797.5 155.5 797.6 156.2 797.5C157.0 797.4 159.4 797.0 160.3 796.6C161.1 796.3 163.0 794.3 163.8 794.5C164.5 794.7 166.5 798.2 167.5 798.8C168.5 799.3 171.7 799.1 172.5 799.5C173.3 799.9 174.7 801.4 175.1 802.1C175.5 802.8 175.8 805.0 176.2 805.7C176.6 806.4 178.5 807.5 178.9 808.2C179.3 808.9 179.5 811.2 179.9 811.9C180.3 812.6 182.1 814.5 182.5 814.5C182.9 814.5 183.2 812.2 183.6 811.7C184.0 811.3 185.9 810.6 186.3 810.2C186.7 809.7 187.1 807.5 187.5 807.5C187.9 807.5 189.3 809.5 189.8 810.0C190.3 810.6 191.6 812.1 192.1 812.6C192.7 813.0 194.0 814.6 195.0 814.5C196.0 814.4 200.3 811.9 201.2 812.0C202.2 812.1 203.0 814.8 203.6 815.4C204.3 816.0 206.7 816.8 207.4 817.4C208.1 818.0 209.0 820.5 210.0 820.5C211.0 820.5 215.3 817.2 216.2 817.0C217.2 816.8 218.4 818.1 218.9 818.5C219.4 818.9 220.5 820.2 221.1 820.6C221.6 821.0 222.8 822.0 223.8 822.0C224.7 822.0 228.6 820.4 229.5 820.5C230.4 820.6 231.2 822.3 231.6 822.8C232.0 823.3 233.1 824.7 233.5 825.3C233.8 825.9 234.6 828.0 235.0 828.0C235.4 828.0 236.5 825.9 237.1 825.5C237.6 825.0 239.5 824.3 240.0 823.9C240.6 823.4 241.5 821.3 242.0 821.2C242.5 821.2 244.2 823.0 244.8 823.4C245.5 823.8 247.2 824.7 248.0 825.0C248.7 825.3 250.6 826.3 251.2 826.2C251.9 826.2 253.2 824.8 253.8 824.6C254.5 824.4 256.4 824.6 257.0 824.3C257.6 824.1 258.9 822.4 259.5 822.5C260.1 822.6 261.7 824.9 262.4 825.5C263.1 826.1 265.0 827.6 265.7 828.2C266.3 828.9 267.7 830.8 268.4 831.5C269.0 832.1 270.2 834.1 271.2 834.5C272.3 834.9 276.5 834.8 277.5 835.0C278.5 835.2 279.5 836.4 280.1 836.7C280.7 837.1 282.3 837.7 282.9 838.2C283.4 838.6 284.2 840.8 285.0 840.5C285.8 840.2 289.1 835.6 290.0 835.0C290.9 834.4 292.6 835.3 293.3 835.3C294.1 835.4 295.9 835.2 296.7 835.3C297.4 835.3 299.2 835.7 300.0 835.8C300.8 835.8 303.3 835.5 304.2 835.4C305.1 835.4 307.5 835.7 308.4 835.6C309.3 835.5 311.7 834.4 312.5 834.5C313.3 834.6 314.8 836.3 315.6 836.7C316.3 837.1 318.2 838.0 318.9 838.4C319.6 838.8 321.4 840.5 322.0 840.5C322.6 840.5 324.1 838.9 324.7 838.4C325.2 837.9 326.6 836.6 327.1 836.0C327.5 835.4 328.0 833.4 328.8 833.0C329.5 832.6 332.8 831.9 333.8 832.0C334.7 832.1 336.7 833.2 337.5 833.5C338.3 833.8 340.4 834.8 341.2 835.0C342.1 835.2 344.2 835.6 345.0 835.5C345.9 835.4 347.9 834.1 348.7 833.9C349.5 833.8 351.9 834.8 352.5 834.5C353.1 834.2 353.7 832.1 354.2 831.4C354.6 830.8 355.8 829.3 356.3 828.7C356.8 828.1 357.8 826.3 358.8 826.2C359.7 826.2 363.9 828.1 365.0 828.0C366.1 827.9 367.9 826.3 368.6 825.7C369.2 825.1 370.5 822.8 371.2 822.5C372.0 822.2 374.2 823.0 375.0 823.0C375.8 823.1 378.1 823.4 378.8 823.0C379.4 822.6 380.6 819.7 381.2 819.5C381.9 819.3 384.3 821.4 385.0 821.2C385.7 821.1 387.1 818.9 387.6 818.1C388.1 817.4 388.9 815.2 389.4 814.4C389.9 813.6 391.6 811.3 392.0 811.2C392.4 811.2 393.2 813.2 393.4 813.7C393.7 814.3 394.0 816.0 394.3 816.5C394.6 817.1 395.9 818.9 396.2 818.8C396.6 818.6 397.4 816.2 397.8 815.6C398.2 814.9 399.5 813.4 399.9 812.8C400.4 812.2 401.4 810.5 401.9 809.9C402.4 809.3 403.6 807.6 404.5 807.5C405.4 807.4 409.1 808.9 410.0 808.8C410.9 808.6 412.4 807.1 413.1 806.6C413.8 806.1 415.5 804.6 416.2 804.5C417.0 804.4 419.1 805.2 420.0 805.3C420.8 805.3 423.1 805.3 423.8 805.0C424.4 804.7 425.8 803.5 426.3 803.0C426.8 802.5 428.1 801.2 428.7 800.7C429.2 800.3 430.6 798.7 431.2 798.8C431.9 798.8 433.5 800.4 434.2 800.8C434.8 801.3 436.7 802.1 437.4 802.5C438.0 803.0 439.2 805.0 440.0 805.0C440.8 805.0 444.1 802.5 445.0 802.5C445.9 802.5 447.2 804.9 447.9 805.4C448.7 805.9 451.0 806.5 451.8 807.0C452.6 807.4 454.1 809.3 455.0 809.5C455.9 809.7 459.2 809.1 460.0 808.8C460.8 808.4 461.7 806.5 462.2 806.0C462.7 805.4 464.2 804.1 464.8 803.5C465.4 803.0 467.0 801.1 467.5 801.2C468.0 801.4 468.8 804.2 469.3 804.9C469.9 805.6 471.7 807.1 472.2 807.8C472.7 808.5 473.3 810.9 473.7 811.6C474.2 812.4 476.2 813.8 476.7 814.5C477.3 815.2 478.0 818.2 478.8 818.0C479.5 817.8 483.0 812.8 483.8 812.5C484.5 812.2 485.2 814.5 485.7 815.1C486.2 815.6 487.7 816.8 488.0 817.4C488.4 818.0 488.5 820.1 488.9 820.7C489.2 821.3 490.7 822.9 491.2 823.0C491.8 823.1 493.3 821.9 493.8 821.5C494.3 821.1 495.3 819.7 495.7 819.3C496.2 818.9 497.4 817.7 498.0 817.5C498.6 817.3 500.3 817.6 500.9 817.8C501.5 818.0 502.9 818.9 503.5 819.2C504.1 819.4 505.4 820.0 506.2 820.0C507.1 820.0 510.5 818.6 511.2 818.8C512.0 818.9 513.1 821.0 513.5 821.6C513.9 822.3 514.6 824.3 515.0 825.0C515.3 825.8 516.4 827.5 516.9 828.1C517.4 828.7 519.0 830.8 519.5 830.8C520.0 830.7 521.1 828.7 521.5 828.0C521.8 827.4 522.2 825.4 522.6 824.8C522.9 824.1 524.0 822.2 524.5 822.0C525.0 821.8 526.9 822.4 527.5 822.8C528.0 823.2 529.0 825.0 529.6 825.4C530.1 825.7 531.9 825.9 532.5 826.2C533.1 826.6 534.0 828.4 534.6 828.8C535.2 829.2 537.2 829.6 537.8 830.0C538.4 830.4 539.5 831.9 540.0 832.4C540.5 832.9 541.9 834.6 542.5 834.5C543.1 834.4 544.9 832.5 545.6 832.0C546.4 831.5 548.6 830.6 549.3 830.1C550.0 829.5 551.3 827.1 552.0 827.0C552.7 826.9 554.8 828.6 555.5 829.1C556.3 829.7 558.0 831.2 558.6 831.8C559.2 832.5 560.3 834.9 561.2 835.0C562.2 835.1 566.2 832.9 567.0 833.0C567.8 833.1 568.0 835.0 568.4 835.5C568.8 836.0 570.1 837.0 570.6 837.4C571.0 837.8 572.0 839.5 572.5 839.5C573.0 839.5 574.7 837.5 575.4 837.0C576.1 836.4 578.0 835.4 578.6 834.8C579.3 834.3 580.3 832.2 581.2 832.0C582.2 831.8 586.5 833.1 587.5 833.2C588.5 833.4 589.8 833.0 590.4 833.0C591.1 832.9 592.7 832.8 593.4 832.7C594.0 832.6 595.7 832.3 596.2 832.0C596.8 831.7 597.7 830.3 598.1 829.8C598.5 829.3 599.5 828.1 600.0 827.7C600.5 827.3 601.9 826.5 602.5 826.2C603.1 826.0 604.8 825.8 605.4 825.9C606.0 825.9 607.6 826.5 608.2 826.7C608.8 826.8 610.3 827.4 611.0 827.2C611.7 827.1 614.0 826.1 614.8 825.7C615.7 825.3 617.4 824.2 618.5 823.8C619.6 823.3 623.7 821.5 624.8 821.2C625.8 821.0 627.4 821.1 628.1 821.1C628.8 821.0 630.7 821.0 631.4 821.0C632.1 821.0 633.8 821.7 634.8 821.2C635.7 820.8 638.9 817.2 639.8 817.0C640.6 816.8 642.1 818.8 642.8 819.3C643.5 819.7 645.4 821.4 646.0 821.2C646.6 821.1 647.6 818.8 647.9 818.1C648.3 817.3 649.1 815.4 649.5 814.6C649.8 813.9 650.6 812.0 651.0 811.2C651.4 810.5 652.7 808.8 653.3 808.2C653.8 807.6 655.5 805.4 656.0 805.5C656.5 805.6 657.6 808.1 658.1 808.7C658.7 809.3 660.3 811.0 661.0 811.2C661.7 811.5 663.7 811.0 664.4 810.9C665.2 810.7 667.1 810.4 667.8 810.2C668.5 809.9 670.3 809.2 671.0 808.8C671.7 808.3 673.5 806.9 673.9 806.2C674.4 805.5 674.9 803.1 675.4 802.4C675.9 801.8 677.9 800.5 678.5 800.0C679.1 799.5 680.2 798.1 680.6 797.5C681.0 796.9 681.7 795.2 682.1 794.6C682.4 794.0 683.6 792.6 684.0 792.0C684.4 791.5 685.4 789.6 686.0 789.5C686.6 789.4 688.9 791.1 689.8 791.2C690.6 791.4 692.7 790.8 693.5 790.7C694.3 790.5 696.6 790.4 697.2 790.0C697.9 789.6 698.9 787.7 699.4 787.1C699.9 786.5 701.4 785.2 702.0 784.7C702.6 784.2 703.8 782.6 704.8 782.5C705.7 782.4 710.1 784.0 711.0 783.8C711.9 783.5 712.7 781.1 712.9 780.2C713.2 779.4 713.0 777.0 713.3 776.2C713.5 775.3 715.0 773.5 715.3 772.7C715.7 771.9 716.1 769.7 716.3 768.8C716.5 768.0 716.7 766.0 717.2 765.0C717.8 764.0 720.4 760.2 721.0 760.0C721.6 759.8 722.5 762.4 722.9 763.0C723.3 763.7 724.2 765.5 724.6 766.2C724.9 766.9 725.7 769.5 726.0 769.5C726.3 769.5 727.1 766.9 727.4 766.2C727.7 765.4 728.6 763.6 728.8 762.8C729.0 762.0 729.3 760.0 729.5 759.2C729.7 758.4 730.1 756.4 730.4 755.7C730.7 754.9 731.8 753.2 732.2 752.5C732.7 751.8 733.8 749.8 734.4 749.1C734.9 748.4 736.7 746.9 737.2 746.2C737.8 745.6 738.7 743.7 739.0 743.0C739.3 742.3 739.9 740.3 740.1 739.5C740.2 738.7 740.2 736.5 740.4 735.7C740.7 735.0 741.7 733.2 742.2 732.5C742.8 731.8 744.6 730.4 745.1 729.7C745.7 729.0 746.8 727.0 747.2 726.2C747.7 725.5 748.6 723.6 748.9 722.9C749.2 722.1 749.8 720.0 750.1 719.3C750.5 718.5 752.1 716.9 752.5 716.2C752.8 715.4 753.1 712.6 753.5 712.5C753.9 712.4 755.6 715.5 756.0 715.5C756.4 715.5 756.8 712.9 757.1 712.1C757.4 711.4 758.3 709.7 758.7 709.0C759.0 708.4 760.1 706.7 760.6 706.1C761.0 705.5 762.3 703.9 762.7 703.3C763.1 702.6 763.7 700.8 764.0 700.0C764.3 699.2 764.9 697.1 765.2 696.3C765.4 695.4 765.9 693.3 766.1 692.5C766.4 691.7 766.9 689.5 767.2 688.8C767.6 688.0 769.0 686.3 769.4 685.6C769.7 684.8 769.9 682.6 770.2 681.8C770.6 681.0 772.0 679.4 772.3 678.6C772.7 677.9 773.3 675.8 773.5 675.0C773.7 674.2 774.1 671.9 774.5 671.2C774.9 670.4 776.8 668.9 777.2 668.2C777.7 667.4 777.9 664.9 778.5 664.5C779.1 664.1 781.5 664.7 782.4 664.9C783.2 665.1 785.4 666.5 786.0 666.2C786.6 666.0 787.5 663.4 787.9 662.6C788.3 661.8 789.5 659.8 789.8 659.0C790.1 658.1 790.8 655.8 791.0 655.0C791.2 654.2 791.7 652.1 791.9 651.3C792.0 650.5 792.2 648.3 792.4 647.5C792.5 646.7 792.8 644.6 792.9 643.8C793.1 642.9 793.8 640.9 793.9 640.1C794.0 639.2 793.8 637.0 793.9 636.2C794.0 635.4 794.6 633.3 794.8 632.5C794.9 631.7 795.1 629.8 795.4 629.1C795.6 628.4 796.6 626.7 796.8 626.0C797.1 625.3 797.6 623.5 797.8 622.8C797.9 622.0 798.0 620.0 798.2 619.3C798.4 618.6 798.9 616.7 799.8 616.2C800.6 615.8 805.1 615.8 806.0 615.5C806.9 615.2 807.3 613.8 807.7 613.3C808.1 612.8 808.9 611.5 809.3 611.0C809.7 610.5 810.7 609.4 811.0 608.8C811.3 608.1 811.5 606.1 811.8 605.4C812.1 604.8 813.4 603.3 813.8 602.6C814.2 602.0 814.9 600.2 815.1 599.5C815.4 598.8 815.8 597.0 816.0 596.2C816.2 595.5 816.5 593.4 816.8 592.6C817.1 591.8 818.3 590.0 818.7 589.3C819.0 588.5 819.7 586.5 819.9 585.7C820.1 585.0 820.4 582.8 820.5 582.0C820.7 581.2 821.1 579.2 821.2 578.4C821.4 577.5 821.9 575.5 822.1 574.7C822.4 573.9 823.0 571.3 823.5 571.2C824.0 571.2 825.7 573.4 826.2 574.1C826.7 574.7 827.7 577.5 828.0 577.5C828.3 577.5 828.3 574.7 828.5 573.9C828.8 573.2 830.3 571.5 830.4 570.7C830.6 569.9 829.7 567.6 829.9 566.8C830.1 566.1 831.7 564.4 832.0 563.6C832.3 562.9 831.8 560.4 832.2 560.0C832.7 559.6 835.5 559.6 836.0 560.0C836.5 560.4 836.5 563.2 836.6 564.1C836.8 565.0 837.1 567.2 837.4 568.1C837.7 569.0 839.1 571.0 839.3 571.9C839.5 572.7 839.3 575.2 839.4 576.0C839.5 576.9 840.1 579.3 840.5 580.0C840.9 580.7 842.3 581.7 842.7 582.2C843.1 582.8 843.6 584.6 844.0 585.2C844.3 585.7 845.2 587.4 846.0 587.5C846.8 587.6 850.2 586.1 851.0 586.2C851.8 586.4 852.7 588.3 853.2 588.8C853.7 589.3 855.2 590.4 855.8 590.9C856.4 591.3 857.9 592.4 858.5 592.9C859.0 593.3 860.6 594.4 861.0 595.0C861.4 595.6 861.4 597.7 861.7 598.3C862.0 599.0 863.5 600.5 863.9 601.1C864.3 601.7 865.0 603.5 865.2 604.2C865.5 604.9 865.7 606.8 866.0 607.5C866.3 608.2 867.5 609.9 868.1 610.4C868.7 610.9 870.9 611.5 871.5 612.0C872.1 612.5 873.1 614.3 873.6 614.9C874.1 615.5 875.5 616.8 876.0 617.5C876.5 618.2 877.9 620.1 878.4 620.8C878.8 621.6 879.5 623.9 880.0 624.6C880.5 625.4 882.4 626.9 882.9 627.6C883.4 628.3 884.4 630.4 884.9 631.2C885.4 631.9 886.7 634.8 887.2 634.5C887.8 634.2 889.1 629.2 889.8 628.8C890.4 628.3 893.0 629.4 893.5 630.0C894.0 630.6 894.5 632.9 894.7 633.8C895.0 634.6 895.8 636.7 896.0 637.5C896.3 638.3 897.0 640.4 897.3 641.2C897.6 642.1 898.1 644.2 898.5 645.0C898.9 645.8 900.1 647.7 900.5 648.5C901.0 649.3 901.9 651.3 902.4 652.1C902.8 652.8 904.1 654.7 904.6 655.4C905.1 656.2 906.2 658.2 906.6 658.9C907.0 659.7 908.2 661.7 908.5 662.5C908.8 663.3 909.0 665.3 909.2 666.1C909.4 666.8 910.0 668.7 910.3 669.4C910.7 670.1 911.7 671.9 912.2 672.5C912.8 673.1 914.8 674.4 915.4 675.0C916.0 675.6 917.7 677.2 918.0 678.0C918.3 678.8 918.1 681.0 918.4 681.8C918.7 682.6 920.5 684.3 920.8 685.0C921.1 685.8 921.3 688.0 921.4 688.8C921.6 689.6 922.1 691.7 922.2 692.5C922.4 693.3 922.6 695.2 922.9 695.8C923.3 696.5 924.9 697.9 925.2 698.6C925.5 699.2 925.5 701.3 925.8 702.0C926.0 702.7 926.4 704.8 927.2 705.0C928.1 705.2 932.4 703.2 933.5 703.8C934.6 704.3 936.8 708.9 937.2 710.0C937.7 711.1 937.3 713.1 937.5 713.9C937.7 714.8 938.7 716.7 939.0 717.5C939.3 718.3 939.9 720.4 940.1 721.2C940.3 722.1 940.7 724.2 941.0 725.0C941.3 725.8 942.6 727.7 942.9 728.5C943.2 729.3 943.4 731.6 943.6 732.5C943.8 733.3 944.3 735.6 944.8 736.2C945.2 736.9 946.8 737.8 947.3 738.3C947.8 738.8 948.9 740.3 949.5 740.7C950.0 741.2 951.8 742.0 952.2 742.5C952.7 743.0 953.7 744.6 954.0 745.2C954.3 745.9 954.6 747.7 955.0 748.3C955.3 749.0 956.7 750.3 957.1 750.9C957.4 751.5 957.8 753.6 958.5 753.8C959.2 753.9 962.7 752.4 963.5 752.5C964.3 752.6 965.0 754.2 965.4 754.7C965.9 755.2 966.9 756.5 967.4 756.9C967.9 757.4 968.8 758.1 969.8 758.8C970.7 759.4 975.1 761.8 976.0 762.5C976.9 763.2 977.8 764.5 978.1 765.2C978.4 765.8 978.4 768.0 978.7 768.7C979.1 769.3 980.5 770.7 981.0 771.2C981.5 771.8 983.0 773.4 983.6 774.1C984.1 774.7 985.5 776.5 986.0 777.0C986.5 777.5 988.0 778.2 988.5 778.6C989.0 779.1 990.1 780.6 990.6 780.9C991.2 781.3 992.6 782.2 993.5 782.0C994.4 781.8 997.6 779.1 998.5 778.8C999.4 778.4 1000.8 779.2 1001.4 779.3C1002.0 779.4 1003.7 779.5 1004.3 779.6C1005.0 779.7 1006.7 779.6 1007.2 780.0C1007.8 780.4 1008.8 782.5 1009.2 783.3C1009.6 784.0 1010.5 785.9 1010.8 786.7C1011.0 787.5 1011.3 789.7 1011.6 790.5C1011.9 791.2 1013.0 793.2 1013.5 793.8C1014.0 794.3 1015.5 795.0 1016.0 795.4C1016.5 795.8 1017.8 796.9 1018.4 797.3C1018.9 797.6 1020.0 798.8 1021.0 798.8C1022.0 798.7 1026.3 796.9 1027.2 797.0C1028.2 797.1 1029.4 799.0 1030.0 799.5C1030.6 800.0 1032.3 801.2 1032.9 801.7C1033.6 802.2 1035.3 803.5 1036.0 803.8C1036.7 804.0 1038.6 803.6 1039.4 803.7C1040.1 803.9 1041.9 804.7 1042.6 804.8C1043.4 804.9 1045.4 804.7 1046.0 804.5C1046.6 804.3 1047.6 803.0 1048.0 802.5C1048.5 802.1 1049.4 800.7 1049.8 800.3C1050.3 799.9 1051.7 798.7 1052.2 798.8C1052.8 798.8 1054.3 800.5 1054.9 800.9C1055.5 801.3 1057.1 802.3 1057.8 802.6C1058.5 802.9 1060.4 803.4 1061.0 803.8C1061.6 804.1 1063.1 805.3 1063.5 805.9C1063.9 806.5 1064.3 808.5 1064.7 809.1C1065.1 809.7 1066.4 810.9 1067.2 811.2C1068.1 811.6 1070.9 812.2 1072.0 812.5C1073.1 812.8 1076.2 813.4 1077.0 813.8C1077.8 814.1 1078.4 815.6 1078.9 816.0C1079.4 816.5 1080.9 817.2 1081.4 817.7C1081.9 818.1 1082.6 819.8 1083.2 820.0C1083.9 820.2 1086.2 819.9 1087.0 819.9C1087.8 819.8 1090.1 819.7 1090.8 819.5C1091.4 819.3 1092.9 818.3 1093.3 817.8C1093.7 817.3 1094.1 815.3 1094.5 814.8C1094.9 814.3 1096.2 812.8 1097.0 813.0C1097.8 813.2 1101.0 817.1 1102.0 817.0C1103.0 816.9 1105.7 812.2 1106.5 812.0C1107.3 811.8 1108.4 814.6 1109.0 815.2C1109.6 815.9 1111.5 817.3 1112.1 817.9C1112.7 818.6 1114.0 821.3 1114.5 821.2C1115.0 821.2 1116.0 818.5 1116.6 817.8C1117.1 817.1 1118.8 815.1 1119.5 815.0C1120.2 814.9 1121.9 816.5 1122.6 816.9C1123.3 817.2 1125.1 818.0 1125.9 818.2C1126.7 818.4 1128.4 819.1 1129.5 818.8C1130.6 818.4 1134.8 815.1 1135.8 815.0C1136.7 814.9 1137.3 817.4 1137.7 818.1C1138.2 818.8 1139.3 820.6 1139.8 821.3C1140.3 821.9 1141.9 823.3 1142.4 823.9C1143.0 824.5 1143.7 826.8 1144.5 827.0C1145.3 827.2 1148.4 826.3 1149.5 825.5C1150.6 824.7 1153.7 820.4 1154.5 820.0C1155.3 819.6 1156.4 821.5 1156.9 822.0C1157.4 822.5 1158.5 823.8 1159.1 824.3C1159.6 824.8 1160.7 826.6 1161.5 826.2C1162.3 825.9 1165.8 821.5 1166.5 821.2C1167.2 821.0 1167.7 823.7 1168.1 824.3C1168.5 824.9 1169.8 826.4 1170.3 826.9C1170.7 827.5 1172.0 829.5 1172.5 829.5C1173.0 829.5 1173.9 827.8 1174.4 827.3C1174.8 826.8 1176.1 825.8 1176.5 825.3C1176.9 824.8 1177.8 823.0 1178.2 823.0C1178.7 823.0 1180.0 825.0 1180.4 825.7C1180.9 826.3 1181.6 828.2 1182.0 828.8C1182.5 829.4 1183.8 831.2 1184.5 831.2C1185.2 831.3 1187.4 829.9 1188.1 829.5C1188.9 829.0 1190.7 827.6 1191.4 827.1C1192.1 826.5 1193.8 824.6 1194.5 824.5C1195.2 824.4 1197.2 825.8 1198.0 826.3C1198.7 826.7 1200.5 827.9 1201.3 828.3C1202.0 828.8 1203.8 830.2 1204.5 830.5C1205.2 830.8 1207.1 831.1 1207.9 831.1C1208.6 831.0 1210.4 830.1 1211.2 830.0C1211.9 829.9 1213.7 830.1 1214.5 830.0C1215.3 829.9 1217.5 829.3 1218.3 829.0C1219.2 828.7 1221.2 827.8 1222.0 827.5C1222.8 827.2 1224.5 826.4 1225.2 826.2C1225.9 826.0 1227.8 825.7 1228.6 825.6C1229.3 825.5 1231.3 825.4 1232.0 825.5C1232.7 825.6 1234.5 826.4 1235.1 826.8C1235.7 827.2 1237.1 828.7 1237.7 829.1C1238.3 829.5 1240.2 830.6 1240.8 830.5C1241.3 830.4 1242.1 828.5 1242.5 828.0C1243.0 827.5 1244.6 826.6 1245.1 826.2C1245.6 825.7 1246.5 823.7 1247.0 823.8C1247.5 823.8 1249.2 825.6 1249.6 826.3C1250.0 827.0 1250.5 829.1 1250.9 829.8C1251.3 830.4 1252.6 832.2 1253.2 832.5C1253.9 832.8 1255.9 832.8 1256.7 832.8C1257.4 832.8 1259.4 832.2 1260.1 832.1C1260.9 832.1 1262.8 832.1 1263.6 832.1C1264.3 832.1 1266.4 832.8 1267.0 832.5C1267.6 832.2 1268.5 829.7 1269.0 829.0C1269.5 828.2 1271.1 826.5 1271.7 825.8C1272.2 825.1 1273.5 822.5 1274.0 822.5C1274.5 822.5 1275.9 825.0 1276.4 825.8C1276.9 826.5 1278.0 828.5 1278.3 829.3C1278.7 830.1 1279.5 832.8 1280.0 833.0C1280.5 833.2 1282.2 831.5 1282.8 831.1C1283.4 830.6 1284.9 829.5 1285.4 829.0C1286.0 828.5 1286.9 826.5 1287.5 826.2C1288.1 826.0 1289.9 826.8 1290.5 827.0C1291.1 827.3 1292.4 828.5 1293.0 828.8C1293.6 829.1 1295.0 830.0 1295.8 830.0C1296.5 830.0 1298.7 829.5 1299.6 829.2C1300.4 829.0 1302.8 827.8 1303.2 828.0C1303.7 828.2 1303.8 830.6 1304.1 831.3C1304.4 832.0 1305.6 833.4 1306.0 834.0C1306.4 834.7 1307.0 836.8 1307.5 837.0C1308.0 837.2 1309.6 836.0 1310.3 835.7C1310.9 835.5 1312.6 835.0 1313.2 834.7C1313.8 834.4 1315.0 832.7 1315.8 833.0C1316.5 833.3 1319.3 836.8 1320.0 837.0C1320.7 837.2 1321.7 835.1 1322.1 834.5C1322.5 834.0 1323.4 832.4 1323.8 831.8C1324.1 831.2 1325.0 829.6 1325.4 829.0C1325.8 828.4 1326.5 826.3 1327.0 826.2C1327.5 826.2 1329.3 828.2 1330.1 828.6C1330.9 828.9 1333.3 829.1 1334.0 829.5C1334.8 829.9 1336.4 832.0 1337.0 832.0C1337.6 832.0 1339.0 830.3 1339.4 829.8C1339.8 829.2 1340.4 827.3 1340.8 826.7C1341.3 826.2 1342.7 824.5 1343.2 824.5C1343.8 824.5 1345.1 825.9 1345.6 826.3C1346.2 826.8 1347.4 827.9 1347.9 828.4C1348.3 828.8 1349.1 830.7 1350.0 830.5C1350.9 830.3 1354.8 826.4 1355.8 826.2C1356.7 826.1 1357.7 828.2 1358.2 828.8C1358.8 829.3 1360.1 830.8 1360.7 831.3C1361.2 831.9 1362.6 833.3 1363.2 833.8C1363.7 834.4 1365.1 836.2 1365.8 836.2C1366.4 836.3 1368.0 834.7 1368.6 834.4C1369.3 834.0 1371.0 833.1 1371.6 832.8C1372.3 832.5 1374.2 831.8 1374.9 831.5C1375.6 831.2 1377.4 830.6 1378.1 830.2C1378.7 829.8 1380.1 828.3 1380.8 828.0C1381.4 827.7 1383.0 827.8 1383.7 827.7C1384.3 827.5 1385.9 826.9 1386.5 826.9C1387.2 826.9 1388.8 827.2 1389.5 827.5C1390.2 827.8 1392.2 829.4 1393.0 829.8C1393.8 830.3 1396.0 831.5 1397.0 831.2C1398.0 831.0 1401.3 827.6 1402.0 827.5C1402.7 827.4 1403.3 829.5 1403.7 830.0C1404.1 830.5 1405.3 831.6 1405.8 832.0C1406.3 832.4 1407.7 833.7 1408.2 833.8C1408.8 833.8 1410.6 833.1 1411.2 832.9C1411.9 832.6 1413.4 831.7 1414.0 831.5C1414.7 831.2 1416.0 830.4 1417.0 830.5C1418.0 830.6 1422.4 832.7 1423.2 832.5C1424.1 832.3 1424.1 829.7 1424.6 829.0C1425.0 828.4 1427.1 827.2 1427.5 826.6C1428.0 825.9 1428.4 823.8 1428.8 823.1C1429.1 822.4 1430.2 820.1 1430.8 820.0C1431.3 819.9 1433.0 821.7 1433.4 822.3C1433.9 822.9 1434.7 824.8 1435.1 825.5C1435.6 826.1 1436.9 827.9 1437.5 828.0C1438.1 828.1 1439.8 826.7 1440.5 826.5C1441.2 826.3 1443.1 826.3 1443.8 826.2C1444.5 826.1 1446.2 825.4 1447.0 825.5C1447.8 825.6 1449.9 826.4 1450.7 826.6C1451.5 826.9 1453.8 827.7 1454.5 827.5C1455.2 827.3 1456.6 825.8 1457.0 825.2C1457.5 824.6 1458.3 822.8 1458.7 822.1C1459.1 821.5 1460.2 819.9 1460.7 819.3C1461.2 818.8 1462.7 817.0 1463.2 817.0C1463.8 817.0 1465.5 818.8 1466.1 819.5C1466.7 820.1 1467.7 822.0 1468.3 822.6C1468.9 823.1 1471.1 823.9 1471.7 824.4C1472.4 825.0 1473.5 827.4 1474.0 827.5C1474.5 827.6 1475.7 825.4 1476.3 824.9C1476.8 824.4 1478.4 823.3 1479.1 822.9C1479.8 822.6 1481.7 821.9 1482.3 821.5C1482.9 821.0 1483.9 819.1 1484.5 818.8C1485.1 818.4 1487.1 818.1 1487.9 817.8C1488.6 817.6 1490.4 817.0 1491.0 816.5C1491.7 816.1 1492.9 814.2 1493.6 813.8C1494.2 813.4 1496.2 813.0 1497.0 813.0C1497.8 813.0 1499.9 814.0 1500.7 814.3C1501.6 814.5 1503.7 815.4 1504.5 815.5C1505.3 815.6 1507.5 815.3 1508.3 815.5C1509.1 815.6 1511.2 816.5 1512.0 816.6C1512.8 816.8 1515.1 817.2 1515.8 817.0C1516.4 816.8 1517.7 815.1 1518.2 814.5C1518.6 813.9 1519.5 812.1 1519.9 811.5C1520.3 810.8 1521.6 808.6 1522.0 808.8C1522.4 808.9 1523.2 811.8 1523.6 812.6C1524.0 813.5 1525.1 815.6 1525.5 816.4C1525.9 817.2 1527.2 819.2 1527.6 820.0C1528.1 820.8 1528.9 823.9 1529.5 823.8C1530.1 823.6 1532.3 819.5 1533.0 818.8C1533.7 818.0 1534.8 817.0 1535.5 817.0C1536.2 817.0 1538.5 818.0 1539.3 818.3C1540.1 818.7 1542.3 820.2 1543.0 820.0C1543.7 819.8 1545.2 817.6 1545.9 817.0C1546.6 816.4 1548.6 814.5 1549.2 814.5C1549.9 814.5 1551.5 816.4 1552.2 816.9C1552.9 817.4 1554.8 818.7 1555.5 818.8C1556.2 818.8 1558.2 817.5 1558.9 817.1C1559.5 816.6 1561.2 815.4 1561.8 814.8C1562.4 814.2 1563.8 811.9 1564.2 812.0C1564.7 812.1 1565.7 814.7 1566.3 815.4C1566.8 816.1 1568.2 817.9 1569.2 818.0C1570.3 818.1 1574.6 816.1 1575.5 816.2C1576.4 816.4 1576.7 818.8 1577.2 819.5C1577.6 820.1 1579.0 821.6 1579.5 822.2C1580.0 822.8 1581.3 825.0 1581.8 825.0C1582.2 825.0 1583.5 823.0 1583.9 822.4C1584.4 821.8 1585.2 819.9 1585.7 819.4C1586.2 818.8 1588.1 817.9 1588.7 817.4C1589.2 816.9 1590.0 814.5 1590.5 814.5C1591.0 814.5 1592.8 816.5 1593.4 817.2C1593.9 817.9 1595.0 820.4 1595.5 820.5C1596.0 820.6 1597.4 818.8 1597.8 818.2C1598.2 817.7 1599.2 816.2 1599.4 815.5C1599.7 814.9 1600.1 813.1 1600.5 812.4C1600.8 811.8 1602.0 810.0 1602.5 810.0C1603.0 810.0 1604.2 812.1 1604.8 812.6C1605.4 813.1 1607.0 814.1 1607.6 814.5C1608.2 814.9 1609.8 816.3 1610.5 816.2C1611.2 816.2 1613.1 814.5 1613.7 813.8C1614.3 813.2 1615.3 811.0 1615.9 810.3C1616.5 809.7 1618.7 807.9 1619.2 808.0C1619.8 808.1 1620.8 810.3 1621.2 811.0C1621.6 811.7 1622.7 813.3 1623.0 814.1C1623.3 814.8 1623.3 817.1 1623.6 817.8C1624.0 818.5 1625.8 819.8 1626.2 820.4C1626.6 821.1 1627.0 823.6 1627.5 823.8C1628.0 823.9 1630.2 821.9 1631.0 821.4C1631.7 821.0 1633.9 820.1 1634.7 819.6C1635.5 819.1 1637.3 817.6 1638.0 817.0C1638.7 816.4 1640.1 814.5 1640.8 813.9C1641.5 813.2 1643.3 811.8 1644.0 811.1C1644.6 810.5 1646.2 808.1 1646.8 808.0C1647.3 807.9 1648.6 810.1 1649.1 810.6C1649.7 811.2 1651.3 812.3 1651.9 812.9C1652.4 813.4 1653.7 815.1 1654.2 815.5C1654.8 815.9 1656.4 816.7 1657.0 816.9C1657.6 817.2 1659.4 817.3 1660.0 817.4C1660.7 817.5 1662.2 818.1 1663.0 818.0C1663.8 817.9 1666.0 817.2 1666.9 816.9C1667.7 816.6 1669.8 815.8 1670.6 815.5C1671.4 815.1 1673.6 813.7 1674.2 813.8C1674.9 813.8 1676.0 815.9 1676.6 816.4C1677.2 816.9 1679.0 817.9 1679.6 818.4C1680.2 818.9 1681.3 821.2 1681.8 821.2C1682.2 821.3 1683.5 819.6 1683.9 819.1C1684.4 818.6 1685.3 817.2 1685.6 816.6C1685.9 816.0 1686.3 813.8 1686.8 813.8C1687.2 813.7 1689.2 815.8 1689.7 816.5C1690.3 817.2 1691.3 819.9 1691.8 820.0C1692.2 820.1 1693.2 818.0 1693.7 817.4C1694.1 816.8 1695.1 815.3 1695.5 814.7C1695.9 814.1 1697.0 812.7 1697.5 812.1C1698.0 811.6 1699.6 809.9 1700.0 810.0C1700.4 810.1 1701.1 812.7 1701.4 813.4C1701.8 814.1 1702.8 815.9 1703.2 816.6C1703.6 817.3 1704.8 819.0 1705.1 819.8C1705.5 820.5 1705.9 822.5 1706.2 823.3C1706.4 824.1 1707.1 826.1 1707.4 826.8C1707.8 827.5 1708.9 830.1 1709.2 830.0C1709.6 829.9 1710.2 827.0 1710.6 826.3C1711.1 825.6 1712.7 823.9 1713.2 823.2C1713.7 822.5 1714.7 820.6 1715.1 819.8C1715.5 819.0 1715.9 816.9 1716.8 816.2C1717.6 815.6 1722.1 813.7 1723.0 813.8C1723.9 813.8 1724.7 815.9 1725.2 816.4C1725.7 817.0 1726.9 818.4 1727.5 818.9C1728.0 819.4 1729.5 820.7 1730.1 821.1C1730.7 821.6 1731.9 822.8 1733.0 823.0C1734.1 823.2 1739.5 823.3 1740.5 823.0C1741.5 822.7 1742.0 821.0 1742.4 820.4C1742.7 819.8 1743.6 818.2 1744.0 817.6C1744.4 817.1 1745.8 815.9 1746.3 815.3C1746.8 814.8 1748.0 812.9 1748.5 813.0C1749.0 813.1 1750.6 815.1 1751.0 815.9C1751.4 816.6 1751.8 818.8 1752.2 819.5C1752.6 820.2 1754.4 821.6 1754.9 822.3C1755.4 822.9 1756.3 825.4 1756.8 825.5C1757.2 825.6 1758.7 823.6 1759.3 823.1C1759.9 822.5 1761.4 821.3 1762.0 820.7C1762.5 820.2 1763.7 818.3 1764.2 818.0C1764.8 817.7 1766.5 818.3 1767.2 818.4C1767.8 818.6 1769.3 819.6 1770.0 819.7C1770.6 819.9 1772.4 819.3 1773.0 819.5C1773.6 819.7 1775.2 820.8 1775.8 821.1C1776.4 821.5 1778.1 822.2 1778.8 822.5C1779.4 822.8 1781.2 823.2 1781.8 823.8C1782.3 824.3 1783.6 826.3 1784.1 827.1C1784.6 827.9 1785.6 829.9 1785.9 830.7C1786.3 831.5 1787.0 834.4 1787.5 834.5C1788.0 834.6 1789.8 832.4 1790.4 831.7C1791.0 831.0 1792.2 829.1 1792.8 828.4C1793.3 827.8 1794.8 826.0 1795.5 825.5C1796.2 825.0 1798.5 824.2 1799.3 823.9C1800.1 823.5 1802.3 822.1 1803.0 822.0C1803.7 821.9 1805.1 823.2 1805.8 823.4C1806.4 823.6 1808.1 823.8 1808.8 823.9C1809.4 824.0 1810.7 824.4 1811.8 824.5C1812.8 824.6 1817.3 824.5 1818.0 824.5"/>
<path class="c" stroke="#8000ff" d="M153.0 691.2C153.4 691.2 155.7 690.8 156.2 691.2C156.8 691.7 157.4 694.1 157.7 694.9C158.0 695.8 158.5 697.9 158.8 698.7C159.0 699.6 159.2 702.1 160.0 702.5C160.8 702.9 165.4 701.8 166.2 702.0C167.1 702.2 167.7 704.1 168.0 704.7C168.4 705.4 169.3 707.0 169.7 707.6C170.1 708.2 171.1 709.7 171.4 710.4C171.8 711.0 172.5 713.2 173.0 713.2C173.5 713.3 175.4 711.2 176.0 710.5C176.7 709.9 178.1 707.8 178.8 707.5C179.4 707.2 181.2 708.0 181.8 708.2C182.4 708.5 183.9 709.6 184.5 709.9C185.1 710.1 186.8 710.6 187.5 710.8C188.2 710.9 190.4 711.4 191.1 711.7C191.9 712.0 193.6 713.2 194.3 713.6C195.0 714.1 196.8 715.1 197.5 715.5C198.2 715.9 200.1 716.8 200.8 717.2C201.5 717.6 203.4 718.4 204.1 718.9C204.8 719.3 206.3 721.2 207.0 721.2C207.7 721.3 209.6 719.6 210.2 719.0C210.9 718.5 212.4 716.3 213.0 716.2C213.6 716.2 215.1 718.0 215.6 718.6C216.1 719.1 217.0 720.9 217.4 721.5C217.9 722.2 219.1 723.7 219.6 724.2C220.2 724.7 221.7 726.0 222.5 726.2C223.3 726.5 225.8 726.0 226.7 726.1C227.6 726.3 229.9 727.2 230.8 727.3C231.7 727.4 234.1 726.7 235.0 727.0C235.9 727.3 238.0 729.6 238.8 730.0C239.5 730.4 241.3 730.8 242.0 730.9C242.8 731.0 244.6 731.0 245.4 731.1C246.1 731.1 248.0 731.4 248.8 731.2C249.5 731.1 251.5 729.6 252.3 729.3C253.1 729.1 255.4 728.6 256.2 728.8C257.1 728.9 259.2 730.2 260.0 730.6C260.9 731.0 263.1 732.0 263.8 732.5C264.4 733.0 265.5 734.7 266.1 735.3C266.7 735.8 268.4 737.0 269.0 737.5C269.6 738.1 271.0 739.5 271.5 740.1C272.1 740.7 273.3 743.0 273.8 743.0C274.2 743.0 274.9 740.6 275.2 739.9C275.5 739.3 276.4 737.6 276.8 736.9C277.3 736.3 278.8 735.0 279.2 734.4C279.6 733.8 280.1 731.3 280.5 731.2C280.9 731.2 282.3 733.3 282.7 733.9C283.2 734.5 284.3 736.2 284.7 736.8C285.1 737.5 286.1 739.2 286.5 739.8C287.0 740.4 288.2 742.4 288.8 742.5C289.3 742.6 290.9 741.4 291.3 740.9C291.7 740.4 292.3 738.6 292.7 738.1C293.1 737.6 294.4 736.4 295.0 736.2C295.6 736.1 297.5 736.7 298.1 737.1C298.7 737.5 299.7 739.3 300.3 739.8C300.9 740.2 302.6 740.8 303.2 741.0C303.9 741.3 305.6 741.8 306.2 742.0C306.9 742.2 308.8 742.6 309.6 742.6C310.3 742.6 312.2 742.4 312.9 742.4C313.7 742.4 315.6 742.8 316.2 742.5C316.9 742.2 318.2 740.3 318.7 739.7C319.3 739.1 320.8 737.6 321.4 737.1C322.0 736.6 323.9 735.0 324.5 735.0C325.1 735.0 326.5 736.6 327.0 737.1C327.5 737.6 328.6 739.1 329.0 739.6C329.5 740.2 330.6 741.9 331.2 742.0C331.9 742.1 334.0 740.7 334.9 740.5C335.7 740.4 338.0 740.7 338.8 740.6C339.7 740.5 341.8 739.9 342.5 739.5C343.2 739.1 344.8 737.4 345.3 736.7C345.8 736.0 346.4 733.7 346.9 733.0C347.5 732.3 349.4 730.4 350.0 730.5C350.6 730.6 351.8 732.9 352.4 733.5C353.0 734.1 354.9 735.6 355.5 735.8C356.1 735.9 357.6 735.2 358.2 735.1C358.9 735.0 360.5 735.2 361.1 735.0C361.8 734.9 363.2 734.1 363.8 733.8C364.3 733.4 365.6 732.1 366.2 731.6C366.8 731.2 368.5 730.4 369.0 729.9C369.6 729.5 370.6 727.4 371.2 727.5C371.9 727.6 374.4 731.2 375.0 731.2C375.6 731.3 376.6 728.6 377.0 727.9C377.5 727.2 378.8 725.4 379.3 724.7C379.8 723.9 380.7 721.4 381.2 721.2C381.8 721.1 383.5 723.2 384.1 723.7C384.8 724.3 386.5 726.3 387.0 726.2C387.5 726.2 387.9 723.6 388.2 723.0C388.6 722.3 389.7 720.7 390.2 720.1C390.7 719.5 391.6 717.4 392.5 717.5C393.4 717.6 397.8 720.6 398.8 720.8C399.7 720.9 400.5 719.1 401.0 718.7C401.6 718.4 403.1 717.6 403.7 717.3C404.2 717.0 405.7 716.2 406.2 715.8C406.8 715.3 407.8 713.8 408.3 713.2C408.8 712.7 410.2 711.5 410.7 711.0C411.2 710.5 412.5 709.3 413.0 708.8C413.5 708.3 414.5 706.3 415.0 706.2C415.5 706.2 417.0 708.0 417.6 708.5C418.2 708.9 419.6 710.2 420.2 710.7C420.7 711.2 422.0 712.7 422.5 713.2C423.0 713.7 424.4 715.6 425.0 715.5C425.6 715.4 427.2 713.2 427.7 712.5C428.2 711.8 429.1 709.8 429.5 709.1C429.9 708.3 430.5 705.8 431.2 705.5C432.0 705.2 435.5 706.4 436.2 706.2C437.0 706.1 437.9 704.3 438.3 703.8C438.8 703.2 440.0 701.9 440.4 701.3C440.7 700.7 441.2 698.7 441.5 698.1C441.9 697.5 443.2 695.7 443.8 695.8C444.3 695.8 445.9 698.0 446.4 698.7C447.0 699.3 448.2 701.2 448.6 701.9C449.1 702.6 450.4 704.4 450.8 705.2C451.2 705.9 452.0 708.3 452.5 708.8C453.0 709.2 455.1 709.2 455.8 709.6C456.4 709.9 457.6 711.5 458.2 711.9C458.9 712.3 460.2 713.2 461.2 713.2C462.3 713.3 466.1 712.4 467.5 712.0C468.9 711.6 472.8 709.8 473.8 710.0C474.7 710.2 475.1 713.0 475.7 713.7C476.3 714.4 478.6 715.6 479.2 716.3C479.8 717.0 480.5 719.3 481.0 720.1C481.5 720.9 483.1 723.1 483.8 723.2C484.4 723.4 486.6 721.7 487.3 721.1C488.0 720.6 489.4 718.0 490.0 718.0C490.6 718.0 492.2 720.3 492.9 720.8C493.6 721.3 495.9 722.1 496.6 722.6C497.3 723.1 498.6 725.1 499.2 725.7C499.9 726.3 501.6 728.2 502.5 728.0C503.4 727.8 506.1 724.0 507.0 723.8C507.9 723.5 509.6 725.3 510.3 725.7C511.0 726.2 512.8 727.3 513.5 727.9C514.1 728.4 515.5 730.7 516.2 730.5C517.0 730.3 519.0 726.7 520.0 726.2C521.0 725.8 524.1 726.0 525.0 726.2C525.9 726.5 527.5 728.0 528.0 728.6C528.6 729.2 529.5 731.2 530.0 731.9C530.4 732.6 531.5 734.5 532.0 735.1C532.6 735.7 534.4 737.5 535.0 737.5C535.6 737.5 537.0 735.4 537.6 734.9C538.2 734.4 539.8 733.3 540.5 732.9C541.2 732.5 543.0 731.2 543.8 731.2C544.5 731.3 546.2 732.8 547.0 733.2C547.7 733.6 549.7 734.3 550.4 734.8C551.1 735.3 552.5 736.9 553.2 737.4C553.8 737.9 555.5 739.5 556.2 739.5C557.0 739.5 558.9 738.0 559.6 737.5C560.3 737.0 561.7 734.9 562.5 735.0C563.3 735.1 566.2 738.5 567.0 738.8C567.8 739.0 569.1 737.5 569.6 737.0C570.2 736.6 571.4 735.2 572.0 734.8C572.6 734.5 574.1 733.4 575.0 733.8C575.9 734.1 579.7 737.8 580.5 738.0C581.3 738.2 581.8 736.1 582.2 735.6C582.7 735.2 584.0 734.3 584.5 734.0C585.1 733.6 586.4 732.3 587.0 732.5C587.6 732.7 589.2 734.8 589.8 735.4C590.5 736.0 592.4 737.9 593.0 738.0C593.6 738.1 595.0 736.7 595.4 736.2C595.8 735.7 596.5 734.0 596.8 733.5C597.2 733.0 598.3 731.2 598.8 731.2C599.2 731.3 600.5 733.4 600.9 734.1C601.3 734.7 602.1 736.5 602.5 737.2C602.8 737.9 603.4 740.4 603.8 740.5C604.1 740.6 605.6 738.9 606.1 738.4C606.6 737.9 607.7 736.4 608.2 736.0C608.7 735.5 610.4 734.8 611.0 734.4C611.6 733.9 612.9 732.5 613.5 732.0C614.1 731.6 615.9 730.9 616.6 730.6C617.3 730.3 619.1 729.7 619.7 729.3C620.3 728.9 621.7 727.1 622.2 727.0C622.8 726.9 624.5 728.1 625.0 728.5C625.5 729.0 626.4 730.7 626.9 731.1C627.4 731.6 629.2 732.6 629.8 732.5C630.3 732.4 631.7 730.5 632.1 729.8C632.5 729.1 633.1 727.2 633.4 726.4C633.7 725.7 634.6 724.0 635.0 723.3C635.4 722.6 636.4 720.9 636.8 720.2C637.3 719.6 638.9 718.3 639.3 717.6C639.8 717.0 640.6 714.6 641.0 714.5C641.4 714.4 642.7 716.6 643.2 717.1C643.7 717.7 645.1 718.9 645.6 719.4C646.2 719.9 647.5 721.2 648.5 721.2C649.5 721.3 653.5 719.8 654.8 720.0C656.0 720.2 659.0 723.2 659.8 723.2C660.5 723.3 660.9 720.9 661.3 720.3C661.7 719.7 663.0 718.4 663.4 717.8C663.8 717.2 664.4 715.4 664.8 714.8C665.2 714.2 666.4 713.0 667.2 712.5C668.1 712.0 671.6 710.6 672.2 710.0C672.9 709.4 672.7 707.7 672.8 707.0C673.0 706.4 673.4 704.7 673.6 704.1C673.8 703.4 674.3 701.3 674.8 701.2C675.2 701.2 676.8 702.9 677.3 703.4C677.8 703.9 679.0 705.3 679.4 705.8C679.8 706.4 680.5 708.4 681.0 708.8C681.5 709.1 683.4 709.1 684.1 708.9C684.7 708.7 686.2 707.5 686.8 707.3C687.4 707.1 689.2 707.4 689.8 707.0C690.3 706.6 691.2 704.7 691.6 704.0C692.0 703.3 693.1 701.7 693.5 701.0C694.0 700.4 694.9 698.6 695.3 698.0C695.7 697.3 696.9 695.7 697.2 695.0C697.6 694.3 698.6 692.7 698.9 692.1C699.3 691.4 700.0 689.7 700.4 689.0C700.7 688.3 701.6 686.7 701.9 686.0C702.3 685.3 702.9 683.6 703.5 683.0C704.1 682.4 706.2 681.2 707.0 680.9C707.8 680.6 709.9 680.4 711.0 680.0C712.1 679.6 716.4 678.2 717.2 677.5C718.1 676.8 718.6 674.8 718.9 674.0C719.3 673.2 720.1 671.2 720.5 670.4C720.8 669.6 721.8 667.6 722.1 666.8C722.3 666.0 722.7 663.8 723.0 663.0C723.3 662.2 723.9 660.2 724.8 659.5C725.6 658.8 730.1 657.7 731.0 657.0C731.9 656.3 732.3 654.0 732.7 653.2C733.1 652.4 734.5 650.4 734.9 649.6C735.3 648.8 736.3 646.6 736.6 645.7C736.8 644.9 737.0 642.4 737.4 641.5C737.7 640.7 738.8 638.5 739.8 638.0C740.7 637.5 745.2 637.5 746.0 637.0C746.8 636.5 747.0 634.2 747.3 633.4C747.6 632.6 748.3 630.5 748.7 629.8C749.1 629.1 750.6 627.4 751.0 626.6C751.4 625.9 751.7 623.7 752.2 623.0C752.8 622.3 755.5 620.7 756.0 620.0C756.5 619.3 756.7 617.2 756.9 616.4C757.1 615.6 757.7 613.7 757.9 612.9C758.1 612.1 758.5 610.0 758.7 609.3C759.0 608.5 759.8 606.6 760.1 605.8C760.4 605.1 761.3 603.2 761.5 602.4C761.8 601.6 761.6 599.6 762.2 598.8C762.9 597.9 766.5 595.3 767.2 594.5C768.0 593.7 768.7 592.3 769.0 591.6C769.3 590.9 769.7 589.0 770.0 588.3C770.3 587.6 771.4 586.1 771.8 585.4C772.2 584.8 773.2 583.2 773.5 582.5C773.8 581.8 774.7 579.7 774.9 578.8C775.1 578.0 775.0 575.6 775.4 574.8C775.7 574.0 777.5 572.2 777.8 571.4C778.2 570.6 778.4 568.3 778.5 567.5C778.6 566.7 778.8 564.5 779.1 563.8C779.4 563.0 780.9 561.3 781.2 560.6C781.5 559.8 781.4 557.6 781.8 556.8C782.1 556.1 783.8 554.5 784.1 553.7C784.5 553.0 784.4 550.7 784.8 550.0C785.1 549.3 786.9 547.7 787.5 547.1C788.0 546.4 788.9 544.5 789.8 543.8C790.6 543.0 794.1 540.9 794.8 540.0C795.4 539.1 795.1 536.8 795.3 535.9C795.6 535.0 796.4 532.9 796.8 532.0C797.1 531.1 798.0 529.0 798.3 528.1C798.5 527.3 799.1 525.0 799.3 524.1C799.4 523.2 799.6 520.9 799.8 520.0C799.9 519.1 800.4 516.9 800.5 516.0C800.6 515.2 800.8 512.9 801.0 512.0C801.1 511.1 801.5 508.9 801.6 508.0C801.8 507.2 802.3 505.0 802.4 504.1C802.4 503.2 802.0 500.8 802.2 500.0C802.5 499.2 804.0 497.3 804.5 496.6C805.0 495.8 806.2 493.9 806.8 493.2C807.3 492.5 808.7 490.7 809.2 489.9C809.7 489.2 810.6 486.4 811.0 486.2C811.4 486.1 812.5 488.2 813.0 488.8C813.5 489.3 814.9 490.4 815.3 491.0C815.8 491.5 816.5 493.2 816.9 493.8C817.3 494.4 818.7 496.4 819.0 496.2C819.3 496.1 819.4 493.0 819.6 492.1C819.8 491.2 820.7 489.0 821.0 488.1C821.2 487.2 821.6 484.9 821.8 484.0C822.0 483.1 822.8 480.9 822.9 479.9C823.0 479.0 822.5 476.5 822.5 475.6C822.6 474.7 823.0 472.4 823.2 471.5C823.5 470.6 824.4 468.3 824.8 467.5C825.1 466.7 826.2 464.8 826.5 463.9C826.8 463.1 827.1 460.9 827.4 460.1C827.6 459.3 828.6 457.3 828.9 456.5C829.2 455.6 829.6 453.5 829.8 452.6C830.0 451.8 830.4 448.7 830.5 448.8C830.6 448.8 830.5 452.1 830.8 453.0C831.0 453.8 832.5 455.9 832.9 456.8C833.2 457.6 833.6 459.9 833.8 460.8C833.9 461.7 834.1 464.2 834.2 465.0C834.4 465.8 835.2 467.6 835.5 468.4C835.8 469.1 836.4 471.1 836.7 471.8C837.1 472.5 838.1 475.0 838.5 475.0C838.9 475.0 839.6 472.5 840.1 472.0C840.6 471.4 842.7 470.6 843.2 470.1C843.7 469.5 844.3 467.0 844.8 467.0C845.2 467.0 846.7 469.5 847.2 470.3C847.7 471.0 848.9 473.0 849.3 473.8C849.7 474.6 850.7 476.7 851.0 477.5C851.3 478.3 852.0 480.4 852.3 481.2C852.7 482.0 853.6 484.0 854.0 484.8C854.3 485.7 855.0 487.7 855.3 488.6C855.6 489.4 856.3 491.5 856.6 492.3C856.9 493.1 857.7 495.2 857.9 496.0C858.1 496.9 857.7 499.3 858.5 500.0C859.3 500.7 863.8 501.9 864.8 502.5C865.7 503.1 866.8 504.7 867.2 505.5C867.6 506.2 868.2 508.4 868.5 509.1C868.9 509.9 870.0 511.7 870.4 512.5C870.8 513.2 871.9 515.0 872.4 515.7C872.9 516.4 874.2 518.7 874.8 518.8C875.3 518.8 876.6 516.4 877.2 515.8C877.7 515.1 879.5 513.8 880.0 513.2C880.6 512.5 881.8 510.0 882.2 510.0C882.7 510.0 883.8 512.7 884.0 513.6C884.3 514.4 884.0 516.8 884.2 517.7C884.5 518.5 885.7 520.4 886.1 521.2C886.5 522.0 887.5 524.0 887.8 524.8C888.0 525.7 887.9 528.0 888.5 528.8C889.1 529.5 892.7 530.7 893.5 531.2C894.3 531.8 895.0 533.5 895.4 534.2C895.8 534.8 897.1 536.3 897.4 537.0C897.7 537.7 898.1 539.8 898.4 540.4C898.8 541.1 900.2 542.5 900.7 543.2C901.1 543.8 901.8 545.6 902.2 546.2C902.7 546.9 904.3 548.6 904.8 549.3C905.2 550.1 906.0 552.1 906.4 552.9C906.8 553.7 908.1 555.5 908.4 556.3C908.8 557.0 909.3 559.3 909.8 560.0C910.2 560.7 911.8 562.3 912.5 562.8C913.2 563.3 915.5 563.9 916.0 564.5C916.5 565.1 917.0 567.3 917.2 568.1C917.4 568.9 917.5 571.1 917.7 571.9C917.9 572.7 918.8 574.7 919.1 575.5C919.4 576.3 920.2 578.2 920.4 579.0C920.6 579.8 920.8 582.0 921.0 582.8C921.2 583.6 922.1 585.6 922.4 586.4C922.6 587.2 923.1 589.3 923.5 590.0C923.9 590.7 925.4 592.1 925.7 592.8C925.9 593.5 925.7 595.9 926.0 596.6C926.3 597.3 928.0 598.6 928.4 599.3C928.8 599.9 928.9 602.1 929.8 602.5C930.6 602.9 935.3 602.0 936.0 602.5C936.7 603.0 936.4 605.7 936.6 606.6C936.7 607.5 937.6 609.7 937.7 610.6C937.8 611.5 937.5 613.9 937.7 614.8C937.9 615.7 939.3 617.8 939.6 618.7C939.9 619.5 940.4 621.8 940.6 622.7C940.8 623.6 941.2 625.8 941.4 626.7C941.5 627.6 941.5 630.0 941.6 630.9C941.7 631.8 941.8 634.6 942.2 635.0C942.7 635.4 944.7 634.5 945.4 634.2C946.0 633.9 947.4 632.8 948.1 632.4C948.7 632.1 950.6 631.0 951.0 631.2C951.4 631.5 951.3 634.3 951.6 635.0C952.0 635.8 953.7 637.4 954.0 638.2C954.3 639.0 953.8 641.4 954.1 642.2C954.4 643.0 956.2 644.6 956.5 645.4C956.8 646.2 956.4 648.5 956.7 649.3C957.0 650.1 958.6 651.8 958.9 652.5C959.3 653.3 959.0 656.3 959.8 656.2C960.5 656.2 965.0 652.6 966.0 652.5C967.0 652.4 967.9 655.0 968.4 655.7C968.9 656.5 970.3 658.3 970.9 658.9C971.4 659.6 973.1 661.3 973.5 662.0C973.9 662.7 974.0 664.7 974.4 665.4C974.7 666.1 976.3 667.5 976.6 668.1C977.0 668.8 977.2 670.9 977.5 671.5C977.9 672.2 979.7 673.4 980.1 674.1C980.5 674.8 980.4 676.6 981.0 677.5C981.6 678.4 985.1 682.3 986.0 682.5C986.9 682.7 988.4 680.4 989.0 679.7C989.5 679.1 990.6 676.2 991.0 676.2C991.4 676.3 992.3 679.0 992.7 679.8C993.1 680.5 994.1 682.5 994.5 683.3C994.8 684.1 995.2 686.3 995.6 687.1C996.0 687.8 997.8 689.4 998.2 690.1C998.7 690.9 999.2 693.4 999.8 693.8C1000.3 694.1 1002.4 693.7 1003.1 693.7C1003.8 693.6 1005.7 693.5 1006.4 693.4C1007.2 693.3 1009.1 692.8 1009.8 693.0C1010.4 693.2 1011.5 694.5 1012.0 695.0C1012.5 695.4 1013.9 696.5 1014.3 697.0C1014.7 697.5 1015.3 699.5 1016.0 699.5C1016.7 699.5 1020.2 697.0 1021.0 697.0C1021.8 697.0 1022.7 698.7 1023.2 699.2C1023.6 699.6 1025.0 700.8 1025.4 701.3C1025.9 701.8 1026.4 703.8 1027.2 703.8C1028.1 703.7 1032.5 700.6 1033.5 700.5C1034.5 700.4 1035.8 702.1 1036.5 702.5C1037.2 702.9 1039.1 703.8 1039.8 704.1C1040.6 704.5 1042.5 705.2 1043.2 705.6C1043.9 706.0 1045.0 708.1 1046.0 708.0C1047.0 707.9 1051.4 705.0 1052.2 705.0C1053.1 705.0 1053.7 707.6 1054.1 708.3C1054.5 709.1 1055.4 711.0 1055.9 711.7C1056.4 712.4 1057.5 714.5 1058.5 714.5C1059.5 714.5 1063.9 711.3 1064.8 711.2C1065.6 711.2 1066.0 713.7 1066.4 714.3C1066.8 714.9 1068.2 716.4 1068.6 717.0C1069.1 717.7 1070.1 719.3 1070.4 720.0C1070.8 720.7 1071.4 722.8 1072.0 723.1C1072.6 723.4 1075.1 723.1 1075.9 722.9C1076.7 722.6 1078.7 721.6 1079.5 721.2C1080.3 720.9 1082.4 720.2 1083.2 719.9C1084.0 719.6 1086.0 718.5 1087.0 718.8C1088.0 719.0 1090.8 721.7 1092.0 722.0C1093.2 722.3 1097.0 721.6 1098.2 721.2C1099.5 720.9 1102.5 718.8 1103.2 718.8C1104.0 718.7 1104.6 720.7 1105.1 721.1C1105.6 721.5 1107.4 722.0 1107.9 722.5C1108.4 722.9 1109.1 725.0 1109.5 725.0C1109.9 725.0 1111.0 722.8 1111.4 722.1C1111.8 721.5 1112.8 719.8 1113.0 719.1C1113.3 718.3 1113.4 716.3 1113.7 715.5C1113.9 714.8 1114.9 713.1 1115.2 712.5C1115.6 711.8 1116.6 709.5 1117.0 709.5C1117.4 709.5 1118.5 711.8 1118.9 712.5C1119.3 713.1 1120.1 715.0 1120.6 715.6C1121.1 716.2 1122.5 717.7 1123.2 718.0C1124.0 718.3 1126.2 718.2 1127.0 718.2C1127.9 718.1 1130.1 717.4 1130.8 717.5C1131.4 717.6 1132.8 718.9 1133.2 719.4C1133.7 719.9 1134.7 721.2 1135.0 721.8C1135.4 722.4 1136.1 724.3 1136.5 724.5C1136.9 724.7 1138.6 723.7 1139.1 723.3C1139.6 722.9 1140.5 721.5 1140.9 721.0C1141.4 720.6 1142.9 719.3 1143.2 719.5C1143.6 719.7 1143.9 722.1 1144.2 722.8C1144.6 723.4 1146.1 724.7 1146.4 725.3C1146.8 726.0 1147.2 727.9 1147.5 728.5C1147.8 729.2 1149.1 731.3 1149.5 731.2C1149.9 731.2 1150.8 728.5 1151.3 727.9C1151.9 727.2 1153.9 726.1 1154.4 725.4C1155.0 724.7 1155.6 722.6 1156.0 721.9C1156.4 721.1 1157.7 718.9 1158.2 718.8C1158.8 718.6 1160.7 720.0 1161.3 720.5C1161.8 721.0 1163.0 722.5 1163.6 723.0C1164.1 723.6 1165.7 724.7 1166.2 725.2C1166.7 725.8 1167.7 727.9 1168.2 728.0C1168.8 728.1 1170.4 726.7 1171.1 726.5C1171.8 726.2 1173.7 726.1 1174.4 725.8C1175.0 725.5 1176.5 723.7 1177.0 723.8C1177.5 723.8 1178.8 726.0 1179.4 726.6C1179.9 727.2 1181.5 728.4 1182.2 728.9C1182.9 729.3 1184.9 730.1 1185.5 730.6C1186.2 731.0 1187.6 733.0 1188.2 733.0C1188.9 733.0 1190.5 730.8 1191.1 730.2C1191.6 729.5 1193.0 727.8 1193.5 727.1C1194.0 726.4 1195.3 723.7 1195.8 723.8C1196.2 723.8 1197.0 726.6 1197.4 727.3C1197.8 728.1 1198.8 730.1 1199.3 730.8C1199.8 731.5 1201.2 733.9 1202.0 733.8C1202.8 733.6 1206.2 729.7 1207.0 729.5C1207.8 729.3 1208.6 731.6 1209.2 732.1C1209.7 732.6 1211.1 733.8 1211.7 734.3C1212.3 734.7 1213.6 736.6 1214.5 736.2C1215.4 735.9 1218.5 732.0 1219.5 731.2C1220.5 730.5 1222.3 729.9 1223.2 729.6C1224.0 729.2 1226.0 728.2 1226.8 727.9C1227.7 727.6 1229.9 727.1 1230.7 726.8C1231.6 726.6 1233.8 725.4 1234.5 725.5C1235.2 725.6 1236.7 727.1 1237.2 727.6C1237.7 728.2 1238.7 730.0 1239.2 730.5C1239.8 731.0 1241.8 731.8 1242.4 732.3C1242.9 732.7 1244.0 735.0 1244.5 735.0C1245.0 735.0 1246.1 733.0 1246.7 732.6C1247.3 732.1 1249.1 731.5 1249.7 731.1C1250.3 730.7 1251.3 729.0 1252.0 728.8C1252.7 728.5 1255.1 728.8 1255.9 728.9C1256.7 729.0 1258.8 729.6 1259.6 729.8C1260.5 729.9 1262.6 730.2 1263.4 730.5C1264.2 730.7 1266.2 731.9 1267.0 732.0C1267.8 732.1 1269.8 731.6 1270.6 731.6C1271.3 731.6 1273.3 731.9 1274.1 732.1C1274.8 732.3 1276.7 733.3 1277.5 733.4C1278.2 733.5 1280.3 733.0 1281.0 733.1C1281.8 733.1 1283.7 733.9 1284.5 733.8C1285.3 733.6 1287.2 731.8 1288.0 731.3C1288.8 730.9 1291.3 729.9 1292.0 730.0C1292.7 730.1 1293.9 732.1 1294.5 732.6C1295.1 733.2 1296.5 734.6 1297.2 735.1C1297.8 735.6 1299.5 736.8 1300.0 737.4C1300.6 738.0 1301.6 740.5 1302.0 740.5C1302.4 740.5 1303.3 738.3 1303.7 737.7C1304.2 737.2 1305.6 736.1 1306.1 735.6C1306.6 735.2 1308.0 734.0 1308.5 733.5C1309.0 733.0 1310.1 731.4 1310.8 731.2C1311.4 731.1 1313.9 731.7 1314.7 732.0C1315.5 732.2 1317.4 733.7 1318.2 733.8C1319.1 733.8 1321.3 732.9 1322.2 732.6C1323.1 732.4 1325.3 731.9 1326.2 731.7C1327.1 731.6 1329.5 731.6 1330.4 731.4C1331.3 731.2 1333.4 730.2 1334.3 729.9C1335.2 729.6 1337.5 728.6 1338.2 728.8C1339.0 728.9 1340.7 730.5 1341.4 731.0C1342.0 731.5 1343.7 732.9 1344.4 733.4C1345.0 734.0 1346.5 736.2 1347.0 736.2C1347.5 736.3 1348.7 734.3 1349.2 733.8C1349.7 733.3 1351.3 732.4 1351.9 732.0C1352.5 731.5 1353.9 729.9 1354.5 730.0C1355.1 730.1 1356.3 732.1 1356.9 732.6C1357.5 733.1 1359.0 734.2 1359.7 734.6C1360.4 734.9 1362.6 735.2 1363.2 735.6C1363.9 735.9 1365.2 738.0 1365.8 738.0C1366.3 738.0 1367.8 735.9 1368.4 735.3C1369.0 734.7 1370.5 733.2 1371.0 732.6C1371.6 732.0 1372.5 729.6 1373.2 729.5C1374.0 729.4 1377.2 731.7 1378.2 732.0C1379.3 732.3 1381.5 732.2 1382.4 732.1C1383.3 732.1 1385.5 731.5 1386.4 731.4C1387.3 731.2 1389.6 730.9 1390.5 730.7C1391.4 730.5 1393.6 730.0 1394.5 730.0C1395.4 730.0 1397.7 730.8 1398.5 731.1C1399.3 731.4 1401.3 732.6 1402.1 733.0C1402.9 733.4 1405.0 735.1 1405.8 735.0C1406.5 734.9 1408.4 733.1 1409.1 732.5C1409.8 732.0 1411.4 730.3 1412.0 729.6C1412.6 728.9 1413.8 725.9 1414.5 726.2C1415.2 726.6 1417.5 732.1 1418.2 732.5C1419.0 732.9 1420.6 730.8 1421.2 730.2C1421.7 729.6 1422.6 727.6 1423.1 727.0C1423.6 726.4 1425.3 724.5 1425.8 724.5C1426.2 724.5 1427.1 726.8 1427.5 727.4C1427.9 728.0 1429.1 729.5 1429.6 730.1C1430.1 730.7 1431.4 732.5 1432.0 732.5C1432.6 732.5 1434.5 730.4 1435.2 729.9C1436.0 729.3 1437.8 727.8 1438.5 727.3C1439.3 726.8 1441.3 725.1 1442.0 725.0C1442.7 724.9 1444.3 725.7 1444.9 725.9C1445.6 726.2 1447.2 726.8 1447.8 727.1C1448.5 727.3 1450.1 728.0 1450.8 728.0C1451.4 728.0 1453.3 727.2 1454.0 727.1C1454.8 727.0 1456.6 726.9 1457.4 726.9C1458.1 727.0 1460.0 727.7 1460.8 727.5C1461.5 727.3 1463.7 726.1 1464.3 725.6C1465.0 725.0 1466.4 722.6 1467.0 722.5C1467.6 722.4 1469.0 724.0 1469.6 724.5C1470.1 724.9 1471.5 726.1 1472.1 726.6C1472.6 727.0 1473.9 728.8 1474.5 728.8C1475.1 728.7 1476.6 726.4 1477.1 725.7C1477.7 725.0 1479.0 723.2 1479.5 722.5C1480.1 721.9 1481.7 720.3 1482.2 719.6C1482.8 718.9 1483.9 716.3 1484.5 716.2C1485.1 716.2 1486.7 718.3 1487.4 718.8C1488.1 719.3 1490.2 720.2 1490.8 720.7C1491.4 721.2 1492.8 723.7 1493.2 723.8C1493.7 723.8 1494.5 721.4 1495.0 720.8C1495.5 720.2 1497.0 719.0 1497.5 718.5C1498.0 718.0 1499.3 716.6 1499.8 716.1C1500.4 715.6 1502.3 714.8 1502.8 714.2C1503.3 713.7 1503.9 711.6 1504.5 711.2C1505.1 710.9 1507.8 711.0 1508.7 710.8C1509.6 710.7 1511.9 710.0 1512.8 709.9C1513.7 709.8 1516.3 709.7 1517.0 710.0C1517.7 710.3 1518.6 712.3 1519.1 712.9C1519.7 713.4 1521.6 714.3 1522.2 714.8C1522.8 715.3 1523.9 717.3 1524.5 717.5C1525.1 717.7 1526.7 717.0 1527.3 717.0C1527.9 716.9 1529.6 716.9 1530.2 716.9C1530.8 716.8 1532.2 716.3 1533.0 716.2C1533.8 716.2 1536.2 716.6 1537.2 716.6C1538.1 716.5 1540.4 715.9 1541.3 715.9C1542.2 715.8 1544.7 716.2 1545.5 716.2C1546.3 716.3 1548.1 716.7 1548.9 716.7C1549.6 716.8 1551.6 716.6 1552.3 716.7C1553.0 716.8 1554.8 718.0 1555.5 718.0C1556.2 718.0 1558.0 717.2 1558.6 716.9C1559.3 716.6 1560.8 715.5 1561.4 715.1C1562.0 714.7 1563.6 713.8 1564.2 713.3C1564.8 712.9 1566.2 711.2 1566.8 711.2C1567.3 711.3 1568.7 712.9 1569.2 713.5C1569.6 714.0 1570.3 715.8 1570.8 716.4C1571.2 717.0 1572.4 718.5 1573.0 718.8C1573.6 719.0 1575.6 719.0 1576.3 719.1C1577.1 719.1 1579.0 719.0 1579.7 719.1C1580.5 719.2 1582.4 720.2 1583.0 720.0C1583.6 719.8 1584.6 717.7 1585.2 717.2C1585.8 716.7 1587.8 715.9 1588.4 715.4C1589.0 714.9 1589.9 712.6 1590.5 712.5C1591.1 712.4 1593.0 713.9 1593.8 714.3C1594.5 714.7 1596.4 715.6 1597.1 716.0C1597.8 716.3 1599.8 717.3 1600.5 717.5C1601.2 717.7 1603.2 717.3 1603.9 717.4C1604.6 717.5 1606.4 718.3 1607.2 718.5C1607.9 718.6 1609.4 718.9 1610.5 718.8C1611.6 718.6 1615.8 716.9 1616.8 717.0C1617.7 717.1 1618.7 719.0 1619.4 719.3C1620.0 719.7 1622.1 719.9 1622.8 720.3C1623.5 720.6 1624.7 722.8 1625.5 722.5C1626.3 722.2 1629.3 718.1 1630.5 718.0C1631.7 717.9 1635.7 721.1 1636.8 721.2C1637.8 721.4 1639.5 719.9 1640.4 719.6C1641.2 719.3 1643.4 719.0 1644.2 718.8C1645.1 718.5 1647.2 718.1 1647.9 717.7C1648.6 717.3 1650.1 715.5 1650.8 715.1C1651.5 714.7 1653.5 713.8 1654.2 713.8C1655.0 713.7 1657.2 714.1 1658.0 714.3C1658.8 714.5 1660.8 715.4 1661.7 715.5C1662.5 715.7 1664.8 715.4 1665.5 715.5C1666.2 715.6 1667.7 716.4 1668.3 716.5C1669.0 716.6 1670.7 716.5 1671.4 716.6C1672.0 716.7 1673.6 717.3 1674.2 717.5C1674.9 717.7 1676.3 718.5 1676.9 718.8C1677.4 719.1 1678.9 719.8 1679.4 720.2C1680.0 720.5 1681.2 722.1 1681.8 722.0C1682.3 721.9 1683.6 719.9 1684.3 719.5C1684.9 719.1 1686.9 718.6 1687.6 718.2C1688.3 717.8 1689.8 716.2 1690.5 716.2C1691.2 716.3 1693.3 717.8 1694.0 718.3C1694.6 718.9 1696.2 721.2 1696.8 721.2C1697.3 721.3 1698.1 719.4 1698.6 719.1C1699.1 718.7 1700.8 718.2 1701.2 717.8C1701.7 717.4 1702.4 715.8 1703.0 715.5C1703.6 715.2 1705.6 715.0 1706.3 714.9C1707.1 714.9 1708.9 714.8 1709.7 714.9C1710.4 714.9 1712.2 715.2 1713.0 715.5C1713.8 715.8 1716.0 716.8 1716.7 717.3C1717.4 717.8 1718.9 719.8 1719.6 720.3C1720.2 720.9 1722.3 722.6 1723.0 722.5C1723.7 722.4 1725.2 720.1 1725.9 719.5C1726.6 718.9 1728.6 717.0 1729.2 717.0C1729.9 717.0 1731.2 718.6 1731.7 719.1C1732.2 719.6 1733.2 721.1 1733.6 721.6C1734.0 722.2 1735.1 723.7 1735.6 724.2C1736.0 724.7 1737.2 726.3 1738.0 726.2C1738.8 726.2 1741.9 723.6 1743.0 723.8C1744.1 723.9 1747.1 727.8 1748.0 728.0C1748.9 728.2 1750.5 726.5 1751.0 725.8C1751.5 725.2 1752.0 722.9 1752.5 722.2C1753.0 721.6 1755.0 719.9 1755.5 720.0C1756.0 720.1 1756.9 722.2 1757.4 722.8C1757.8 723.4 1759.1 724.8 1759.5 725.5C1759.8 726.1 1760.1 728.6 1760.5 728.8C1760.9 728.9 1762.3 726.9 1762.9 726.4C1763.4 725.9 1765.1 725.0 1765.7 724.6C1766.2 724.1 1767.3 722.5 1767.8 722.0C1768.4 721.5 1769.9 720.0 1770.5 720.0C1771.1 720.0 1773.0 721.9 1773.7 722.4C1774.4 723.0 1776.2 725.0 1776.8 725.0C1777.3 725.0 1778.5 723.1 1779.1 722.7C1779.7 722.3 1781.6 721.8 1782.2 721.4C1782.8 721.0 1783.8 718.8 1784.2 718.8C1784.7 718.7 1785.6 720.5 1786.0 721.0C1786.4 721.5 1787.5 722.6 1788.0 723.0C1788.5 723.4 1789.5 724.5 1790.5 724.5C1791.5 724.5 1795.8 722.8 1796.8 723.0C1797.7 723.2 1798.3 725.6 1798.7 726.3C1799.2 727.1 1800.3 729.3 1801.0 729.5C1801.7 729.7 1804.0 728.7 1804.8 728.4C1805.6 728.0 1807.5 726.8 1808.3 726.4C1809.0 725.9 1810.7 724.7 1811.8 724.5C1812.8 724.3 1817.3 724.5 1818.0 724.5"/>
<path class="c" stroke="#800080" d="M153.0 614.5C153.4 614.5 155.5 614.6 156.2 614.5C157.0 614.4 159.2 613.8 160.0 613.5C160.8 613.3 163.1 612.2 163.8 612.5C164.4 612.8 165.3 615.2 165.9 615.9C166.4 616.6 168.0 618.3 168.8 618.8C169.5 619.2 171.6 619.9 172.4 620.1C173.2 620.2 175.6 619.6 176.2 620.0C176.9 620.4 178.0 622.6 178.4 623.4C178.8 624.1 179.6 626.9 180.0 627.0C180.4 627.1 181.9 625.1 182.4 624.5C182.9 623.9 184.0 622.3 184.4 621.7C184.8 621.1 185.8 618.8 186.2 618.8C186.7 618.7 187.7 621.0 188.2 621.6C188.8 622.1 190.5 623.2 191.1 623.8C191.6 624.3 192.9 625.7 193.4 626.4C193.8 627.0 194.1 629.5 195.0 629.5C195.9 629.5 200.3 626.3 201.2 626.2C202.2 626.2 203.2 628.4 203.6 629.1C204.1 629.7 205.0 631.7 205.5 632.3C205.9 633.0 207.5 635.1 208.0 635.0C208.5 634.9 209.5 632.2 210.0 631.5C210.5 630.7 212.1 629.0 212.7 628.3C213.2 627.6 214.5 625.0 215.0 625.0C215.5 625.0 216.7 627.4 217.0 628.1C217.3 628.9 217.7 631.0 218.0 631.7C218.3 632.5 219.2 634.4 219.7 635.1C220.1 635.7 221.7 637.2 222.1 637.9C222.6 638.6 222.9 641.3 223.8 641.2C224.6 641.2 228.9 638.0 230.0 637.5C231.1 637.0 233.2 637.2 234.0 637.0C234.8 636.7 236.8 635.0 237.5 635.0C238.2 635.0 239.8 636.8 240.2 637.4C240.6 638.1 241.1 640.2 241.5 640.9C241.9 641.6 243.1 643.2 243.6 643.8C244.1 644.4 245.6 646.0 246.2 646.2C246.9 646.5 248.6 646.2 249.3 646.3C249.9 646.5 251.4 647.5 252.0 647.7C252.7 647.9 254.3 648.1 255.0 648.0C255.7 647.9 257.6 647.1 258.4 646.9C259.1 646.7 261.2 646.6 261.9 646.3C262.6 646.0 264.4 644.9 265.0 644.5C265.6 644.1 267.1 642.9 267.7 642.6C268.4 642.3 270.2 641.8 270.9 641.6C271.5 641.3 273.2 639.8 273.8 640.0C274.3 640.2 275.6 642.5 276.3 643.2C276.9 643.8 278.8 645.1 279.4 645.7C280.1 646.2 281.7 647.9 282.5 648.2C283.3 648.6 285.5 648.5 286.3 648.6C287.1 648.7 289.0 649.6 290.0 649.5C291.0 649.4 294.1 647.5 295.0 647.5C295.9 647.5 297.3 648.7 297.8 649.2C298.3 649.8 298.8 651.8 299.3 652.4C299.8 652.9 301.6 653.6 302.2 654.0C302.7 654.5 303.9 656.2 304.5 656.2C305.1 656.3 307.1 655.1 307.6 654.6C308.2 654.0 309.0 651.9 309.5 651.3C310.0 650.8 311.8 649.7 312.5 649.5C313.2 649.3 314.8 649.6 315.5 649.5C316.1 649.5 317.8 649.3 318.4 649.1C319.0 649.0 320.6 648.2 321.2 648.2C321.9 648.3 323.3 649.6 324.0 649.7C324.7 649.8 326.6 649.1 327.3 649.2C327.9 649.3 328.9 650.3 330.0 650.8C331.1 651.2 336.0 653.1 337.0 653.0C338.0 652.9 339.0 650.5 339.5 649.8C340.1 649.1 341.2 647.1 341.8 646.4C342.4 645.7 344.3 643.8 345.0 643.8C345.7 643.7 347.8 645.6 348.6 646.0C349.4 646.4 351.7 647.6 352.5 647.5C353.3 647.4 354.8 645.6 355.5 645.1C356.2 644.6 358.1 642.9 358.8 643.0C359.4 643.1 360.8 645.3 361.5 645.8C362.2 646.3 364.4 647.6 365.0 647.5C365.6 647.4 366.5 645.5 367.1 645.1C367.6 644.6 369.1 643.6 369.7 643.2C370.2 642.7 371.5 641.5 372.0 640.9C372.4 640.4 373.1 638.5 373.8 638.2C374.4 638.0 376.8 638.6 377.6 638.7C378.4 638.9 380.5 640.0 381.2 640.0C382.0 640.0 383.5 639.0 384.2 638.8C384.9 638.6 386.7 638.4 387.4 638.1C388.0 637.8 389.4 636.5 390.0 636.2C390.6 636.0 392.3 635.9 392.9 635.7C393.6 635.6 395.2 635.0 395.8 634.9C396.4 634.7 398.1 634.8 398.8 634.5C399.4 634.2 400.7 632.3 401.3 631.9C402.0 631.4 404.0 630.6 404.7 630.1C405.3 629.5 406.3 627.6 406.9 627.0C407.5 626.5 409.2 625.2 410.0 625.0C410.8 624.8 412.9 624.9 413.8 624.8C414.6 624.7 416.9 624.1 417.5 624.2C418.1 624.4 419.1 625.9 419.5 626.4C420.0 626.9 421.1 628.0 421.6 628.5C422.1 628.9 423.3 630.6 423.8 630.5C424.2 630.4 425.3 628.0 425.8 627.5C426.4 626.9 428.3 625.9 428.9 625.3C429.5 624.8 430.6 622.8 431.2 622.5C431.9 622.2 434.3 622.6 435.1 622.5C435.9 622.4 438.1 621.1 438.8 621.2C439.4 621.4 440.9 623.0 441.4 623.6C442.0 624.1 443.4 625.5 443.9 626.1C444.5 626.6 445.6 628.6 446.2 628.8C446.9 628.9 449.4 628.1 450.2 627.8C451.1 627.5 453.0 625.8 453.8 625.8C454.5 625.7 455.9 627.3 456.6 627.7C457.3 628.1 459.1 628.7 459.8 629.1C460.4 629.5 461.8 631.0 462.5 631.2C463.2 631.5 465.1 631.5 465.7 631.8C466.3 632.1 467.6 633.7 468.2 634.1C468.8 634.4 470.6 635.2 471.2 635.0C471.9 634.8 473.5 632.9 474.2 632.3C474.9 631.8 476.9 630.0 477.5 630.0C478.1 630.0 479.1 631.8 479.6 632.3C480.1 632.8 481.5 633.9 481.9 634.4C482.4 635.0 483.0 636.9 483.8 637.0C484.5 637.1 487.9 634.9 488.8 635.0C489.6 635.1 490.6 637.6 491.1 638.3C491.6 639.0 492.9 640.9 493.5 641.5C494.0 642.2 495.7 644.5 496.2 644.5C496.8 644.5 497.9 642.5 498.3 642.0C498.7 641.4 499.8 639.9 500.3 639.4C500.8 638.9 502.6 637.3 503.0 637.5C503.4 637.7 503.8 640.2 504.1 640.9C504.4 641.6 505.4 643.2 506.0 643.8C506.5 644.4 508.4 645.5 508.9 646.1C509.3 646.8 509.7 649.4 510.0 649.5C510.3 649.6 511.5 647.4 512.0 646.9C512.4 646.3 513.6 644.9 514.0 644.3C514.4 643.7 515.1 642.0 515.5 641.4C515.9 640.7 517.0 638.7 517.5 638.8C518.0 638.8 519.3 640.9 519.8 641.5C520.3 642.1 521.4 643.7 522.0 644.2C522.6 644.8 524.0 646.4 525.0 646.2C526.0 646.1 530.3 642.6 531.2 642.5C532.2 642.4 533.4 644.6 534.1 645.1C534.7 645.6 536.5 646.8 537.2 647.4C537.8 647.9 539.4 650.0 540.0 650.0C540.6 650.0 542.1 648.1 542.7 647.6C543.4 647.1 545.1 646.1 545.8 645.7C546.4 645.2 548.0 644.0 548.7 643.6C549.4 643.2 551.3 641.9 552.0 642.0C552.7 642.1 554.7 643.5 555.5 644.0C556.2 644.6 557.8 646.1 558.4 646.7C559.1 647.3 560.3 649.4 561.2 649.5C562.2 649.6 566.5 647.4 567.5 647.5C568.5 647.6 569.6 649.9 570.3 650.4C571.0 651.0 573.2 652.6 573.8 652.5C574.3 652.4 575.2 650.2 575.7 649.5C576.1 648.9 577.4 647.4 577.9 646.7C578.4 646.1 579.5 644.5 579.9 643.8C580.3 643.1 580.9 640.5 581.2 640.5C581.6 640.5 582.3 642.9 582.7 643.5C583.2 644.0 585.2 644.9 585.6 645.5C586.0 646.1 586.0 648.3 586.4 648.9C586.7 649.6 588.1 651.2 588.8 651.2C589.4 651.3 591.5 649.7 592.3 649.4C593.1 649.1 595.5 649.0 596.2 648.8C597.0 648.5 598.2 647.4 598.8 647.0C599.3 646.5 600.6 645.4 601.1 645.0C601.6 644.5 602.5 642.4 603.0 642.5C603.5 642.6 604.9 644.9 605.5 645.6C606.1 646.2 607.8 647.6 608.4 648.2C609.0 648.9 610.5 651.3 611.0 651.2C611.5 651.2 612.2 648.6 612.6 648.0C613.0 647.3 614.1 645.7 614.7 645.1C615.2 644.5 616.6 642.9 617.2 642.5C617.9 642.1 619.8 641.5 620.5 641.1C621.1 640.7 622.6 639.4 623.3 639.0C624.0 638.7 625.9 638.2 626.6 637.9C627.4 637.6 629.2 636.2 629.8 636.2C630.3 636.3 631.5 638.0 631.9 638.5C632.4 639.1 633.6 640.4 634.0 640.9C634.4 641.5 635.1 643.7 635.5 643.8C635.9 643.8 637.3 641.8 637.9 641.3C638.5 640.9 640.4 640.1 641.0 639.6C641.6 639.2 642.8 637.7 643.4 637.2C643.9 636.7 645.3 635.2 646.0 635.0C646.7 634.8 649.0 635.3 649.8 635.5C650.6 635.6 652.9 636.5 653.5 636.2C654.1 636.0 654.8 634.0 655.2 633.4C655.6 632.8 656.7 631.3 657.1 630.7C657.5 630.1 658.4 628.4 658.8 627.8C659.1 627.2 659.6 625.0 660.5 625.0C661.4 625.0 666.0 627.8 667.2 627.5C668.5 627.2 671.1 622.0 672.2 622.0C673.4 622.0 676.5 627.2 677.2 627.5C678.0 627.8 678.8 625.2 679.4 624.6C679.9 624.1 681.7 622.9 682.2 622.3C682.7 621.7 683.7 620.0 684.1 619.3C684.5 618.6 685.5 616.8 686.0 616.2C686.5 615.7 688.0 614.6 688.6 614.2C689.2 613.8 690.9 613.0 691.5 612.6C692.1 612.3 693.6 611.1 694.2 610.8C694.8 610.4 696.6 609.4 697.2 609.5C697.9 609.6 699.6 611.5 700.3 612.1C700.9 612.7 702.5 615.0 703.0 615.0C703.5 615.0 704.0 612.6 704.4 612.1C704.9 611.5 706.8 610.7 707.3 610.2C707.8 609.7 708.7 608.1 709.1 607.6C709.5 607.0 710.4 605.2 711.0 605.0C711.6 604.8 713.9 605.4 714.8 605.5C715.6 605.6 717.9 606.6 718.5 606.2C719.1 605.9 720.2 603.6 720.5 602.7C720.9 601.9 721.0 599.5 721.3 598.7C721.5 597.8 722.7 595.8 723.1 595.0C723.5 594.3 724.8 592.3 725.1 591.5C725.4 590.7 725.2 588.0 726.0 587.5C726.8 587.0 731.4 587.4 732.2 587.0C733.1 586.6 733.6 584.9 734.0 584.3C734.4 583.7 735.4 582.2 735.7 581.6C736.1 581.0 736.5 579.5 737.2 578.8C738.0 578.0 741.5 575.8 742.2 575.0C743.0 574.2 743.2 572.3 743.6 571.7C744.1 571.0 745.6 569.5 746.0 568.8C746.4 568.1 747.0 566.2 747.3 565.4C747.6 564.7 747.9 562.1 748.5 562.0C749.1 561.9 752.4 564.7 753.0 564.5C753.6 564.3 753.6 561.3 753.8 560.4C754.0 559.5 754.7 557.3 755.0 556.4C755.3 555.6 756.2 553.4 756.4 552.5C756.7 551.7 757.2 549.4 757.4 548.5C757.7 547.6 758.1 544.8 758.5 544.5C758.9 544.2 760.4 545.7 761.0 545.9C761.6 546.2 763.2 546.6 763.7 546.9C764.3 547.2 765.6 548.9 766.0 548.8C766.4 548.6 767.0 546.2 767.4 545.4C767.7 544.7 768.5 542.9 768.8 542.2C769.1 541.4 769.9 539.6 770.1 538.8C770.4 538.1 770.7 536.1 770.9 535.3C771.2 534.6 771.9 532.6 772.2 532.0C772.6 531.4 773.5 530.1 773.9 529.6C774.2 529.1 775.2 527.8 775.6 527.3C776.0 526.8 776.9 525.6 777.2 525.0C777.6 524.4 778.5 522.6 778.9 521.9C779.2 521.2 780.1 519.5 780.3 518.7C780.6 518.0 780.9 516.0 781.3 515.3C781.6 514.6 783.0 513.1 783.5 512.5C784.0 511.9 785.1 510.2 785.7 509.7C786.4 509.3 788.4 508.5 789.0 508.0C789.6 507.5 790.9 506.0 791.3 505.3C791.8 504.7 793.1 503.2 793.5 502.5C793.9 501.8 794.6 499.5 795.0 498.7C795.4 497.9 796.7 496.0 797.0 495.1C797.3 494.3 797.5 491.9 797.8 491.1C798.1 490.2 799.3 488.3 799.8 487.5C800.2 486.7 801.2 484.6 801.7 483.8C802.2 483.0 803.7 481.2 804.3 480.5C804.8 479.8 806.3 478.0 806.8 477.2C807.2 476.3 807.7 473.9 808.2 473.1C808.6 472.3 810.4 470.7 811.0 470.0C811.6 469.3 812.9 467.5 813.5 466.8C814.0 466.2 815.5 464.5 816.0 463.8C816.5 463.0 817.6 461.2 818.0 460.5C818.3 459.7 818.6 457.6 819.0 456.8C819.3 456.0 820.7 454.3 820.9 453.5C821.1 452.7 820.8 450.3 821.0 449.5C821.3 448.7 822.6 446.3 823.0 446.2C823.4 446.2 824.4 448.2 824.9 448.6C825.3 449.1 826.6 450.1 827.2 450.5C827.7 450.8 829.4 452.3 829.8 452.0C830.1 451.7 829.9 448.9 830.2 448.0C830.4 447.2 831.7 445.3 832.1 444.5C832.4 443.7 833.3 441.7 833.5 440.9C833.7 440.0 833.7 437.4 834.2 437.0C834.8 436.6 837.9 436.6 838.5 437.0C839.1 437.4 839.7 439.7 839.8 440.5C840.0 441.2 840.1 443.4 840.2 444.2C840.3 445.0 840.6 447.0 840.8 447.8C841.0 448.6 841.4 450.6 842.2 451.2C843.1 451.9 847.3 452.9 848.5 453.8C849.7 454.6 852.9 457.8 853.5 458.8C854.1 459.7 854.0 461.8 854.3 462.6C854.6 463.5 855.8 465.4 856.1 466.2C856.4 467.0 856.4 469.4 857.2 470.0C858.1 470.6 862.5 471.2 863.5 471.2C864.5 471.3 865.8 470.6 866.4 470.6C867.1 470.6 868.7 471.2 869.3 471.3C870.0 471.4 871.7 470.9 872.2 471.2C872.8 471.6 874.0 474.0 874.3 474.8C874.7 475.6 875.2 477.9 875.5 478.8C875.8 479.6 876.9 481.8 877.2 482.5C877.6 483.2 878.8 484.8 879.1 485.5C879.5 486.1 880.3 487.9 880.6 488.6C880.9 489.4 881.6 491.2 881.9 491.9C882.2 492.6 883.2 494.4 883.5 495.0C883.8 495.6 884.5 497.2 884.8 497.8C885.1 498.4 885.8 499.9 886.2 500.4C886.7 500.9 887.8 502.4 888.5 502.5C889.2 502.6 891.4 501.9 892.2 501.7C893.1 501.6 895.4 501.0 896.0 501.2C896.6 501.5 897.7 503.7 897.9 504.4C898.2 505.2 897.9 507.5 898.1 508.3C898.4 509.0 899.7 510.7 900.0 511.5C900.3 512.2 900.8 514.2 901.0 515.0C901.2 515.8 901.7 518.2 901.9 519.1C902.1 520.0 902.7 522.3 903.0 523.1C903.3 524.0 903.9 527.0 904.8 527.0C905.6 527.0 910.0 523.1 911.0 523.0C912.0 522.9 913.1 525.4 913.5 526.2C913.9 526.9 914.1 529.3 914.8 530.0C915.4 530.7 919.1 531.8 919.8 532.5C920.4 533.2 920.6 535.3 921.0 536.1C921.4 536.8 922.8 538.5 923.2 539.2C923.6 540.0 924.4 541.9 924.7 542.7C925.0 543.5 925.4 545.7 926.0 546.2C926.6 546.8 929.1 547.0 929.8 547.5C930.4 548.0 931.2 549.8 931.5 550.5C931.9 551.2 932.5 553.1 932.8 553.8C933.2 554.5 934.4 556.0 934.8 556.7C935.1 557.4 935.6 559.3 936.0 560.0C936.4 560.7 937.5 562.7 938.0 563.5C938.5 564.2 939.8 566.1 940.3 566.8C940.8 567.6 942.0 569.5 942.5 570.2C942.9 571.0 943.9 573.0 944.3 573.8C944.7 574.6 945.3 577.4 946.0 577.5C946.7 577.6 950.2 574.9 951.0 575.0C951.8 575.1 952.5 577.6 953.0 578.3C953.5 579.0 955.1 580.4 955.6 581.1C956.2 581.7 957.5 583.4 957.9 584.1C958.4 584.8 959.2 587.0 959.8 587.5C960.3 588.0 962.2 588.1 962.9 588.2C963.6 588.4 965.5 588.7 966.1 589.0C966.8 589.3 968.2 590.8 968.9 591.0C969.6 591.3 971.8 590.8 972.2 591.2C972.7 591.7 972.8 594.1 973.1 594.9C973.4 595.6 974.9 597.3 975.2 598.1C975.6 598.8 976.1 600.9 976.3 601.6C976.5 602.4 977.1 604.4 977.3 605.2C977.6 606.0 978.1 608.6 978.5 608.8C978.9 608.9 980.2 607.2 980.6 606.7C981.1 606.2 982.1 604.9 982.5 604.5C983.0 604.0 984.3 602.4 984.8 602.5C985.2 602.6 986.1 604.8 986.4 605.4C986.7 606.1 987.4 607.9 987.7 608.5C988.1 609.2 989.3 611.2 989.8 611.2C990.2 611.3 991.4 609.5 992.0 609.2C992.5 608.8 994.2 608.3 994.8 608.0C995.4 607.7 996.7 606.3 997.2 606.2C997.8 606.2 999.5 607.1 1000.0 607.5C1000.6 607.9 1001.7 609.2 1002.2 609.6C1002.7 610.0 1004.2 610.7 1004.8 611.2C1005.3 611.8 1006.5 613.8 1006.9 614.6C1007.2 615.3 1007.8 617.5 1008.1 618.3C1008.4 619.1 1009.4 621.1 1009.9 621.8C1010.3 622.6 1011.7 624.9 1012.2 625.0C1012.8 625.1 1014.4 623.4 1014.9 622.8C1015.3 622.2 1015.9 620.2 1016.3 619.6C1016.7 618.9 1018.0 616.9 1018.5 617.0C1019.0 617.1 1020.3 619.7 1020.9 620.4C1021.5 621.1 1023.3 622.6 1023.9 623.4C1024.5 624.1 1025.5 626.8 1026.0 627.0C1026.5 627.2 1028.1 625.4 1028.7 624.9C1029.3 624.4 1030.8 623.2 1031.3 622.6C1031.8 622.1 1033.0 620.1 1033.5 620.0C1034.0 619.9 1035.5 621.2 1036.1 621.6C1036.6 621.9 1038.1 622.7 1038.6 623.1C1039.2 623.5 1040.1 625.2 1041.0 625.0C1041.9 624.8 1046.3 621.4 1047.2 621.2C1048.2 621.1 1049.0 623.4 1049.5 624.0C1050.0 624.6 1051.4 626.0 1052.0 626.5C1052.6 627.0 1054.1 628.4 1054.8 628.8C1055.4 629.1 1056.9 629.9 1057.5 630.0C1058.2 630.2 1060.0 630.0 1060.7 630.1C1061.3 630.2 1062.9 631.1 1063.5 631.2C1064.1 631.4 1065.8 631.6 1066.4 631.7C1067.1 631.9 1068.7 632.3 1069.3 632.6C1069.9 632.8 1071.4 633.5 1072.0 633.8C1072.6 634.0 1074.2 634.7 1074.8 635.0C1075.4 635.3 1076.9 636.1 1077.4 636.5C1077.9 636.9 1079.1 638.9 1079.5 638.8C1079.9 638.6 1080.4 635.9 1080.8 635.2C1081.1 634.5 1082.6 632.9 1083.0 632.2C1083.4 631.6 1084.2 629.6 1084.7 629.0C1085.1 628.3 1086.6 626.7 1087.0 626.0C1087.4 625.3 1087.9 622.5 1088.2 622.5C1088.6 622.5 1089.5 625.0 1089.9 625.7C1090.3 626.4 1091.5 628.0 1091.7 628.8C1091.9 629.5 1091.8 631.8 1092.2 632.5C1092.5 633.2 1094.4 634.5 1094.8 635.2C1095.2 635.9 1095.1 638.8 1095.8 638.8C1096.4 638.7 1099.7 634.9 1100.8 635.0C1101.8 635.1 1104.8 639.1 1105.8 639.5C1106.7 639.9 1108.6 638.7 1109.5 638.6C1110.3 638.5 1112.5 638.7 1113.3 638.6C1114.1 638.4 1116.2 637.4 1117.0 637.5C1117.8 637.6 1119.6 639.2 1120.3 639.8C1121.0 640.3 1122.7 642.5 1123.2 642.5C1123.8 642.5 1125.3 640.1 1125.7 639.4C1126.2 638.7 1127.0 636.6 1127.3 635.8C1127.6 635.0 1128.2 632.8 1128.6 632.0C1129.0 631.3 1130.3 628.8 1130.8 628.8C1131.2 628.7 1132.0 630.7 1132.4 631.2C1132.9 631.7 1134.0 632.9 1134.5 633.4C1135.0 633.8 1136.2 634.9 1137.0 635.0C1137.8 635.1 1141.2 634.3 1142.0 634.5C1142.8 634.7 1143.6 636.6 1144.2 637.1C1144.7 637.7 1146.3 638.9 1146.8 639.4C1147.3 639.9 1148.6 641.4 1149.0 642.0C1149.5 642.6 1150.2 645.0 1150.8 645.0C1151.3 645.0 1153.3 643.0 1154.0 642.4C1154.7 641.8 1156.4 640.3 1157.0 639.6C1157.6 638.9 1159.0 636.4 1159.5 636.2C1160.0 636.1 1161.3 637.9 1161.9 638.3C1162.4 638.8 1163.7 640.0 1164.3 640.4C1164.8 640.8 1166.0 641.9 1167.0 642.0C1168.0 642.1 1172.3 641.5 1173.2 641.2C1174.2 641.0 1175.5 640.4 1176.0 639.9C1176.5 639.5 1177.5 638.0 1178.0 637.6C1178.6 637.2 1180.1 636.4 1180.8 636.2C1181.4 636.1 1183.4 635.8 1184.2 635.8C1184.9 635.9 1186.9 636.7 1187.6 636.8C1188.4 636.9 1190.3 636.8 1191.1 636.8C1191.8 636.7 1193.7 636.0 1194.5 636.2C1195.3 636.5 1197.1 638.2 1197.9 638.7C1198.6 639.2 1200.6 640.4 1201.4 641.0C1202.1 641.5 1203.8 643.7 1204.5 643.8C1205.2 643.8 1207.2 641.9 1208.0 641.5C1208.8 641.2 1211.2 640.3 1212.0 640.5C1212.8 640.7 1214.4 642.5 1215.0 643.1C1215.6 643.8 1216.8 645.8 1217.4 646.4C1218.0 647.1 1220.1 648.6 1220.8 648.8C1221.4 648.9 1222.9 647.7 1223.5 647.5C1224.2 647.3 1225.9 647.0 1226.5 646.8C1227.2 646.7 1228.8 646.0 1229.5 646.2C1230.2 646.5 1232.7 648.8 1233.2 648.8C1233.8 648.7 1234.3 646.2 1234.8 645.6C1235.2 645.0 1237.0 643.9 1237.5 643.3C1238.0 642.8 1238.7 640.6 1239.5 640.5C1240.3 640.4 1243.3 642.5 1244.5 642.5C1245.7 642.5 1249.5 640.4 1250.8 640.5C1252.0 640.6 1254.8 643.8 1255.8 643.8C1256.7 643.8 1258.7 640.7 1259.5 640.5C1260.3 640.3 1262.0 641.2 1262.6 641.6C1263.2 641.9 1264.4 643.6 1265.0 644.0C1265.6 644.4 1267.3 645.0 1267.9 645.4C1268.6 645.7 1269.8 647.1 1270.8 647.0C1271.7 646.9 1276.0 644.6 1277.0 644.5C1278.0 644.4 1279.0 645.5 1279.6 645.8C1280.1 646.1 1281.6 646.7 1282.2 647.0C1282.7 647.3 1284.0 648.8 1284.5 648.8C1285.0 648.7 1286.3 647.0 1287.0 647.0C1287.7 647.0 1290.1 648.1 1290.9 648.5C1291.7 648.9 1293.7 650.2 1294.5 650.5C1295.3 650.8 1297.4 651.4 1298.2 651.5C1299.0 651.5 1301.3 651.4 1302.0 651.2C1302.7 651.1 1304.3 650.5 1304.9 650.1C1305.4 649.8 1306.7 648.7 1307.2 648.2C1307.7 647.8 1308.8 646.3 1309.5 646.2C1310.2 646.2 1312.2 647.6 1313.2 647.5C1314.3 647.4 1318.3 645.0 1319.5 645.0C1320.7 645.0 1323.6 647.4 1324.5 647.5C1325.4 647.6 1326.9 646.0 1327.7 645.6C1328.4 645.2 1330.2 644.4 1331.0 644.1C1331.7 643.8 1333.8 643.2 1334.5 643.0C1335.2 642.8 1336.8 642.6 1337.4 642.6C1338.1 642.7 1339.7 643.2 1340.4 643.2C1341.0 643.2 1342.7 642.3 1343.2 642.5C1343.8 642.7 1345.1 644.7 1345.8 645.1C1346.4 645.5 1348.6 645.9 1349.3 646.3C1350.0 646.7 1351.2 648.9 1352.0 648.8C1352.8 648.6 1356.0 645.3 1357.0 645.0C1358.0 644.7 1359.9 646.2 1360.7 646.4C1361.5 646.7 1363.7 647.1 1364.6 647.3C1365.4 647.6 1367.5 648.4 1368.3 648.7C1369.1 649.0 1371.0 650.4 1372.0 650.0C1373.0 649.6 1376.2 645.4 1377.0 645.0C1377.8 644.6 1379.1 646.3 1379.6 646.7C1380.1 647.2 1381.0 648.9 1381.4 649.4C1381.9 649.9 1383.4 651.3 1384.0 651.2C1384.6 651.2 1386.1 649.4 1386.6 648.8C1387.2 648.3 1388.7 646.9 1389.1 646.3C1389.6 645.7 1390.5 643.8 1390.9 643.2C1391.4 642.5 1392.3 640.4 1393.2 640.5C1394.2 640.6 1398.4 643.3 1399.5 643.8C1400.6 644.2 1402.1 644.1 1402.8 644.2C1403.6 644.4 1405.4 645.0 1406.1 645.1C1406.9 645.3 1408.7 645.5 1409.5 645.5C1410.3 645.5 1412.4 644.9 1413.2 645.0C1414.1 645.1 1416.4 646.0 1417.2 646.4C1418.1 646.8 1420.0 648.7 1420.8 648.8C1421.5 648.8 1423.1 647.2 1423.7 646.7C1424.2 646.1 1425.5 644.6 1426.0 644.0C1426.5 643.4 1427.7 641.4 1428.2 641.2C1428.8 641.1 1430.4 642.2 1431.0 642.6C1431.5 642.9 1432.8 644.1 1433.3 644.5C1433.9 644.9 1435.2 646.3 1435.8 646.2C1436.3 646.2 1438.0 644.6 1438.7 644.1C1439.3 643.7 1441.2 643.0 1441.9 642.5C1442.5 642.1 1443.9 640.2 1444.5 640.0C1445.1 639.8 1447.0 640.8 1447.8 641.0C1448.5 641.1 1450.5 640.8 1451.2 640.9C1452.0 641.1 1453.8 642.0 1454.5 642.0C1455.2 642.0 1457.1 641.0 1457.8 640.6C1458.5 640.3 1460.1 639.2 1460.7 638.7C1461.3 638.2 1462.7 636.2 1463.2 636.2C1463.8 636.3 1465.4 638.3 1466.1 638.8C1466.8 639.2 1468.8 640.0 1469.5 640.4C1470.2 640.8 1472.0 641.9 1472.6 642.4C1473.3 642.9 1475.0 644.3 1475.8 644.5C1476.5 644.7 1479.0 644.6 1479.9 644.6C1480.8 644.7 1483.3 645.2 1484.0 645.0C1484.7 644.8 1486.1 643.5 1486.6 642.9C1487.0 642.4 1487.5 640.5 1488.0 640.0C1488.4 639.4 1490.1 638.5 1490.5 637.9C1491.0 637.4 1491.3 635.2 1492.0 635.0C1492.7 634.8 1496.2 636.4 1497.0 636.2C1497.8 636.1 1499.0 634.3 1499.6 633.8C1500.2 633.3 1501.8 631.9 1502.4 631.5C1503.1 631.1 1505.1 629.9 1505.8 630.0C1506.4 630.1 1507.7 631.7 1508.3 632.2C1508.9 632.6 1510.5 633.6 1511.0 634.0C1511.6 634.5 1513.0 635.8 1513.5 636.3C1514.0 636.8 1515.3 638.8 1515.8 638.8C1516.2 638.7 1517.3 636.4 1517.8 635.8C1518.3 635.2 1519.8 633.9 1520.4 633.4C1520.9 632.8 1522.6 631.7 1523.2 631.2C1523.8 630.7 1525.2 628.8 1525.8 628.8C1526.3 628.7 1528.0 629.9 1528.6 630.4C1529.1 630.8 1530.3 632.2 1530.8 632.7C1531.3 633.2 1532.4 634.7 1533.0 635.0C1533.6 635.3 1535.6 635.5 1536.3 635.6C1537.1 635.6 1539.0 635.4 1539.7 635.5C1540.4 635.5 1542.2 636.2 1543.0 636.2C1543.8 636.3 1546.2 635.7 1547.1 635.6C1548.1 635.4 1550.4 635.3 1551.3 635.2C1552.2 635.2 1554.7 634.7 1555.5 635.0C1556.3 635.3 1558.0 637.0 1558.7 637.7C1559.3 638.3 1560.7 640.2 1561.3 640.9C1561.9 641.6 1563.5 643.6 1564.2 643.8C1565.0 643.9 1567.1 642.5 1567.8 642.0C1568.5 641.5 1569.8 639.5 1570.5 639.0C1571.3 638.5 1573.2 638.1 1574.2 637.5C1575.3 636.9 1579.7 633.9 1580.5 633.8C1581.3 633.6 1581.6 635.9 1582.0 636.5C1582.3 637.1 1583.1 638.7 1583.5 639.3C1583.8 639.9 1584.4 641.7 1585.0 642.0C1585.6 642.3 1588.3 641.8 1589.2 641.6C1590.0 641.4 1592.3 640.4 1593.0 640.0C1593.7 639.6 1594.9 638.6 1595.3 638.1C1595.7 637.6 1596.5 636.1 1596.9 635.6C1597.4 635.1 1598.6 633.7 1599.2 633.8C1599.9 633.8 1602.1 635.4 1602.9 635.8C1603.7 636.2 1605.9 637.1 1606.8 637.5C1607.6 637.9 1609.5 639.0 1610.3 639.3C1611.1 639.7 1613.2 640.4 1614.0 640.6C1614.9 640.9 1617.1 641.3 1618.0 641.2C1618.9 641.2 1621.1 640.4 1621.9 640.0C1622.7 639.5 1624.5 637.8 1625.3 637.4C1626.1 637.0 1628.4 636.5 1629.2 636.2C1630.1 636.0 1632.1 635.4 1633.0 635.2C1633.8 635.0 1635.9 634.7 1636.7 634.6C1637.6 634.4 1639.7 633.7 1640.5 633.8C1641.3 633.8 1643.5 634.8 1644.4 635.2C1645.2 635.6 1647.0 637.0 1647.8 637.4C1648.7 637.8 1650.6 639.0 1651.8 638.8C1652.9 638.5 1657.1 635.0 1658.0 635.0C1658.9 635.0 1659.8 637.7 1660.3 638.5C1660.8 639.3 1661.9 641.8 1662.5 642.0C1663.1 642.2 1665.1 640.8 1665.6 640.2C1666.2 639.6 1666.8 637.4 1667.3 636.8C1667.9 636.2 1669.9 634.9 1670.5 635.0C1671.1 635.1 1672.0 637.1 1672.6 637.5C1673.1 638.0 1675.1 638.5 1675.6 638.9C1676.2 639.4 1677.1 641.1 1677.6 641.6C1678.1 642.1 1679.5 643.8 1680.0 643.8C1680.5 643.7 1681.4 641.3 1681.9 640.7C1682.4 640.1 1683.9 638.8 1684.5 638.3C1685.1 637.7 1686.5 636.4 1687.1 635.8C1687.6 635.2 1688.7 633.0 1689.2 633.0C1689.8 633.0 1691.1 635.1 1691.8 635.5C1692.5 635.9 1694.8 635.9 1695.5 636.3C1696.1 636.6 1697.4 638.5 1698.0 638.8C1698.6 639.0 1700.6 638.8 1701.3 638.8C1702.1 638.8 1704.0 638.6 1704.7 638.7C1705.4 638.7 1707.3 639.1 1708.0 639.5C1708.7 639.9 1710.0 641.6 1710.7 642.0C1711.4 642.5 1713.5 643.1 1714.2 643.6C1714.8 644.0 1716.1 646.2 1716.8 646.2C1717.4 646.3 1719.1 644.3 1719.9 643.9C1720.6 643.6 1722.9 643.2 1723.6 642.8C1724.4 642.4 1726.0 640.6 1726.8 640.5C1727.5 640.4 1729.6 641.7 1730.3 642.2C1730.9 642.7 1732.0 644.9 1732.7 645.5C1733.3 646.0 1735.6 646.5 1736.3 647.0C1737.1 647.4 1738.6 649.4 1739.2 649.5C1739.9 649.6 1741.6 648.2 1742.0 647.6C1742.4 647.1 1742.8 645.0 1743.2 644.3C1743.6 643.7 1744.8 642.4 1745.4 642.0C1745.9 641.5 1747.4 639.9 1748.0 640.0C1748.6 640.1 1750.3 642.3 1750.9 642.9C1751.6 643.5 1753.4 645.0 1754.0 645.6C1754.7 646.3 1756.0 648.6 1756.8 648.8C1757.5 648.9 1759.8 647.7 1760.6 647.3C1761.4 646.9 1763.3 645.5 1764.1 645.1C1764.9 644.8 1767.2 644.0 1768.0 643.8C1768.8 643.5 1770.6 643.4 1771.3 643.2C1772.0 643.1 1773.9 642.6 1774.6 642.5C1775.3 642.5 1777.2 642.8 1778.0 643.0C1778.8 643.2 1781.1 643.7 1782.0 643.9C1782.8 644.2 1785.0 644.9 1785.8 645.3C1786.6 645.7 1788.5 647.5 1789.2 647.5C1790.0 647.5 1791.8 645.8 1792.6 645.4C1793.3 645.0 1795.5 644.3 1796.2 643.8C1797.0 643.4 1798.7 641.2 1799.2 641.2C1799.8 641.3 1800.4 643.7 1800.8 644.4C1801.1 645.1 1802.3 646.7 1802.6 647.4C1803.0 648.1 1803.7 649.9 1804.0 650.6C1804.3 651.3 1805.0 653.6 1805.5 653.8C1806.0 653.9 1808.2 652.4 1808.8 652.0C1809.5 651.5 1810.7 649.8 1811.8 649.5C1812.8 649.2 1817.3 649.5 1818.0 649.5"/>
<path class="c" stroke="#000000" d="M153.0 511.2C153.4 511.2 155.3 511.2 156.2 511.2C157.2 511.3 160.5 511.6 161.2 512.0C162.0 512.4 163.0 514.5 163.3 515.3C163.7 516.1 164.0 518.3 164.4 519.1C164.7 519.9 165.7 522.4 166.2 522.5C166.8 522.6 168.3 520.2 169.0 519.6C169.6 519.0 171.3 517.1 172.0 517.0C172.7 516.9 174.4 518.4 175.0 518.9C175.5 519.4 176.8 521.0 177.3 521.5C177.9 522.0 179.4 523.8 180.0 523.8C180.6 523.7 181.9 521.8 182.5 521.2C183.0 520.7 184.4 519.3 185.0 518.7C185.5 518.2 187.0 516.2 187.5 516.2C188.0 516.3 189.0 518.8 189.4 519.5C189.9 520.2 191.1 522.0 191.6 522.7C192.0 523.4 193.1 525.3 193.4 526.0C193.8 526.8 194.6 529.3 195.0 529.5C195.4 529.7 196.8 528.1 197.3 527.6C197.7 527.1 198.5 525.6 199.0 525.1C199.4 524.7 200.8 523.1 201.2 523.2C201.7 523.4 202.4 525.7 202.7 526.4C203.0 527.1 203.9 528.9 204.2 529.6C204.6 530.3 205.4 532.1 205.8 532.7C206.2 533.4 207.5 535.3 208.0 535.5C208.5 535.7 210.3 535.0 210.8 534.7C211.4 534.3 212.3 532.7 212.8 532.3C213.3 531.9 214.4 531.2 215.5 531.2C216.6 531.3 221.4 532.2 222.5 532.5C223.6 532.8 224.6 533.6 225.1 534.0C225.6 534.5 226.5 536.0 226.9 536.4C227.4 536.9 228.9 537.9 229.5 538.0C230.1 538.1 231.9 537.7 232.6 537.5C233.3 537.4 234.9 536.5 235.6 536.4C236.3 536.3 238.1 536.0 238.8 536.2C239.4 536.5 240.8 538.3 241.4 538.8C242.0 539.4 243.4 540.9 244.0 541.4C244.6 542.0 246.2 543.3 246.9 543.8C247.5 544.2 249.3 545.7 250.0 545.8C250.7 545.8 252.5 544.5 253.2 544.3C253.9 544.0 255.8 543.5 256.6 543.3C257.3 543.1 259.3 542.4 260.0 542.5C260.7 542.6 262.7 543.3 263.3 543.8C263.9 544.3 264.8 546.4 265.4 546.9C266.0 547.4 268.1 548.3 268.8 548.2C269.4 548.2 270.8 546.9 271.5 546.6C272.2 546.4 274.1 546.3 274.7 546.1C275.4 545.8 276.8 544.5 277.5 544.5C278.2 544.5 280.1 545.6 280.8 546.0C281.5 546.3 283.4 547.2 284.1 547.5C284.8 547.8 286.8 548.4 287.5 548.8C288.2 549.1 289.9 550.0 290.6 550.4C291.2 550.8 292.8 552.1 293.5 552.5C294.1 552.9 296.0 553.5 296.7 553.8C297.5 554.1 299.3 554.7 300.0 555.1C300.7 555.4 302.5 557.1 303.0 557.0C303.5 556.9 304.0 554.7 304.5 554.1C304.9 553.6 306.3 552.5 306.8 552.0C307.3 551.5 307.8 549.6 308.8 549.5C309.7 549.4 313.8 550.7 315.0 550.8C316.2 550.8 318.9 549.9 320.0 550.0C321.1 550.1 324.1 551.6 325.0 551.8C325.9 551.9 327.7 552.0 328.4 551.8C329.2 551.6 330.9 550.3 331.6 550.1C332.3 549.9 334.3 550.2 335.0 550.0C335.7 549.8 337.4 548.8 338.1 548.4C338.7 548.0 340.3 546.9 340.9 546.5C341.6 546.1 343.1 544.4 343.8 544.5C344.4 544.6 346.0 546.4 346.6 547.0C347.2 547.6 348.6 549.2 349.1 549.9C349.6 550.5 350.6 552.7 351.2 553.0C351.9 553.3 354.2 552.7 355.1 552.5C355.9 552.3 357.9 551.6 358.7 551.4C359.6 551.2 361.8 551.0 362.5 550.8C363.2 550.5 364.8 549.3 365.4 549.0C366.1 548.6 367.9 547.8 368.5 547.4C369.1 547.0 370.5 545.6 371.2 545.3C371.9 544.9 374.0 544.7 374.6 544.4C375.3 544.1 376.8 542.5 377.5 542.5C378.2 542.5 380.4 544.0 381.2 544.5C382.0 544.9 384.1 545.8 385.0 546.2C385.8 546.6 388.0 548.0 388.8 548.0C389.5 548.0 390.8 546.2 391.5 545.9C392.1 545.5 394.0 544.8 394.7 544.5C395.4 544.1 397.0 543.0 397.6 542.6C398.2 542.1 399.6 540.7 400.2 540.3C400.8 539.8 402.4 538.3 403.0 538.2C403.6 538.2 404.9 539.6 405.4 540.1C405.9 540.6 406.9 541.9 407.2 542.4C407.6 542.9 408.3 545.1 408.8 545.0C409.2 544.9 410.6 542.4 411.1 541.7C411.7 541.0 413.1 539.3 413.8 538.7C414.4 538.1 416.4 536.2 417.0 536.2C417.6 536.3 418.6 538.7 419.1 539.3C419.6 539.9 420.9 541.5 421.4 542.1C422.0 542.7 423.2 544.8 423.8 545.0C424.3 545.2 425.9 543.7 426.5 543.6C427.2 543.4 429.1 543.8 429.8 543.6C430.4 543.4 431.8 542.1 432.5 542.0C433.2 541.9 435.2 542.2 435.9 542.3C436.7 542.4 438.6 542.6 439.4 542.7C440.1 542.7 442.0 542.9 442.8 542.9C443.6 542.8 445.6 542.3 446.2 542.5C446.9 542.7 448.3 543.9 448.9 544.2C449.5 544.6 451.1 545.2 451.7 545.5C452.4 545.8 453.8 547.1 454.5 547.0C455.2 546.9 457.4 545.7 458.0 545.1C458.7 544.5 459.7 542.2 460.3 541.6C460.9 541.0 463.0 539.4 463.8 539.5C464.5 539.6 466.1 541.5 466.7 542.0C467.4 542.6 468.9 544.1 469.7 544.6C470.4 545.1 472.4 546.0 473.1 546.4C473.9 546.9 475.7 548.8 476.2 548.8C476.8 548.7 478.1 547.0 478.5 546.4C478.9 545.8 479.3 543.8 479.6 543.2C480.0 542.6 481.3 541.3 481.8 540.8C482.2 540.3 483.3 538.3 483.8 538.2C484.2 538.2 485.8 539.7 486.3 540.2C486.8 540.7 488.0 542.0 488.5 542.5C488.9 543.0 490.0 544.5 490.5 545.0C491.0 545.5 492.4 547.1 493.0 547.0C493.6 546.9 495.4 544.9 496.1 544.4C496.8 543.9 498.9 542.9 499.7 542.5C500.5 542.1 502.7 541.5 503.5 541.0C504.2 540.5 505.7 538.7 506.4 538.1C507.2 537.6 509.0 536.7 510.0 536.2C511.0 535.8 514.5 534.8 515.5 534.5C516.5 534.2 518.2 533.5 519.0 533.4C519.9 533.4 522.0 534.3 522.9 534.2C523.7 534.2 525.6 533.3 526.4 533.1C527.2 532.9 529.3 532.9 530.0 532.5C530.7 532.1 531.9 529.5 532.5 529.2C533.1 529.0 534.8 529.8 535.4 530.1C535.9 530.5 536.9 531.9 537.4 532.3C538.0 532.7 539.4 533.9 540.0 533.8C540.6 533.6 541.9 531.7 542.5 531.1C543.1 530.6 544.6 529.4 545.3 529.0C546.0 528.6 548.0 527.9 548.7 527.5C549.3 527.0 550.7 525.1 551.2 525.0C551.8 524.9 553.4 526.0 554.1 526.2C554.7 526.4 556.5 526.7 557.1 526.9C557.8 527.1 559.3 527.9 560.0 528.0C560.7 528.1 562.6 527.8 563.3 527.7C564.1 527.6 565.9 527.5 566.7 527.4C567.4 527.3 569.3 527.3 570.0 527.0C570.7 526.7 572.6 525.5 573.3 525.0C574.0 524.6 575.6 523.1 576.4 522.6C577.1 522.2 579.3 521.2 580.0 521.2C580.7 521.3 582.1 522.9 582.7 523.3C583.3 523.7 585.0 524.6 585.6 524.9C586.3 525.3 588.1 526.3 588.8 526.2C589.4 526.2 590.9 524.8 591.5 524.5C592.1 524.1 593.7 523.1 594.3 522.8C594.9 522.4 596.6 521.7 597.3 521.3C597.9 521.0 599.3 519.9 600.0 519.5C600.7 519.1 602.9 518.4 603.7 518.1C604.5 517.8 606.5 516.9 607.3 516.6C608.1 516.3 610.2 515.5 611.0 515.4C611.8 515.3 614.0 515.6 614.8 515.5C615.6 515.4 617.7 514.6 618.5 514.5C619.3 514.4 621.5 514.6 622.3 514.5C623.2 514.3 625.2 514.0 626.0 513.2C626.8 512.5 629.0 508.9 629.8 508.0C630.5 507.1 631.9 505.9 632.6 505.4C633.3 505.0 635.2 504.6 636.0 503.8C636.8 502.9 638.9 498.5 639.8 498.0C640.6 497.5 642.8 498.5 643.7 498.8C644.5 499.1 646.7 500.7 647.2 500.5C647.8 500.3 648.4 498.0 648.7 497.3C649.0 496.6 649.7 494.7 649.9 494.0C650.1 493.3 650.5 491.3 650.6 490.5C650.7 489.8 650.8 487.8 651.0 487.0C651.1 486.3 651.8 484.1 652.2 483.8C652.7 483.4 654.7 483.5 655.3 483.7C655.9 483.9 657.4 485.2 658.0 485.4C658.6 485.6 660.3 485.7 661.0 485.5C661.7 485.3 663.4 483.9 664.0 483.3C664.5 482.8 665.8 481.1 666.3 480.5C666.8 479.9 668.2 478.5 668.8 477.9C669.3 477.3 670.5 475.6 671.0 475.0C671.5 474.4 673.0 473.2 673.4 472.6C673.7 471.9 674.2 470.0 674.5 469.4C674.9 468.8 676.4 467.5 676.8 466.9C677.2 466.3 677.1 464.0 678.0 463.8C678.9 463.5 683.9 464.8 684.8 464.5C685.6 464.2 685.8 461.9 686.1 461.2C686.4 460.4 687.1 458.5 687.5 457.9C687.9 457.2 688.8 454.9 689.8 455.0C690.7 455.1 695.2 458.7 696.0 458.8C696.8 458.8 697.1 456.0 697.3 455.3C697.5 454.5 697.7 452.4 697.9 451.6C698.0 450.8 698.7 448.9 698.8 448.1C698.9 447.3 698.5 445.1 698.6 444.3C698.7 443.4 699.4 441.5 699.6 440.7C699.9 439.9 700.7 438.0 700.8 437.2C700.9 436.4 700.7 434.2 700.8 433.5C701.0 432.7 701.3 430.4 702.2 430.0C703.2 429.6 708.8 430.4 709.8 430.0C710.7 429.6 710.3 427.2 710.5 426.4C710.7 425.7 711.6 423.8 711.9 423.0C712.2 422.3 713.1 420.4 713.4 419.7C713.6 418.9 713.9 416.9 714.1 416.1C714.2 415.3 714.4 413.2 714.8 412.5C715.1 411.8 716.9 410.4 717.6 409.9C718.2 409.3 719.8 407.9 720.5 407.4C721.1 406.9 723.1 405.6 723.5 405.0C723.9 404.4 724.3 402.5 724.5 401.8C724.8 401.1 725.6 399.3 725.8 398.6C726.1 397.9 727.1 396.2 727.2 395.5C727.3 394.7 726.7 392.5 726.8 391.8C726.9 391.0 728.0 389.4 728.5 388.8C729.0 388.1 730.7 386.6 731.2 386.0C731.7 385.3 732.9 383.5 733.2 382.8C733.6 382.0 734.1 379.7 734.5 379.0C734.9 378.3 736.9 377.0 737.2 376.2C737.6 375.5 737.7 373.0 737.8 372.1C738.0 371.2 738.6 368.9 738.8 368.0C739.0 367.2 739.4 364.9 739.6 364.0C739.9 363.1 740.7 360.7 741.0 360.0C741.3 359.3 741.9 357.8 742.2 357.2C742.6 356.6 743.5 355.2 743.9 354.7C744.3 354.2 745.7 353.1 746.0 352.5C746.3 351.9 746.9 349.8 747.0 349.1C747.2 348.3 747.3 346.3 747.4 345.5C747.5 344.7 747.4 342.6 747.7 341.9C747.9 341.1 749.3 339.4 749.5 338.6C749.7 337.9 749.5 335.8 749.8 335.0C750.0 334.2 751.2 332.2 751.5 331.4C751.7 330.6 751.6 328.2 751.9 327.4C752.2 326.6 753.7 324.7 754.0 323.9C754.3 323.1 754.5 320.8 754.8 320.0C755.0 319.2 755.9 317.2 756.1 316.4C756.3 315.5 756.6 313.4 756.7 312.5C756.8 311.7 756.8 309.4 757.0 308.6C757.2 307.8 758.2 305.8 758.5 305.0C758.8 304.2 759.4 302.1 759.6 301.3C759.9 300.5 760.5 298.4 760.7 297.6C760.9 296.8 761.4 294.7 761.6 293.9C761.8 293.1 762.4 291.0 762.5 290.1C762.6 289.3 762.1 287.0 762.2 286.1C762.3 285.3 763.2 283.3 763.5 282.5C763.8 281.7 764.8 279.9 764.8 279.1C764.9 278.3 764.1 276.1 764.2 275.2C764.2 274.4 765.0 272.5 765.2 271.7C765.4 271.0 765.9 269.0 766.1 268.2C766.3 267.4 766.8 265.5 766.9 264.7C767.1 263.9 767.3 261.9 767.4 261.1C767.5 260.3 767.8 258.3 768.0 257.5C768.2 256.7 769.1 254.8 769.3 254.0C769.5 253.2 769.7 251.1 769.8 250.3C770.0 249.5 770.5 247.5 770.7 246.7C770.8 245.9 771.0 243.8 771.1 243.0C771.2 242.2 771.5 240.1 771.5 239.3C771.6 238.5 771.4 236.3 771.6 235.5C771.7 234.7 772.6 231.8 773.0 232.0C773.4 232.2 775.1 236.8 775.5 237.0C775.9 237.2 776.3 234.2 776.5 233.4C776.7 232.6 777.6 230.6 777.7 229.8C777.8 229.0 777.2 226.7 777.4 225.9C777.6 225.1 779.2 223.3 779.4 222.4C779.5 221.6 778.6 219.3 778.7 218.5C778.8 217.6 779.8 215.7 780.1 214.9C780.3 214.1 780.8 212.1 781.0 211.2C781.2 210.4 782.1 208.3 782.3 207.4C782.5 206.5 783.0 204.3 783.2 203.4C783.4 202.6 783.8 200.3 783.9 199.5C784.1 198.6 784.5 196.2 784.8 195.5C785.0 194.8 786.0 193.3 786.4 192.7C786.7 192.1 787.8 190.6 788.2 190.0C788.6 189.4 789.5 187.9 789.9 187.3C790.4 186.8 791.7 184.9 792.2 185.0C792.8 185.1 794.0 187.8 794.6 188.5C795.2 189.1 797.3 190.5 797.8 191.2C798.4 192.0 799.4 195.0 799.8 195.0C800.1 195.0 800.5 192.1 800.9 191.4C801.3 190.7 803.0 189.2 803.4 188.5C803.8 187.8 803.9 185.1 804.8 185.0C805.6 184.9 810.0 187.8 811.0 187.5C812.0 187.2 813.1 183.5 813.5 182.5C813.9 181.5 814.2 179.3 814.4 178.4C814.5 177.5 814.5 175.1 814.7 174.2C814.9 173.3 815.9 171.2 816.2 170.3C816.5 169.4 816.9 167.0 817.2 166.2C817.6 165.5 819.3 164.5 819.7 163.9C820.1 163.3 820.7 161.4 821.1 160.8C821.5 160.1 822.2 158.5 823.0 158.0C823.8 157.5 827.2 156.1 828.5 156.2C829.8 156.4 833.7 158.9 834.8 159.5C835.8 160.1 837.4 161.4 838.1 162.0C838.8 162.6 840.1 164.1 841.0 165.0C841.9 165.9 845.3 169.1 846.0 170.0C846.7 170.9 847.0 172.3 847.2 173.0C847.3 173.7 847.1 175.6 847.3 176.2C847.4 176.9 848.1 178.6 848.3 179.3C848.4 180.0 848.3 181.8 848.5 182.5C848.7 183.2 850.0 185.1 850.5 185.9C850.9 186.6 852.1 188.4 852.4 189.2C852.8 190.0 852.8 192.8 853.5 193.0C854.2 193.2 857.3 191.7 858.5 191.2C859.7 190.8 863.2 188.7 864.0 188.8C864.8 188.8 865.1 191.4 865.4 192.1C865.6 192.9 866.3 194.9 866.6 195.6C866.9 196.3 868.2 198.0 868.5 198.8C868.8 199.5 869.5 201.4 869.7 202.2C870.0 203.0 870.5 204.9 870.8 205.7C871.2 206.4 872.3 208.2 872.5 209.0C872.8 209.7 872.8 211.6 873.5 212.5C874.2 213.4 877.7 217.2 878.5 217.5C879.3 217.8 880.4 215.5 880.7 214.8C881.0 214.2 881.0 212.0 881.3 211.4C881.7 210.7 883.4 209.4 883.7 208.8C884.1 208.1 884.4 205.6 884.8 205.5C885.1 205.4 886.6 207.4 887.0 208.0C887.3 208.7 887.4 210.7 887.7 211.4C887.9 212.1 888.6 213.8 888.9 214.4C889.3 215.0 890.6 217.1 891.0 217.0C891.4 216.9 892.5 214.3 892.8 213.5C893.2 212.7 893.8 210.5 894.1 209.7C894.4 208.9 895.3 206.9 895.8 206.1C896.3 205.4 898.2 203.9 898.7 203.1C899.1 202.4 899.6 199.3 899.8 199.2C899.9 199.2 899.6 202.1 899.8 202.8C900.0 203.5 901.4 205.2 901.6 206.0C901.9 206.7 902.1 208.7 902.1 209.4C902.2 210.2 902.1 212.2 902.3 213.0C902.4 213.7 903.3 215.5 903.5 216.2C903.7 217.0 903.6 219.1 903.9 219.8C904.2 220.6 905.8 222.2 906.1 222.9C906.3 223.7 906.1 225.8 906.2 226.6C906.4 227.4 906.9 229.4 907.2 230.0C907.6 230.6 909.1 231.4 909.6 231.8C910.1 232.2 911.4 233.2 911.9 233.7C912.3 234.2 913.2 235.6 913.5 236.2C913.8 236.9 914.1 239.0 914.4 239.8C914.6 240.5 915.4 242.4 915.8 243.1C916.1 243.9 917.0 245.7 917.3 246.4C917.5 247.2 917.9 249.3 918.0 250.0C918.1 250.7 918.2 252.5 918.4 253.2C918.6 253.9 919.5 255.5 919.8 256.2C920.0 256.9 920.5 258.6 920.6 259.3C920.7 260.0 920.4 261.9 921.0 262.5C921.6 263.1 925.6 264.5 926.5 265.0C927.4 265.5 928.9 266.7 929.6 267.3C930.2 267.8 931.8 269.3 932.2 270.0C932.7 270.7 933.3 273.0 933.4 273.9C933.6 274.8 933.1 277.2 933.2 278.1C933.4 279.0 934.6 281.1 934.8 282.0C934.9 282.8 934.5 285.2 934.6 286.1C934.7 287.0 935.8 289.2 936.0 290.0C936.2 290.8 936.3 293.0 936.5 293.8C936.6 294.6 937.3 296.7 937.4 297.5C937.6 298.3 937.5 300.5 937.7 301.4C937.9 302.2 938.9 304.2 939.2 305.0C939.5 305.8 940.3 307.8 940.4 308.6C940.6 309.4 940.0 311.5 940.5 312.5C941.0 313.5 944.1 316.6 944.8 317.5C945.4 318.4 945.8 319.9 946.2 320.5C946.6 321.1 948.3 322.4 948.7 323.0C949.0 323.6 949.6 325.5 949.8 326.2C949.9 327.0 950.0 329.3 950.1 330.2C950.3 331.0 950.8 333.1 951.1 333.9C951.4 334.7 952.5 336.7 952.9 337.5C953.3 338.2 954.1 340.3 954.3 341.1C954.5 341.9 954.7 344.1 954.8 345.0C954.8 345.9 954.7 348.1 954.9 348.9C955.1 349.7 956.6 351.6 956.8 352.4C957.0 353.2 956.4 355.6 956.6 356.4C956.7 357.2 957.9 359.2 958.1 360.0C958.3 360.8 958.2 363.0 958.4 363.9C958.5 364.7 959.0 366.6 959.8 367.5C960.5 368.4 964.1 371.5 964.8 372.5C965.4 373.5 964.9 375.4 965.2 376.2C965.5 376.9 966.9 378.6 967.3 379.4C967.6 380.1 967.8 382.1 968.0 382.9C968.2 383.7 968.7 385.7 968.8 386.5C969.0 387.2 969.5 389.2 969.8 390.0C970.0 390.8 970.8 392.8 970.8 393.7C970.9 394.5 970.2 396.8 970.4 397.6C970.5 398.4 971.8 400.4 972.1 401.2C972.3 402.0 972.1 404.2 972.2 405.0C972.4 405.8 973.4 407.4 973.6 408.1C973.9 408.8 974.5 410.6 974.7 411.4C974.9 412.1 975.6 413.9 975.7 414.6C975.9 415.3 975.6 417.4 975.8 418.1C976.0 418.9 976.4 421.2 977.2 421.2C978.1 421.3 982.5 418.6 983.5 418.8C984.5 418.9 985.6 421.6 986.0 422.5C986.4 423.4 987.0 425.6 987.2 426.5C987.3 427.4 987.1 429.8 987.3 430.7C987.5 431.6 988.6 433.8 988.7 434.7C988.8 435.6 988.3 438.1 988.4 439.0C988.4 439.9 989.0 442.2 989.2 443.1C989.3 444.0 989.4 446.4 989.6 447.3C989.8 448.2 990.4 450.8 991.0 451.2C991.6 451.7 994.0 451.1 994.9 451.2C995.7 451.4 997.8 452.1 998.5 452.5C999.2 452.9 1000.3 454.6 1000.8 455.2C1001.3 455.8 1002.7 457.2 1003.3 457.7C1003.8 458.3 1005.3 459.1 1006.0 460.0C1006.7 460.9 1008.9 465.4 1009.8 466.2C1010.6 467.1 1012.9 467.0 1013.5 467.5C1014.1 468.0 1015.2 469.8 1015.6 470.5C1016.0 471.2 1016.6 473.2 1017.0 473.9C1017.4 474.6 1018.9 476.1 1019.4 476.7C1019.8 477.4 1020.1 480.1 1021.0 480.0C1021.9 479.9 1026.4 476.3 1027.2 476.2C1028.1 476.2 1028.4 479.0 1028.7 479.7C1029.0 480.5 1029.6 482.6 1029.9 483.3C1030.2 484.1 1031.1 486.0 1031.5 486.8C1031.9 487.5 1032.7 489.1 1033.5 490.0C1034.3 490.9 1037.6 494.5 1038.5 495.0C1039.4 495.5 1040.7 494.5 1041.4 494.3C1042.0 494.2 1043.6 493.9 1044.3 493.8C1044.9 493.7 1046.4 493.9 1047.2 493.8C1048.1 493.6 1051.5 492.4 1052.2 492.5C1053.0 492.6 1053.4 494.6 1053.9 495.1C1054.3 495.5 1056.2 496.0 1056.7 496.4C1057.2 496.8 1057.8 498.2 1058.5 498.8C1059.2 499.3 1062.7 500.6 1063.5 501.2C1064.3 501.9 1065.5 503.7 1066.0 504.3C1066.6 505.0 1067.8 507.2 1068.5 507.5C1069.2 507.8 1071.1 507.7 1072.0 507.5C1072.9 507.3 1075.5 505.2 1076.5 505.5C1077.5 505.8 1079.7 509.3 1080.8 510.0C1081.8 510.7 1084.9 512.5 1085.8 512.0C1086.6 511.4 1087.4 505.6 1088.2 505.0C1089.1 504.4 1092.5 506.4 1093.2 507.0C1094.0 507.6 1094.5 509.5 1094.8 510.2C1095.1 510.9 1096.0 512.7 1096.3 513.4C1096.6 514.1 1097.2 516.0 1097.5 516.8C1097.8 517.5 1098.6 519.9 1099.0 520.0C1099.4 520.1 1100.4 518.0 1100.9 517.5C1101.4 517.0 1102.9 516.2 1103.5 515.8C1104.0 515.4 1105.1 513.7 1105.8 513.8C1106.4 513.8 1108.6 515.4 1109.4 515.9C1110.2 516.3 1112.5 517.3 1113.2 517.5C1114.0 517.7 1115.6 517.9 1116.2 517.9C1116.8 517.8 1118.4 517.2 1119.1 517.2C1119.7 517.1 1121.4 516.7 1122.0 517.0C1122.6 517.3 1124.2 519.2 1124.8 519.8C1125.4 520.5 1126.7 522.3 1127.3 523.0C1127.8 523.7 1128.9 525.7 1129.5 526.2C1130.1 526.8 1131.7 527.4 1132.3 527.8C1132.9 528.2 1134.3 529.2 1134.8 529.7C1135.3 530.1 1136.5 532.1 1137.0 532.0C1137.5 531.9 1138.6 529.4 1139.1 528.7C1139.6 528.0 1141.0 526.2 1141.5 525.6C1142.1 524.9 1143.5 522.4 1144.0 522.5C1144.5 522.6 1145.2 525.4 1145.7 526.2C1146.2 527.0 1147.6 528.7 1148.2 529.4C1148.7 530.1 1150.1 532.2 1150.8 532.5C1151.4 532.8 1153.3 532.1 1153.9 531.8C1154.6 531.6 1156.0 530.3 1156.6 530.0C1157.2 529.6 1158.8 528.9 1159.5 528.8C1160.2 528.6 1162.4 528.3 1163.2 528.3C1164.1 528.3 1166.2 528.8 1167.0 528.9C1167.8 528.9 1170.0 528.6 1170.8 528.8C1171.5 528.9 1173.0 529.8 1173.6 530.1C1174.2 530.4 1175.7 531.4 1176.3 531.6C1177.0 531.8 1178.9 531.7 1179.5 532.0C1180.1 532.3 1181.4 533.8 1181.8 534.4C1182.2 535.0 1182.8 536.8 1183.2 537.5C1183.5 538.1 1184.5 539.7 1185.0 540.3C1185.4 540.8 1187.0 542.5 1187.5 542.5C1188.0 542.5 1189.2 541.1 1189.7 540.7C1190.3 540.3 1191.7 539.5 1192.2 539.2C1192.7 538.8 1193.9 537.8 1194.5 537.5C1195.1 537.2 1197.0 536.6 1197.8 536.5C1198.5 536.4 1200.5 536.9 1201.2 536.9C1201.9 536.9 1203.6 535.8 1204.5 536.2C1205.4 536.7 1208.7 541.0 1209.5 541.2C1210.3 541.5 1210.9 538.8 1211.5 538.3C1212.1 537.8 1214.2 537.0 1214.8 536.5C1215.4 536.0 1216.6 533.7 1217.0 533.8C1217.4 533.8 1218.0 536.3 1218.3 537.0C1218.6 537.7 1219.5 539.5 1219.9 540.2C1220.3 540.8 1221.5 543.0 1222.0 543.0C1222.5 543.0 1224.4 541.1 1224.9 540.4C1225.4 539.7 1226.0 537.3 1226.5 536.7C1227.1 536.1 1229.3 535.2 1229.9 534.6C1230.5 534.0 1231.2 531.6 1232.0 531.2C1232.8 530.9 1236.2 530.9 1237.0 531.2C1237.8 531.6 1238.8 533.7 1239.3 534.4C1239.8 535.1 1241.0 536.9 1241.5 537.6C1242.0 538.2 1243.4 539.9 1244.0 540.5C1244.6 541.1 1246.4 543.0 1247.0 543.0C1247.6 543.0 1248.9 540.9 1249.5 540.3C1250.1 539.8 1251.8 538.6 1252.4 538.0C1252.9 537.4 1253.9 535.0 1254.5 535.0C1255.1 535.0 1257.0 536.9 1257.5 537.6C1258.0 538.3 1258.8 540.6 1259.3 541.3C1259.9 542.0 1261.9 543.7 1262.5 543.8C1263.1 543.8 1264.5 541.9 1265.0 541.4C1265.6 540.9 1267.0 539.6 1267.5 539.1C1268.0 538.5 1268.6 536.4 1269.5 536.2C1270.4 536.1 1274.7 537.9 1275.8 537.5C1276.8 537.1 1278.8 532.9 1279.5 532.5C1280.2 532.1 1281.4 533.8 1282.0 534.2C1282.5 534.6 1283.9 535.6 1284.4 535.9C1285.0 536.3 1286.2 537.5 1287.0 537.5C1287.8 537.5 1291.1 536.2 1292.0 536.2C1292.9 536.3 1294.5 537.2 1295.1 537.6C1295.7 538.0 1297.0 539.6 1297.6 540.0C1298.2 540.4 1300.2 541.4 1300.8 541.2C1301.3 541.1 1302.6 539.6 1303.0 539.0C1303.5 538.5 1304.5 537.0 1305.0 536.5C1305.4 536.0 1307.1 534.4 1307.5 534.5C1307.9 534.6 1308.4 537.1 1308.8 537.8C1309.1 538.5 1310.2 540.1 1310.6 540.8C1311.0 541.5 1312.1 543.1 1312.5 543.8C1312.8 544.5 1313.4 546.6 1314.0 547.0C1314.6 547.4 1317.1 547.7 1318.0 547.7C1318.9 547.8 1321.3 547.8 1322.0 547.5C1322.7 547.2 1323.8 545.4 1324.4 544.9C1325.0 544.4 1326.6 543.2 1327.2 542.7C1327.7 542.1 1328.7 539.7 1329.5 540.0C1330.3 540.3 1333.6 544.7 1334.5 545.0C1335.4 545.3 1336.8 543.1 1337.4 542.5C1338.0 542.0 1339.4 540.4 1340.0 539.8C1340.6 539.3 1342.2 537.9 1342.8 537.3C1343.4 536.8 1345.2 535.0 1345.8 535.0C1346.3 535.0 1347.1 536.8 1347.6 537.2C1348.0 537.6 1349.5 538.4 1349.9 538.8C1350.4 539.3 1350.9 541.0 1351.5 541.2C1352.1 541.5 1354.3 541.0 1355.0 541.0C1355.8 541.0 1357.8 541.4 1358.5 541.5C1359.3 541.6 1361.4 542.2 1362.0 542.0C1362.6 541.8 1363.6 540.0 1363.9 539.4C1364.3 538.8 1364.6 536.9 1364.9 536.3C1365.3 535.6 1366.4 534.0 1367.0 533.8C1367.6 533.5 1370.0 533.7 1370.8 533.6C1371.6 533.4 1373.6 532.5 1374.5 532.3C1375.3 532.2 1377.5 531.7 1378.2 532.0C1379.0 532.3 1380.3 534.5 1381.0 535.0C1381.6 535.6 1383.6 536.9 1384.5 537.0C1385.4 537.1 1388.5 536.2 1389.5 536.2C1390.5 536.3 1392.5 537.4 1393.3 537.9C1394.1 538.3 1395.7 540.4 1396.5 540.5C1397.3 540.6 1399.4 539.3 1400.2 538.8C1400.9 538.4 1402.5 536.5 1403.2 536.2C1404.0 536.0 1405.8 536.9 1406.5 537.0C1407.3 537.1 1409.1 537.2 1409.9 537.2C1410.6 537.2 1412.6 537.3 1413.2 537.0C1413.9 536.7 1415.4 535.0 1415.9 534.4C1416.4 533.8 1417.5 531.9 1418.0 531.3C1418.6 530.7 1420.3 528.7 1420.8 528.8C1421.2 528.8 1421.9 531.4 1422.5 531.9C1423.0 532.5 1425.0 533.4 1425.6 534.0C1426.1 534.5 1427.1 537.0 1427.5 537.0C1427.9 537.0 1429.1 534.8 1429.5 534.2C1429.9 533.5 1430.6 531.6 1430.9 530.9C1431.2 530.2 1431.8 528.3 1432.2 527.7C1432.6 527.0 1433.9 525.0 1434.5 525.0C1435.1 525.0 1437.0 527.0 1437.7 527.7C1438.4 528.3 1440.0 530.4 1440.8 530.5C1441.5 530.6 1443.6 529.1 1444.4 528.8C1445.2 528.6 1447.6 528.4 1448.4 528.1C1449.2 527.8 1451.2 526.4 1452.0 526.2C1452.8 526.1 1455.1 526.8 1455.9 527.1C1456.7 527.4 1458.9 528.9 1459.5 528.8C1460.1 528.6 1461.4 526.6 1461.8 525.9C1462.1 525.2 1462.3 522.9 1462.6 522.1C1463.0 521.4 1464.1 519.7 1464.6 519.1C1465.1 518.4 1466.4 516.8 1467.0 516.2C1467.6 515.7 1469.0 514.4 1469.6 513.9C1470.2 513.4 1471.9 512.3 1472.5 511.7C1473.0 511.1 1474.1 509.3 1474.5 508.8C1474.9 508.2 1476.0 506.9 1476.3 506.3C1476.6 505.8 1477.1 504.0 1477.4 503.5C1477.8 502.9 1478.7 500.9 1479.5 501.2C1480.3 501.6 1483.6 505.9 1484.5 506.2C1485.4 506.6 1487.2 504.7 1487.8 504.2C1488.5 503.7 1489.9 502.0 1490.5 501.4C1491.1 500.8 1492.6 499.0 1493.2 498.8C1493.9 498.5 1495.7 498.7 1496.4 498.9C1497.0 499.0 1498.6 499.6 1499.2 499.9C1499.9 500.1 1501.0 501.2 1502.0 501.2C1503.0 501.3 1507.3 500.4 1508.2 500.0C1509.2 499.6 1510.4 497.8 1511.1 497.2C1511.7 496.6 1513.5 495.3 1514.1 494.7C1514.8 494.1 1516.1 492.1 1517.0 492.0C1517.9 491.9 1521.3 493.3 1522.0 493.8C1522.7 494.2 1523.1 495.7 1523.4 496.3C1523.7 496.9 1524.2 498.5 1524.6 499.0C1524.9 499.6 1526.0 501.2 1526.5 501.2C1527.0 501.3 1528.3 499.7 1528.8 499.3C1529.3 498.9 1530.8 498.1 1531.3 497.6C1531.8 497.1 1532.5 495.0 1533.0 495.0C1533.5 495.0 1535.5 496.8 1536.2 497.4C1536.9 497.9 1538.6 499.6 1539.2 500.0C1539.9 500.4 1541.3 500.9 1541.9 501.3C1542.4 501.6 1543.6 502.9 1544.1 503.2C1544.7 503.6 1546.2 504.6 1546.8 504.5C1547.3 504.4 1548.8 502.9 1549.3 502.4C1549.7 501.8 1550.4 500.0 1550.8 499.4C1551.2 498.8 1552.4 497.4 1553.0 497.0C1553.6 496.6 1555.5 495.8 1556.2 495.7C1556.9 495.5 1558.9 495.6 1559.6 495.5C1560.4 495.4 1562.2 494.9 1563.0 495.0C1563.8 495.1 1566.1 496.0 1566.9 496.4C1567.7 496.9 1569.4 498.8 1570.2 499.2C1571.0 499.6 1573.5 500.4 1574.2 500.5C1575.0 500.6 1576.5 499.8 1577.1 499.7C1577.8 499.5 1579.4 499.4 1580.1 499.3C1580.7 499.2 1582.5 499.2 1583.0 498.8C1583.5 498.3 1584.6 496.3 1585.0 495.5C1585.3 494.7 1585.7 492.5 1586.1 491.8C1586.5 491.0 1587.9 488.8 1588.5 488.8C1589.1 488.7 1590.8 490.6 1591.3 491.3C1591.8 491.9 1592.7 493.9 1593.1 494.6C1593.6 495.3 1594.8 497.2 1595.5 497.5C1596.2 497.8 1598.4 497.3 1599.3 497.4C1600.1 497.4 1602.4 498.3 1603.0 498.0C1603.6 497.7 1604.3 495.2 1604.8 494.5C1605.4 493.9 1607.4 492.7 1608.0 492.1C1608.5 491.4 1609.5 488.7 1610.0 488.8C1610.5 488.8 1611.8 491.4 1612.4 492.1C1612.9 492.8 1614.5 494.5 1615.1 495.1C1615.8 495.7 1617.7 497.1 1618.3 497.8C1618.9 498.4 1619.9 501.0 1620.5 501.2C1621.1 501.5 1623.0 500.3 1623.7 500.0C1624.3 499.7 1626.1 499.0 1626.7 498.6C1627.3 498.1 1628.8 496.9 1629.2 496.2C1629.7 495.6 1630.3 493.5 1630.8 492.8C1631.3 492.1 1633.2 490.8 1633.6 490.1C1634.0 489.5 1634.4 487.2 1634.9 486.5C1635.3 485.8 1636.9 483.8 1637.5 483.8C1638.1 483.7 1640.0 485.3 1640.6 485.8C1641.2 486.4 1642.5 488.0 1643.0 488.6C1643.5 489.2 1644.8 490.7 1645.5 491.2C1646.2 491.8 1648.1 493.3 1648.9 493.8C1649.8 494.2 1652.4 494.6 1653.0 495.0C1653.6 495.4 1654.4 497.0 1654.8 497.6C1655.2 498.2 1656.1 499.7 1656.4 500.3C1656.8 500.9 1657.4 502.6 1657.8 503.2C1658.2 503.8 1659.6 505.6 1660.0 505.5C1660.4 505.4 1661.2 503.1 1661.5 502.5C1661.9 501.8 1662.8 500.1 1663.1 499.5C1663.4 498.8 1664.1 497.0 1664.5 496.4C1664.9 495.7 1666.2 493.9 1666.8 493.8C1667.3 493.6 1668.7 494.9 1669.1 495.4C1669.5 495.8 1670.4 497.3 1670.8 497.7C1671.2 498.2 1672.4 499.3 1673.0 499.5C1673.6 499.7 1675.3 499.8 1676.0 499.8C1676.6 499.8 1678.3 499.8 1678.9 499.7C1679.5 499.6 1681.1 498.6 1681.8 498.8C1682.4 498.9 1684.0 500.2 1684.5 500.7C1685.0 501.2 1686.0 502.8 1686.6 503.3C1687.1 503.8 1688.9 504.6 1689.4 505.1C1690.0 505.6 1691.2 507.6 1691.8 507.5C1692.3 507.4 1693.6 504.9 1694.1 504.0C1694.5 503.2 1695.2 500.9 1695.6 500.1C1696.1 499.3 1698.1 496.9 1698.5 497.0C1698.9 497.1 1699.1 499.8 1699.4 500.6C1699.7 501.4 1700.7 503.1 1701.1 503.8C1701.5 504.5 1702.5 506.3 1703.0 507.0C1703.5 507.7 1705.2 509.4 1705.9 510.0C1706.6 510.6 1708.6 512.5 1709.2 512.5C1709.9 512.5 1711.1 510.4 1711.5 509.7C1711.9 509.1 1712.8 507.2 1713.3 506.6C1713.7 505.9 1714.9 503.7 1715.5 503.8C1716.1 503.8 1717.6 506.1 1718.3 506.7C1719.0 507.2 1721.0 508.7 1721.8 508.8C1722.5 508.8 1724.7 507.3 1725.5 506.9C1726.3 506.5 1728.5 505.1 1729.2 505.0C1730.0 504.9 1731.9 505.5 1732.7 505.6C1733.4 505.6 1735.4 505.3 1736.2 505.3C1736.9 505.3 1738.9 505.4 1739.6 505.5C1740.4 505.6 1742.3 506.0 1743.0 506.2C1743.7 506.5 1745.1 507.6 1745.8 507.8C1746.4 508.0 1748.3 508.3 1748.9 508.5C1749.6 508.7 1751.2 510.1 1751.8 510.0C1752.3 509.9 1753.5 508.0 1754.0 507.6C1754.6 507.1 1756.3 506.4 1757.0 506.0C1757.6 505.6 1759.1 504.7 1759.7 504.3C1760.4 503.9 1762.0 502.4 1762.5 502.5C1763.0 502.6 1764.2 504.9 1764.6 505.6C1765.0 506.3 1766.0 508.2 1766.3 508.9C1766.6 509.7 1767.2 512.5 1767.5 512.5C1767.8 512.5 1769.1 510.0 1769.5 509.2C1769.8 508.4 1770.5 506.4 1770.8 505.6C1771.2 504.8 1772.2 502.9 1772.6 502.2C1772.9 501.4 1773.9 498.8 1774.2 498.8C1774.6 498.7 1775.5 501.4 1776.1 502.0C1776.6 502.7 1778.5 503.9 1779.0 504.5C1779.5 505.2 1779.9 507.6 1780.5 508.0C1781.1 508.4 1783.4 507.8 1784.3 507.9C1785.1 507.9 1787.2 508.4 1788.0 508.4C1788.9 508.4 1791.0 507.3 1791.8 507.5C1792.5 507.7 1794.0 509.9 1794.5 510.6C1795.0 511.4 1796.0 513.6 1796.5 514.3C1797.0 515.1 1798.6 517.4 1799.2 517.5C1799.9 517.6 1801.4 515.4 1802.1 514.9C1802.8 514.4 1804.4 513.3 1805.5 513.0C1806.6 512.7 1810.4 512.1 1811.8 512.0C1813.1 511.9 1817.3 512.0 1818.0 512.0"/>
</g></g>
<g clip-path="url(#cq)" opacity="0.22"><use href="#cv"/></g>
<text class="tick" x="361.5" y="1354.2">10</text>
<text class="tick" x="775.8" y="1354.2">20</text>
<text class="tick" x="1190.1" y="1354.2">30</text>
<text class="tick" x="1604.4" y="1354.2">40</text>
<text class="xt" x="983.2" y="1495.6">2Theta (°)</text>
<text class="yt" transform="translate(92.6 693.5) rotate(-90)">Intensity (a.u.)</text>
<text class="lab" x="1517.6" y="477.6">PA6</text>
<text class="lab" x="1517.6" y="614.1">PA6/PBS-5</text>
<text class="lab" x="1517.6" y="701.5">PA6/PBS-3</text>
<text class="lab" x="1517.6" y="801.7">PA6/PBS-1</text>
<text class="lab" x="1517.6" y="891.8">PA6/PBS-0.8</text>
<text class="lab" x="1517.6" y="981.9">PA6/PBS-0.5</text>
<text class="lab" x="1517.6" y="1091.6">PA6/PBS-0.2</text>
<text class="lab" x="1517.6" y="1175.8">PA6/PBS-0</text>
</svg></body></html>
